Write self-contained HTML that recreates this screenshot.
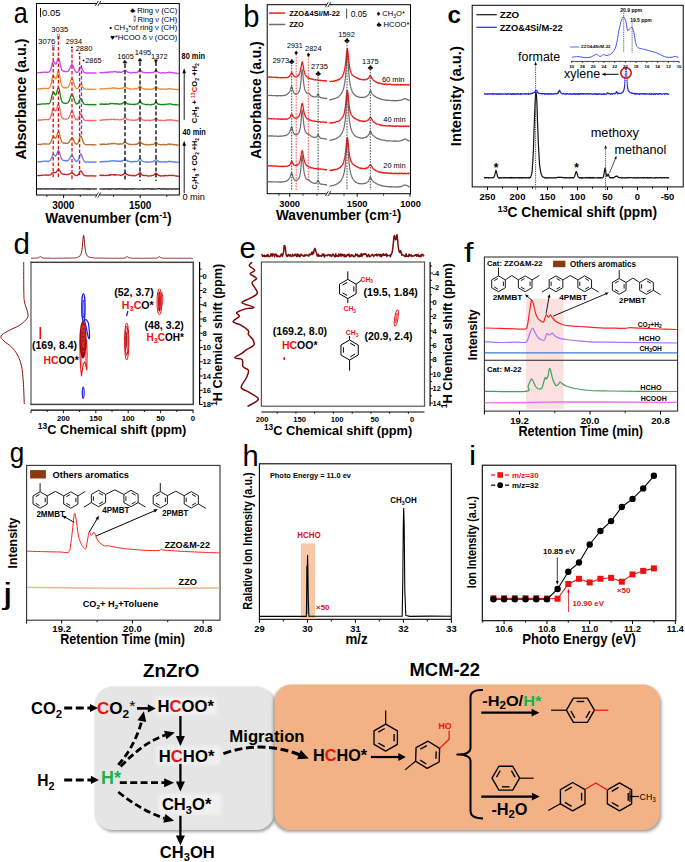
<!DOCTYPE html>
<html><head><meta charset="utf-8"><style>
html,body{margin:0;padding:0;background:#fff;width:685px;height:862px;overflow:hidden}
svg{display:block;font-family:"Liberation Sans", sans-serif}
</style></head><body>
<svg width="685" height="862" viewBox="0 0 685 862">
<text x="13.8" y="22.8" font-size="30" textLength="14.0" lengthAdjust="spacingAndGlyphs" >a</text>
<rect x="36.5" y="3.5" width="142.8" height="191.5" fill="none" stroke="#000" stroke-width="1" />
<text x="26.0" y="99.0" font-size="14.5" font-weight="bold" text-anchor="middle" textLength="121.0" lengthAdjust="spacingAndGlyphs" transform="rotate(-90 26.0 99.0)" >Absorbance (a.u.)</text>
<path d="M37.0,72.8 L37.5,72.8 L38.0,72.6 L38.5,72.6 L39.0,72.6 L39.5,72.6 L40.0,72.7 L40.5,72.5 L41.0,72.5 L41.5,72.5 L42.0,72.5 L42.5,72.3 L43.0,72.2 L43.5,72.3 L44.0,72.2 L44.5,72.0 L45.0,72.3 L45.5,72.3 L46.0,72.2 L46.5,72.3 L47.0,72.1 L47.5,72.3 L48.0,72.4 L48.5,72.2 L49.0,72.0 L49.5,71.4 L50.0,70.9 L50.5,69.9 L51.0,68.6 L51.5,66.8 L52.0,64.6 L52.5,63.0 L53.0,61.6 L53.5,61.4 L54.0,61.6 L54.5,62.3 L55.0,63.6 L55.5,64.1 L56.0,64.1 L56.5,63.0 L57.0,61.1 L57.5,59.6 L58.0,58.4 L58.5,57.9 L59.0,58.8 L59.5,60.9 L60.0,63.0 L60.5,65.6 L61.0,67.5 L61.5,69.3 L62.0,70.3 L62.5,70.8 L63.0,70.9 L63.5,71.2 L64.0,71.4 L64.5,71.6 L65.0,71.3 L65.5,71.6 L66.0,71.7 L66.5,71.6 L67.0,71.7 L67.5,71.4 L68.0,71.3 L68.5,70.7 L69.0,70.0 L69.5,69.0 L70.0,67.9 L70.5,66.6 L71.0,65.6 L71.5,64.8 L72.0,64.5 L72.5,64.9 L73.0,65.9 L73.5,67.1 L74.0,68.3 L74.5,69.4 L75.0,70.7 L75.5,71.6 L76.0,72.1 L76.5,72.4 L77.0,72.5 L77.5,72.3 L78.0,71.6 L78.5,70.8 L79.0,69.9 L79.5,68.6 L80.0,67.8 L80.5,67.1 L81.0,67.1 L81.5,67.5 L82.0,68.6 L82.5,69.6 L83.0,70.7 L83.5,71.7 L84.0,72.4 L84.5,72.7 L85.0,72.9 L85.5,72.7 L86.0,73.0 L86.5,72.9 L87.0,73.0 L87.5,73.1 L88.0,72.9 L88.5,73.0 L89.0,72.8 L89.5,72.9 L90.0,73.1 L90.5,72.9 L91.0,73.1 L91.5,72.8 L92.0,72.8 L92.5,73.1 L93.0,72.8 L93.5,73.0 L94.0,73.1 L94.5,73.0 L95.0,73.1 L95.5,72.8 L96.0,73.0 L96.5,73.0" stroke="#cc44ee" stroke-width="1.3" fill="none" stroke-linejoin="round" />
<path d="M99.5,72.8 L100.1,72.7 L100.7,72.7 L101.3,72.8 L101.9,72.4 L102.5,72.6 L103.1,72.8 L103.7,72.8 L104.3,72.5 L104.9,72.2 L105.5,72.4 L106.1,72.7 L106.7,72.1 L107.3,72.2 L107.9,72.6 L108.5,72.2 L109.1,71.9 L109.7,71.9 L110.3,72.3 L110.9,71.8 L111.5,71.8 L112.1,71.9 L112.7,72.0 L113.3,71.8 L113.9,71.5 L114.5,71.9 L115.1,71.6 L115.7,71.7 L116.3,71.8 L116.9,72.3 L117.5,72.0 L118.1,72.3 L118.7,72.0 L119.3,72.0 L119.9,71.9 L120.5,72.4 L121.1,72.4 L121.7,71.9 L122.3,71.7 L122.9,71.3 L123.5,71.3 L124.1,70.6 L124.7,70.1 L125.3,70.4 L125.9,70.9 L126.5,71.3 L127.1,71.5 L127.7,72.1 L128.3,72.3 L128.9,72.3 L129.5,72.3 L130.1,72.9 L130.7,72.9 L131.3,72.8 L131.9,73.0 L132.5,72.7 L133.1,72.6 L133.7,72.4 L134.3,72.7 L134.9,72.6 L135.5,72.5 L136.1,72.8 L136.7,72.6 L137.3,71.9 L137.9,72.1 L138.5,70.9 L139.1,70.5 L139.7,69.5 L140.3,69.8 L140.9,70.8 L141.5,71.3 L142.1,72.0 L142.7,71.9 L143.3,72.5 L143.9,72.3 L144.5,72.7 L145.1,72.6 L145.7,72.5 L146.3,73.0 L146.9,72.6 L147.5,72.7 L148.1,72.6 L148.7,73.0 L149.3,72.8 L149.9,72.6 L150.5,72.5 L151.1,72.7 L151.7,72.8 L152.3,72.4 L152.9,72.3 L153.5,72.5 L154.1,72.1 L154.7,71.3 L155.3,70.7 L155.9,70.1 L156.5,70.5 L157.1,71.2 L157.7,71.7 L158.3,72.1 L158.9,72.4 L159.5,72.6 L160.1,72.8 L160.7,73.1 L161.3,73.0 L161.9,72.9 L162.5,72.6 L163.1,72.7 L163.7,73.0 L164.3,72.8 L164.9,73.1 L165.5,73.1 L166.1,72.6 L166.7,72.6 L167.3,72.5 L167.9,72.7 L168.5,72.2 L169.1,72.2 L169.7,72.6 L170.3,72.3 L170.9,72.7 L171.5,72.4 L172.1,72.8 L172.7,72.7 L173.3,72.5 L173.9,73.0 L174.5,72.8 L175.1,73.3 L175.7,73.2 L176.3,73.2 L176.9,73.5 L177.5,73.3 L178.1,73.6 L178.7,73.4" stroke="#cc44ee" stroke-width="1.3" fill="none" stroke-linejoin="round" />
<path d="M37.0,88.8 L37.5,89.1 L38.0,89.1 L38.5,88.9 L39.0,88.9 L39.5,88.9 L40.0,88.9 L40.5,89.0 L41.0,88.6 L41.5,88.5 L42.0,88.8 L42.5,88.6 L43.0,88.7 L43.5,88.3 L44.0,88.4 L44.5,88.5 L45.0,88.3 L45.5,88.6 L46.0,88.6 L46.5,88.3 L47.0,88.3 L47.5,88.5 L48.0,88.7 L48.5,88.4 L49.0,88.1 L49.5,87.7 L50.0,86.8 L50.5,85.6 L51.0,84.0 L51.5,81.9 L52.0,79.5 L52.5,77.5 L53.0,76.1 L53.5,75.7 L54.0,76.0 L54.5,77.0 L55.0,78.4 L55.5,78.9 L56.0,78.6 L56.5,77.1 L57.0,75.3 L57.5,73.0 L58.0,71.1 L58.5,70.8 L59.0,72.1 L59.5,74.4 L60.0,77.5 L60.5,80.3 L61.0,83.1 L61.5,85.0 L62.0,86.1 L62.5,87.0 L63.0,87.5 L63.5,87.7 L64.0,87.7 L64.5,87.8 L65.0,87.6 L65.5,87.7 L66.0,88.0 L66.5,87.8 L67.0,87.7 L67.5,87.6 L68.0,87.3 L68.5,86.7 L69.0,85.6 L69.5,84.4 L70.0,83.0 L70.5,81.5 L71.0,80.0 L71.5,79.0 L72.0,78.7 L72.5,79.0 L73.0,80.0 L73.5,81.8 L74.0,83.6 L74.5,85.0 L75.0,86.3 L75.5,87.3 L76.0,88.1 L76.5,88.7 L77.0,88.7 L77.5,88.5 L78.0,88.2 L78.5,87.3 L79.0,86.5 L79.5,85.7 L80.0,84.7 L80.5,84.1 L81.0,84.0 L81.5,84.5 L82.0,85.5 L82.5,86.2 L83.0,87.4 L83.5,88.2 L84.0,88.8 L84.5,89.0 L85.0,89.2 L85.5,89.2 L86.0,89.2 L86.5,89.2 L87.0,89.1 L87.5,89.4 L88.0,89.3 L88.5,89.1 L89.0,89.3 L89.5,89.3 L90.0,89.2 L90.5,89.2 L91.0,89.3 L91.5,89.3 L92.0,89.3 L92.5,89.3 L93.0,89.1 L93.5,89.2 L94.0,89.2 L94.5,89.3 L95.0,89.4 L95.5,89.4 L96.0,89.4 L96.5,89.4" stroke="#f08a30" stroke-width="1.3" fill="none" stroke-linejoin="round" />
<path d="M99.5,88.6 L100.1,89.0 L100.7,88.9 L101.3,88.8 L101.9,88.6 L102.5,89.0 L103.1,89.0 L103.7,88.8 L104.3,88.8 L104.9,88.6 L105.5,88.4 L106.1,88.6 L106.7,88.7 L107.3,88.3 L107.9,88.8 L108.5,88.3 L109.1,88.2 L109.7,88.0 L110.3,88.6 L110.9,88.4 L111.5,88.4 L112.1,88.2 L112.7,87.7 L113.3,87.9 L113.9,88.1 L114.5,87.9 L115.1,88.5 L115.7,88.2 L116.3,88.1 L116.9,88.6 L117.5,88.2 L118.1,88.8 L118.7,88.5 L119.3,88.6 L119.9,88.4 L120.5,88.5 L121.1,88.3 L121.7,88.0 L122.3,88.5 L122.9,87.8 L123.5,87.7 L124.1,86.8 L124.7,87.0 L125.3,86.9 L125.9,87.3 L126.5,87.8 L127.1,88.1 L127.7,88.5 L128.3,88.3 L128.9,88.7 L129.5,89.0 L130.1,88.6 L130.7,89.2 L131.3,89.2 L131.9,88.9 L132.5,88.9 L133.1,88.9 L133.7,88.9 L134.3,89.3 L134.9,88.8 L135.5,88.5 L136.1,88.5 L136.7,88.8 L137.3,88.8 L137.9,88.1 L138.5,87.5 L139.1,86.7 L139.7,86.1 L140.3,85.7 L140.9,86.8 L141.5,87.6 L142.1,88.2 L142.7,88.3 L143.3,88.5 L143.9,88.8 L144.5,89.3 L145.1,89.0 L145.7,89.2 L146.3,89.0 L146.9,88.9 L147.5,88.9 L148.1,89.4 L148.7,89.4 L149.3,89.1 L149.9,89.3 L150.5,89.3 L151.1,89.4 L151.7,89.4 L152.3,88.9 L152.9,89.2 L153.5,89.0 L154.1,88.4 L154.7,88.1 L155.3,87.1 L155.9,86.6 L156.5,86.7 L157.1,87.9 L157.7,88.0 L158.3,88.3 L158.9,89.1 L159.5,89.2 L160.1,89.1 L160.7,89.4 L161.3,88.9 L161.9,89.1 L162.5,89.1 L163.1,89.2 L163.7,89.0 L164.3,88.9 L164.9,89.1 L165.5,89.4 L166.1,89.4 L166.7,89.2 L167.3,88.9 L167.9,88.7 L168.5,89.1 L169.1,88.7 L169.7,88.8 L170.3,88.3 L170.9,88.5 L171.5,89.0 L172.1,89.1 L172.7,89.3 L173.3,89.2 L173.9,89.1 L174.5,89.3 L175.1,89.6 L175.7,89.3 L176.3,89.5 L176.9,89.3 L177.5,89.7 L178.1,89.2 L178.7,89.7" stroke="#f08a30" stroke-width="1.3" fill="none" stroke-linejoin="round" />
<path d="M37.0,104.6 L37.5,104.6 L38.0,104.2 L38.5,104.2 L39.0,104.5 L39.5,104.4 L40.0,104.4 L40.5,104.2 L41.0,104.2 L41.5,104.2 L42.0,104.1 L42.5,103.9 L43.0,103.9 L43.5,103.8 L44.0,103.9 L44.5,104.0 L45.0,104.0 L45.5,103.8 L46.0,103.8 L46.5,103.8 L47.0,103.7 L47.5,103.7 L48.0,103.9 L48.5,103.8 L49.0,103.6 L49.5,103.4 L50.0,102.5 L50.5,101.4 L51.0,99.6 L51.5,97.5 L52.0,95.5 L52.5,93.5 L53.0,92.4 L53.5,92.1 L54.0,92.4 L54.5,93.2 L55.0,94.5 L55.5,95.0 L56.0,94.7 L56.5,93.4 L57.0,91.4 L57.5,89.3 L58.0,87.6 L58.5,87.5 L59.0,88.5 L59.5,90.4 L60.0,93.4 L60.5,96.3 L61.0,98.6 L61.5,100.5 L62.0,101.7 L62.5,102.5 L63.0,102.8 L63.5,103.1 L64.0,103.0 L64.5,103.3 L65.0,103.3 L65.5,103.2 L66.0,103.3 L66.5,103.4 L67.0,103.3 L67.5,103.0 L68.0,102.6 L68.5,102.0 L69.0,101.2 L69.5,99.8 L70.0,98.6 L70.5,96.8 L71.0,95.6 L71.5,94.5 L72.0,94.4 L72.5,94.7 L73.0,95.7 L73.5,97.2 L74.0,98.9 L74.5,100.5 L75.0,101.7 L75.5,102.7 L76.0,103.5 L76.5,104.0 L77.0,104.0 L77.5,103.6 L78.0,103.4 L78.5,102.6 L79.0,101.7 L79.5,100.2 L80.0,99.4 L80.5,98.5 L81.0,98.7 L81.5,99.1 L82.0,100.0 L82.5,101.5 L83.0,102.3 L83.5,103.3 L84.0,104.0 L84.5,104.2 L85.0,104.4 L85.5,104.7 L86.0,104.6 L86.5,104.7 L87.0,104.5 L87.5,104.6 L88.0,104.5 L88.5,104.7 L89.0,104.5 L89.5,104.8 L90.0,104.5 L90.5,104.8 L91.0,104.5 L91.5,104.6 L92.0,104.8 L92.5,104.5 L93.0,104.6 L93.5,104.8 L94.0,104.6 L94.5,104.5 L95.0,104.9 L95.5,104.6 L96.0,104.5 L96.5,104.6" stroke="#158a15" stroke-width="1.3" fill="none" stroke-linejoin="round" />
<path d="M99.5,104.6 L100.1,104.0 L100.7,103.9 L101.3,104.6 L101.9,104.0 L102.5,104.0 L103.1,104.3 L103.7,104.1 L104.3,104.4 L104.9,104.0 L105.5,104.4 L106.1,104.0 L106.7,104.1 L107.3,104.3 L107.9,104.1 L108.5,104.2 L109.1,104.0 L109.7,103.4 L110.3,104.0 L110.9,103.7 L111.5,103.4 L112.1,103.3 L112.7,103.7 L113.3,103.5 L113.9,103.8 L114.5,103.7 L115.1,103.9 L115.7,103.7 L116.3,103.9 L116.9,103.9 L117.5,103.7 L118.1,104.2 L118.7,103.8 L119.3,104.2 L119.9,104.3 L120.5,104.0 L121.1,103.6 L121.7,104.0 L122.3,103.7 L122.9,103.1 L123.5,102.6 L124.1,102.5 L124.7,101.7 L125.3,102.3 L125.9,102.5 L126.5,103.0 L127.1,103.4 L127.7,103.9 L128.3,104.2 L128.9,104.0 L129.5,104.1 L130.1,104.3 L130.7,104.2 L131.3,104.4 L131.9,104.4 L132.5,104.3 L133.1,104.5 L133.7,104.4 L134.3,104.1 L134.9,104.7 L135.5,104.2 L136.1,104.1 L136.7,104.0 L137.3,104.1 L137.9,103.8 L138.5,102.9 L139.1,102.0 L139.7,101.0 L140.3,101.6 L140.9,101.9 L141.5,103.0 L142.1,103.4 L142.7,103.8 L143.3,104.0 L143.9,104.1 L144.5,104.1 L145.1,104.5 L145.7,104.7 L146.3,104.7 L146.9,104.4 L147.5,104.7 L148.1,104.3 L148.7,104.6 L149.3,104.8 L149.9,104.9 L150.5,104.6 L151.1,104.8 L151.7,104.5 L152.3,104.4 L152.9,104.3 L153.5,104.4 L154.1,103.9 L154.7,103.2 L155.3,102.7 L155.9,102.2 L156.5,102.2 L157.1,103.2 L157.7,103.8 L158.3,104.1 L158.9,104.6 L159.5,104.1 L160.1,104.5 L160.7,104.7 L161.3,104.5 L161.9,104.4 L162.5,104.8 L163.1,104.6 L163.7,104.5 L164.3,104.3 L164.9,104.9 L165.5,104.4 L166.1,104.2 L166.7,104.2 L167.3,104.2 L167.9,104.5 L168.5,103.9 L169.1,103.9 L169.7,103.8 L170.3,104.0 L170.9,103.9 L171.5,104.1 L172.1,104.5 L172.7,104.7 L173.3,104.7 L173.9,104.3 L174.5,104.6 L175.1,105.0 L175.7,104.5 L176.3,104.6 L176.9,104.9 L177.5,104.9 L178.1,105.1 L178.7,105.1" stroke="#158a15" stroke-width="1.3" fill="none" stroke-linejoin="round" />
<path d="M37.0,120.1 L37.5,120.2 L38.0,120.1 L38.5,120.2 L39.0,120.2 L39.5,119.9 L40.0,119.9 L40.5,120.2 L41.0,119.9 L41.5,119.8 L42.0,120.1 L42.5,119.8 L43.0,119.9 L43.5,119.7 L44.0,119.7 L44.5,119.5 L45.0,119.7 L45.5,119.7 L46.0,119.6 L46.5,119.7 L47.0,119.7 L47.5,119.5 L48.0,119.8 L48.5,119.7 L49.0,119.4 L49.5,118.9 L50.0,118.5 L50.5,117.2 L51.0,115.8 L51.5,114.0 L52.0,111.8 L52.5,110.1 L53.0,108.6 L53.5,108.3 L54.0,108.6 L54.5,109.7 L55.0,110.7 L55.5,111.0 L56.0,110.8 L56.5,109.6 L57.0,108.1 L57.5,106.0 L58.0,104.7 L58.5,104.2 L59.0,105.3 L59.5,107.2 L60.0,109.8 L60.5,112.5 L61.0,114.8 L61.5,116.6 L62.0,117.6 L62.5,118.4 L63.0,118.7 L63.5,119.0 L64.0,118.9 L64.5,118.8 L65.0,119.1 L65.5,119.2 L66.0,119.2 L66.5,119.1 L67.0,119.1 L67.5,118.8 L68.0,118.7 L68.5,118.1 L69.0,117.2 L69.5,116.0 L70.0,115.0 L70.5,113.7 L71.0,112.1 L71.5,111.6 L72.0,111.2 L72.5,111.5 L73.0,112.5 L73.5,114.0 L74.0,115.5 L74.5,116.5 L75.0,117.9 L75.5,118.6 L76.0,119.5 L76.5,119.6 L77.0,119.9 L77.5,119.8 L78.0,119.1 L78.5,118.4 L79.0,117.1 L79.5,115.8 L80.0,114.9 L80.5,114.0 L81.0,114.0 L81.5,114.7 L82.0,115.8 L82.5,116.8 L83.0,117.9 L83.5,119.2 L84.0,119.6 L84.5,120.2 L85.0,120.4 L85.5,120.3 L86.0,120.4 L86.5,120.4 L87.0,120.5 L87.5,120.5 L88.0,120.5 L88.5,120.5 L89.0,120.6 L89.5,120.5 L90.0,120.4 L90.5,120.6 L91.0,120.4 L91.5,120.4 L92.0,120.7 L92.5,120.5 L93.0,120.5 L93.5,120.3 L94.0,120.5 L94.5,120.5 L95.0,120.3 L95.5,120.5 L96.0,120.5 L96.5,120.3" stroke="#f46a6a" stroke-width="1.3" fill="none" stroke-linejoin="round" />
<path d="M99.5,120.4 L100.1,120.4 L100.7,120.3 L101.3,119.8 L101.9,120.1 L102.5,120.0 L103.1,120.0 L103.7,119.7 L104.3,119.8 L104.9,119.9 L105.5,119.7 L106.1,119.9 L106.7,119.5 L107.3,119.5 L107.9,119.9 L108.5,119.6 L109.1,119.6 L109.7,119.7 L110.3,119.4 L110.9,119.1 L111.5,119.5 L112.1,119.4 L112.7,119.4 L113.3,119.4 L113.9,119.6 L114.5,119.2 L115.1,119.6 L115.7,119.4 L116.3,119.6 L116.9,119.7 L117.5,119.5 L118.1,119.4 L118.7,119.7 L119.3,119.9 L119.9,119.8 L120.5,119.7 L121.1,119.8 L121.7,119.3 L122.3,119.2 L122.9,119.0 L123.5,119.0 L124.1,118.0 L124.7,117.6 L125.3,117.6 L125.9,118.0 L126.5,118.7 L127.1,119.3 L127.7,119.8 L128.3,119.6 L128.9,119.8 L129.5,119.8 L130.1,119.9 L130.7,120.3 L131.3,120.2 L131.9,120.0 L132.5,119.9 L133.1,120.4 L133.7,120.3 L134.3,120.4 L134.9,119.9 L135.5,120.1 L136.1,120.3 L136.7,119.9 L137.3,119.9 L137.9,119.1 L138.5,119.1 L139.1,117.6 L139.7,117.1 L140.3,116.8 L140.9,118.2 L141.5,118.9 L142.1,119.7 L142.7,119.9 L143.3,120.2 L143.9,120.1 L144.5,120.5 L145.1,120.4 L145.7,120.2 L146.3,120.7 L146.9,120.3 L147.5,120.2 L148.1,120.1 L148.7,120.4 L149.3,120.2 L149.9,120.7 L150.5,120.7 L151.1,120.1 L151.7,120.0 L152.3,120.2 L152.9,119.9 L153.5,119.9 L154.1,119.8 L154.7,118.9 L155.3,118.3 L155.9,118.1 L156.5,118.1 L157.1,118.7 L157.7,119.7 L158.3,120.0 L158.9,120.3 L159.5,120.3 L160.1,120.2 L160.7,120.5 L161.3,120.6 L161.9,120.5 L162.5,120.3 L163.1,120.3 L163.7,120.4 L164.3,120.6 L164.9,120.4 L165.5,120.4 L166.1,120.5 L166.7,119.9 L167.3,120.2 L167.9,119.9 L168.5,120.0 L169.1,120.1 L169.7,119.7 L170.3,120.2 L170.9,119.6 L171.5,120.0 L172.1,120.1 L172.7,120.0 L173.3,120.4 L173.9,120.4 L174.5,120.4 L175.1,120.7 L175.7,120.3 L176.3,120.6 L176.9,120.9 L177.5,120.5 L178.1,121.0 L178.7,120.6" stroke="#f46a6a" stroke-width="1.3" fill="none" stroke-linejoin="round" />
<path d="M37.0,144.4 L37.5,144.3 L38.0,144.4 L38.5,144.3 L39.0,144.3 L39.5,144.4 L40.0,144.6 L40.5,144.5 L41.0,144.4 L41.5,144.1 L42.0,144.2 L42.5,144.0 L43.0,143.9 L43.5,143.8 L44.0,143.8 L44.5,144.1 L45.0,144.0 L45.5,144.0 L46.0,144.0 L46.5,143.8 L47.0,143.9 L47.5,144.1 L48.0,144.1 L48.5,144.2 L49.0,144.1 L49.5,143.5 L50.0,143.3 L50.5,142.6 L51.0,141.5 L51.5,140.2 L52.0,139.0 L52.5,137.6 L53.0,137.1 L53.5,136.8 L54.0,136.9 L54.5,137.3 L55.0,138.0 L55.5,138.1 L56.0,137.8 L56.5,136.6 L57.0,134.9 L57.5,133.3 L58.0,132.3 L58.5,131.9 L59.0,132.5 L59.5,134.1 L60.0,136.3 L60.5,138.1 L61.0,139.8 L61.5,141.3 L62.0,142.1 L62.5,142.7 L63.0,142.9 L63.5,143.0 L64.0,143.4 L64.5,143.1 L65.0,143.3 L65.5,143.2 L66.0,143.4 L66.5,143.3 L67.0,143.3 L67.5,143.4 L68.0,143.0 L68.5,142.8 L69.0,142.4 L69.5,141.3 L70.0,140.4 L70.5,139.5 L71.0,138.9 L71.5,138.3 L72.0,137.9 L72.5,138.3 L73.0,138.9 L73.5,139.9 L74.0,140.8 L74.5,142.1 L75.0,143.0 L75.5,143.7 L76.0,144.0 L76.5,144.3 L77.0,143.8 L77.5,143.6 L78.0,143.1 L78.5,141.8 L79.0,140.2 L79.5,138.7 L80.0,137.1 L80.5,136.3 L81.0,136.0 L81.5,136.7 L82.0,138.2 L82.5,139.8 L83.0,141.5 L83.5,143.0 L84.0,143.6 L84.5,144.0 L85.0,144.3 L85.5,144.5 L86.0,144.8 L86.5,144.7 L87.0,144.7 L87.5,144.6 L88.0,144.9 L88.5,144.7 L89.0,144.6 L89.5,144.6 L90.0,144.6 L90.5,144.6 L91.0,144.8 L91.5,144.6 L92.0,144.6 L92.5,144.8 L93.0,144.7 L93.5,145.0 L94.0,144.6 L94.5,144.8 L95.0,144.9 L95.5,144.8 L96.0,145.0 L96.5,144.8" stroke="#c07028" stroke-width="1.3" fill="none" stroke-linejoin="round" />
<path d="M99.5,144.5 L100.1,144.6 L100.7,144.1 L101.3,144.7 L101.9,144.1 L102.5,144.4 L103.1,144.0 L103.7,144.5 L104.3,144.0 L104.9,144.4 L105.5,144.4 L106.1,144.4 L106.7,144.1 L107.3,144.4 L107.9,144.4 L108.5,143.7 L109.1,143.9 L109.7,144.2 L110.3,144.0 L110.9,143.7 L111.5,143.5 L112.1,143.9 L112.7,143.3 L113.3,143.8 L113.9,143.8 L114.5,143.4 L115.1,143.6 L115.7,143.6 L116.3,143.9 L116.9,143.8 L117.5,144.2 L118.1,144.3 L118.7,143.9 L119.3,144.3 L119.9,143.8 L120.5,143.7 L121.1,144.1 L121.7,144.1 L122.3,143.9 L122.9,143.8 L123.5,143.3 L124.1,142.4 L124.7,142.3 L125.3,142.4 L125.9,142.3 L126.5,143.1 L127.1,143.3 L127.7,143.6 L128.3,144.0 L128.9,144.3 L129.5,144.6 L130.1,144.1 L130.7,144.4 L131.3,144.8 L131.9,144.7 L132.5,144.5 L133.1,144.3 L133.7,144.6 L134.3,144.3 L134.9,144.5 L135.5,144.5 L136.1,144.2 L136.7,144.4 L137.3,143.9 L137.9,143.6 L138.5,143.3 L139.1,142.0 L139.7,141.2 L140.3,141.5 L140.9,142.2 L141.5,143.3 L142.1,143.5 L142.7,143.9 L143.3,143.9 L143.9,144.4 L144.5,144.4 L145.1,144.5 L145.7,144.8 L146.3,144.3 L146.9,145.0 L147.5,144.8 L148.1,144.9 L148.7,144.7 L149.3,144.8 L149.9,144.6 L150.5,144.6 L151.1,144.5 L151.7,144.5 L152.3,144.4 L152.9,144.3 L153.5,144.5 L154.1,144.1 L154.7,143.4 L155.3,142.3 L155.9,142.0 L156.5,142.5 L157.1,143.3 L157.7,143.7 L158.3,144.2 L158.9,144.6 L159.5,144.3 L160.1,144.5 L160.7,144.8 L161.3,144.6 L161.9,144.9 L162.5,144.7 L163.1,144.4 L163.7,144.7 L164.3,144.4 L164.9,144.9 L165.5,144.9 L166.1,144.6 L166.7,144.8 L167.3,144.2 L167.9,144.3 L168.5,144.0 L169.1,143.9 L169.7,144.4 L170.3,143.9 L170.9,144.5 L171.5,144.3 L172.1,144.5 L172.7,144.2 L173.3,144.9 L173.9,144.9 L174.5,144.5 L175.1,144.6 L175.7,144.7 L176.3,145.0 L176.9,144.7 L177.5,145.2 L178.1,145.1 L178.7,145.2" stroke="#c07028" stroke-width="1.3" fill="none" stroke-linejoin="round" />
<path d="M37.0,161.8 L37.5,161.9 L38.0,161.9 L38.5,161.9 L39.0,161.8 L39.5,161.9 L40.0,161.5 L40.5,161.6 L41.0,161.8 L41.5,161.6 L42.0,161.6 L42.5,161.3 L43.0,161.3 L43.5,161.2 L44.0,161.3 L44.5,161.2 L45.0,161.0 L45.5,161.1 L46.0,161.1 L46.5,161.4 L47.0,161.4 L47.5,161.2 L48.0,161.5 L48.5,161.2 L49.0,161.3 L49.5,160.9 L50.0,160.4 L50.5,160.1 L51.0,158.9 L51.5,157.8 L52.0,156.9 L52.5,155.8 L53.0,154.8 L53.5,154.8 L54.0,154.8 L54.5,155.3 L55.0,155.6 L55.5,156.1 L56.0,155.6 L56.5,154.8 L57.0,153.4 L57.5,151.8 L58.0,150.8 L58.5,150.5 L59.0,151.1 L59.5,152.5 L60.0,154.3 L60.5,156.2 L61.0,157.5 L61.5,158.9 L62.0,159.5 L62.5,159.9 L63.0,160.4 L63.5,160.4 L64.0,160.4 L64.5,160.5 L65.0,160.7 L65.5,160.5 L66.0,160.9 L66.5,160.5 L67.0,160.8 L67.5,160.8 L68.0,160.2 L68.5,160.2 L69.0,159.5 L69.5,158.9 L70.0,157.8 L70.5,156.9 L71.0,156.2 L71.5,156.0 L72.0,155.5 L72.5,156.0 L73.0,156.7 L73.5,157.6 L74.0,158.4 L74.5,159.4 L75.0,160.2 L75.5,161.0 L76.0,161.1 L76.5,161.5 L77.0,161.5 L77.5,161.1 L78.0,160.1 L78.5,159.4 L79.0,157.7 L79.5,156.2 L80.0,154.9 L80.5,154.2 L81.0,153.9 L81.5,154.9 L82.0,156.0 L82.5,157.5 L83.0,159.0 L83.5,160.1 L84.0,160.9 L84.5,161.4 L85.0,161.9 L85.5,162.2 L86.0,161.9 L86.5,161.9 L87.0,162.2 L87.5,162.1 L88.0,162.0 L88.5,162.0 L89.0,162.1 L89.5,162.2 L90.0,162.0 L90.5,162.0 L91.0,161.9 L91.5,162.2 L92.0,161.9 L92.5,162.1 L93.0,162.2 L93.5,161.9 L94.0,162.2 L94.5,162.3 L95.0,162.1 L95.5,162.2 L96.0,161.9 L96.5,162.1" stroke="#5f7ef8" stroke-width="1.3" fill="none" stroke-linejoin="round" />
<path d="M99.5,161.6 L100.1,162.0 L100.7,161.9 L101.3,161.4 L101.9,161.9 L102.5,161.7 L103.1,161.3 L103.7,161.9 L104.3,161.4 L104.9,161.4 L105.5,161.5 L106.1,161.6 L106.7,161.2 L107.3,161.5 L107.9,161.6 L108.5,161.3 L109.1,161.4 L109.7,161.2 L110.3,161.3 L110.9,160.8 L111.5,160.8 L112.1,160.9 L112.7,160.6 L113.3,161.2 L113.9,161.0 L114.5,160.7 L115.1,161.1 L115.7,161.0 L116.3,160.9 L116.9,161.0 L117.5,161.2 L118.1,161.0 L118.7,161.4 L119.3,161.4 L119.9,161.1 L120.5,161.6 L121.1,161.0 L121.7,160.9 L122.3,161.2 L122.9,160.5 L123.5,160.3 L124.1,159.9 L124.7,159.4 L125.3,159.4 L125.9,159.9 L126.5,160.4 L127.1,160.5 L127.7,161.4 L128.3,161.2 L128.9,161.2 L129.5,161.5 L130.1,161.9 L130.7,161.8 L131.3,161.7 L131.9,161.8 L132.5,161.6 L133.1,161.9 L133.7,161.7 L134.3,161.5 L134.9,161.5 L135.5,161.4 L136.1,161.7 L136.7,161.7 L137.3,161.4 L137.9,160.7 L138.5,160.1 L139.1,159.8 L139.7,158.6 L140.3,158.5 L140.9,159.6 L141.5,160.4 L142.1,161.0 L142.7,161.3 L143.3,161.4 L143.9,161.7 L144.5,161.8 L145.1,162.0 L145.7,161.9 L146.3,161.9 L146.9,162.3 L147.5,161.7 L148.1,162.2 L148.7,162.0 L149.3,162.2 L149.9,162.1 L150.5,162.0 L151.1,162.0 L151.7,161.7 L152.3,161.5 L152.9,161.9 L153.5,161.3 L154.1,160.9 L154.7,160.9 L155.3,160.0 L155.9,159.1 L156.5,159.7 L157.1,160.2 L157.7,161.3 L158.3,161.2 L158.9,162.0 L159.5,161.9 L160.1,161.6 L160.7,161.9 L161.3,162.3 L161.9,162.2 L162.5,161.8 L163.1,161.9 L163.7,161.9 L164.3,161.7 L164.9,162.0 L165.5,162.1 L166.1,161.7 L166.7,161.8 L167.3,162.0 L167.9,161.9 L168.5,161.3 L169.1,161.2 L169.7,161.7 L170.3,161.3 L170.9,161.3 L171.5,161.8 L172.1,161.5 L172.7,162.0 L173.3,162.0 L173.9,161.9 L174.5,162.1 L175.1,162.0 L175.7,162.4 L176.3,162.1 L176.9,162.1 L177.5,162.6 L178.1,162.2 L178.7,162.4" stroke="#5f7ef8" stroke-width="1.3" fill="none" stroke-linejoin="round" />
<path d="M37.0,175.7 L37.5,175.7 L38.0,175.6 L38.5,175.5 L39.0,175.3 L39.5,175.6 L40.0,175.5 L40.5,175.5 L41.0,175.3 L41.5,175.4 L42.0,175.2 L42.5,175.3 L43.0,175.2 L43.5,175.1 L44.0,175.1 L44.5,175.1 L45.0,174.9 L45.5,175.0 L46.0,175.1 L46.5,175.0 L47.0,175.2 L47.5,175.2 L48.0,175.3 L48.5,175.1 L49.0,175.0 L49.5,175.2 L50.0,175.1 L50.5,174.7 L51.0,174.2 L51.5,173.7 L52.0,173.4 L52.5,172.8 L53.0,172.7 L53.5,172.4 L54.0,172.3 L54.5,172.6 L55.0,172.6 L55.5,172.7 L56.0,172.4 L56.5,171.7 L57.0,170.9 L57.5,170.2 L58.0,169.7 L58.5,169.6 L59.0,169.5 L59.5,170.3 L60.0,171.2 L60.5,172.0 L61.0,172.9 L61.5,173.3 L62.0,173.9 L62.5,174.0 L63.0,174.0 L63.5,174.3 L64.0,174.2 L64.5,174.2 L65.0,174.4 L65.5,174.3 L66.0,174.4 L66.5,174.7 L67.0,174.7 L67.5,174.4 L68.0,174.7 L68.5,174.3 L69.0,174.2 L69.5,174.2 L70.0,173.8 L70.5,173.4 L71.0,173.1 L71.5,172.9 L72.0,172.8 L72.5,173.3 L73.0,173.2 L73.5,173.7 L74.0,174.3 L74.5,174.6 L75.0,175.2 L75.5,175.1 L76.0,175.6 L76.5,175.6 L77.0,175.5 L77.5,175.3 L78.0,174.7 L78.5,174.2 L79.0,173.4 L79.5,172.3 L80.0,171.5 L80.5,171.1 L81.0,170.9 L81.5,171.2 L82.0,172.3 L82.5,173.0 L83.0,174.0 L83.5,174.9 L84.0,175.1 L84.5,175.4 L85.0,175.6 L85.5,175.8 L86.0,175.8 L86.5,175.7 L87.0,175.8 L87.5,176.0 L88.0,175.8 L88.5,175.8 L89.0,176.0 L89.5,175.9 L90.0,175.8 L90.5,175.9 L91.0,175.9 L91.5,175.7 L92.0,175.8 L92.5,175.8 L93.0,176.0 L93.5,175.8 L94.0,175.9 L94.5,176.1 L95.0,176.1 L95.5,175.8 L96.0,175.9 L96.5,175.8" stroke="#cc2020" stroke-width="1.3" fill="none" stroke-linejoin="round" />
<path d="M99.5,175.6 L100.1,175.2 L100.7,175.2 L101.3,175.5 L101.9,175.1 L102.5,175.6 L103.1,175.6 L103.7,175.1 L104.3,175.5 L104.9,175.4 L105.5,175.4 L106.1,175.6 L106.7,175.6 L107.3,175.1 L107.9,175.4 L108.5,175.3 L109.1,175.4 L109.7,174.6 L110.3,175.2 L110.9,174.6 L111.5,174.5 L112.1,174.8 L112.7,174.9 L113.3,175.0 L113.9,174.6 L114.5,175.0 L115.1,174.5 L115.7,175.2 L116.3,174.8 L116.9,175.0 L117.5,174.8 L118.1,174.8 L118.7,174.8 L119.3,175.2 L119.9,175.2 L120.5,175.4 L121.1,175.3 L121.7,174.9 L122.3,175.0 L122.9,174.3 L123.5,174.4 L124.1,173.5 L124.7,173.5 L125.3,173.2 L125.9,173.6 L126.5,174.2 L127.1,174.3 L127.7,174.6 L128.3,175.2 L128.9,175.4 L129.5,175.1 L130.1,175.4 L130.7,175.4 L131.3,175.7 L131.9,175.9 L132.5,175.3 L133.1,175.6 L133.7,175.3 L134.3,175.8 L134.9,175.8 L135.5,175.6 L136.1,175.4 L136.7,174.9 L137.3,174.7 L137.9,174.5 L138.5,173.8 L139.1,173.1 L139.7,172.9 L140.3,172.4 L140.9,173.6 L141.5,174.3 L142.1,174.9 L142.7,175.4 L143.3,175.5 L143.9,175.4 L144.5,175.6 L145.1,175.6 L145.7,175.4 L146.3,175.4 L146.9,175.8 L147.5,175.8 L148.1,176.1 L148.7,175.9 L149.3,176.0 L149.9,175.8 L150.5,175.8 L151.1,176.0 L151.7,175.4 L152.3,175.3 L152.9,175.4 L153.5,175.1 L154.1,174.9 L154.7,174.1 L155.3,173.5 L155.9,173.0 L156.5,173.6 L157.1,173.9 L157.7,174.5 L158.3,175.3 L158.9,175.4 L159.5,175.3 L160.1,176.0 L160.7,175.8 L161.3,176.1 L161.9,175.9 L162.5,175.9 L163.1,175.8 L163.7,175.5 L164.3,176.1 L164.9,175.7 L165.5,175.6 L166.1,175.4 L166.7,175.7 L167.3,175.9 L167.9,175.4 L168.5,175.6 L169.1,175.4 L169.7,175.3 L170.3,175.4 L170.9,175.5 L171.5,175.7 L172.1,175.2 L172.7,175.4 L173.3,175.5 L173.9,175.5 L174.5,175.7 L175.1,175.9 L175.7,175.8 L176.3,176.1 L176.9,175.8 L177.5,176.4 L178.1,176.3 L178.7,175.9" stroke="#cc2020" stroke-width="1.3" fill="none" stroke-linejoin="round" />
<path d="M37.0,188.9 L38.0,189.0 L39.0,188.8 L40.0,188.8 L41.0,189.0 L42.0,188.9 L43.0,188.8 L44.0,188.9 L45.0,189.0 L46.0,188.9 L47.0,188.8 L48.0,189.0 L49.0,188.8 L50.0,188.9 L51.0,188.9 L52.0,188.9 L53.0,189.0 L54.0,188.8 L55.0,188.9 L56.0,188.8 L57.0,189.0 L58.0,188.8 L59.0,188.9 L60.0,189.0 L61.0,189.0 L62.0,188.8 L63.0,189.0 L64.0,189.0 L65.0,188.8 L66.0,189.0 L67.0,188.8 L68.0,188.8 L69.0,188.8 L70.0,188.8 L71.0,189.0 L72.0,188.9 L73.0,189.0 L74.0,189.0 L75.0,188.8 L76.0,188.9 L77.0,188.8 L78.0,188.9 L79.0,188.9 L80.0,188.9 L81.0,188.8 L82.0,188.9 L83.0,188.8 L84.0,189.0 L85.0,188.9 L86.0,188.8 L87.0,189.0 L88.0,189.0 L89.0,188.8 L90.0,189.0 L91.0,188.8 L92.0,188.9 L93.0,188.9 L94.0,189.0 L95.0,188.8 L96.0,188.8 L97.0,188.8" stroke="#222" stroke-width="1.3" fill="none" stroke-linejoin="round" />
<path d="M99.5,188.9 L100.5,188.8 L101.5,188.8 L102.5,189.1 L103.5,188.9 L104.5,189.0 L105.5,188.9 L106.5,188.9 L107.5,189.0 L108.5,188.9 L109.5,189.0 L110.5,189.0 L111.5,189.0 L112.5,188.9 L113.5,188.8 L114.5,188.8 L115.5,189.0 L116.5,188.8 L117.5,189.0 L118.5,188.9 L119.5,188.7 L120.5,189.0 L121.5,188.7 L122.5,189.0 L123.5,189.0 L124.5,188.8 L125.5,189.0 L126.5,189.0 L127.5,188.8 L128.5,189.0 L129.5,188.7 L130.5,189.1 L131.5,189.0 L132.5,189.1 L133.5,188.7 L134.5,188.8 L135.5,188.9 L136.5,188.9 L137.5,188.8 L138.5,189.1 L139.5,189.0 L140.5,188.8 L141.5,188.8 L142.5,189.0 L143.5,188.9 L144.5,189.0 L145.5,188.9 L146.5,188.9 L147.5,188.7 L148.5,188.8 L149.5,188.9 L150.5,189.0 L151.5,188.9 L152.5,189.0 L153.5,188.9 L154.5,189.1 L155.5,189.0 L156.5,188.8 L157.5,188.8 L158.5,188.7 L159.5,188.7 L160.5,189.0 L161.5,189.0 L162.5,189.0 L163.5,188.7 L164.5,189.0 L165.5,188.8 L166.5,189.1 L167.5,189.0 L168.5,189.0 L169.5,188.9 L170.5,188.9 L171.5,189.0 L172.5,189.1 L173.5,188.8 L174.5,188.9 L175.5,189.0 L176.5,189.0 L177.5,188.9 L178.5,188.9 L179.5,189.1" stroke="#222" stroke-width="1.3" fill="none" stroke-linejoin="round" />
<line x1="53.2" y1="47.0" x2="53.2" y2="177.0" stroke="#dd1111" stroke-width="1.3" stroke-dasharray="3.5,2" />
<line x1="58.4" y1="36.0" x2="58.4" y2="177.0" stroke="#dd1111" stroke-width="1.3" stroke-dasharray="3.5,2" />
<line x1="72.0" y1="49.0" x2="72.0" y2="179.0" stroke="#dd1111" stroke-width="1.3" stroke-dasharray="3.5,2" />
<line x1="79.6" y1="56.0" x2="79.6" y2="176.0" stroke="#dd1111" stroke-width="1.3" stroke-dasharray="3.5,2" />
<line x1="81.5" y1="65.0" x2="81.5" y2="135.0" stroke="#3355ff" stroke-width="1.3" stroke-dasharray="3.5,2" />
<line x1="125.0" y1="64.0" x2="125.0" y2="181.0" stroke="#000" stroke-width="1.3" stroke-dasharray="4,2.2" />
<line x1="140.0" y1="62.0" x2="140.0" y2="181.0" stroke="#000" stroke-width="1.3" stroke-dasharray="4,2.2" />
<line x1="156.0" y1="62.0" x2="156.0" y2="181.0" stroke="#000" stroke-width="1.3" stroke-dasharray="4,2.2" />
<rect x="96.8" y="2.0" width="2.6" height="3.0" fill="#fff" />
<line x1="95.3" y1="6.0" x2="98.3" y2="1.0" stroke="#000" stroke-width="0.8" />
<line x1="97.8" y1="6.0" x2="100.8" y2="1.0" stroke="#000" stroke-width="0.8" />
<rect x="96.8" y="193.5" width="2.6" height="3.0" fill="#fff" />
<line x1="95.3" y1="197.5" x2="98.3" y2="192.5" stroke="#000" stroke-width="0.8" />
<line x1="97.8" y1="197.5" x2="100.8" y2="192.5" stroke="#000" stroke-width="0.8" />
<line x1="63.6" y1="195.0" x2="63.6" y2="198.0" stroke="#000" stroke-width="1" />
<line x1="140.2" y1="195.0" x2="140.2" y2="198.0" stroke="#000" stroke-width="1" />
<line x1="46.9" y1="195.0" x2="46.9" y2="197.0" stroke="#000" stroke-width="0.8" />
<line x1="80.3" y1="195.0" x2="80.3" y2="197.0" stroke="#000" stroke-width="0.8" />
<line x1="113.6" y1="195.0" x2="113.6" y2="197.0" stroke="#000" stroke-width="0.8" />
<line x1="166.8" y1="195.0" x2="166.8" y2="197.0" stroke="#000" stroke-width="0.8" />
<text x="63.3" y="209.0" font-size="10" font-weight="bold" text-anchor="middle" >3000</text>
<text x="140.2" y="209.0" font-size="10" font-weight="bold" text-anchor="middle" >1500</text>
<text x="45.2" y="222.6" font-size="14" font-weight="bold" textLength="126.5" lengthAdjust="spacingAndGlyphs" >Wavenumber (cm<tspan dy="-4.5" font-size="9">-1</tspan><tspan dy="4.5">)</tspan></text>
<line x1="40.5" y1="8.0" x2="40.5" y2="17.0" stroke="#000" stroke-width="0.9" />
<text x="42.0" y="16.3" font-size="9.5" textLength="18.4" lengthAdjust="spacingAndGlyphs" >0.05</text>
<text x="38.2" y="43.8" font-size="8" textLength="17.0" lengthAdjust="spacingAndGlyphs" >3076</text>
<text x="51.3" y="32.4" font-size="8" textLength="17.0" lengthAdjust="spacingAndGlyphs" >3035</text>
<text x="65.7" y="43.8" font-size="8" textLength="16.3" lengthAdjust="spacingAndGlyphs" >2934</text>
<text x="75.7" y="50.8" font-size="8" textLength="16.6" lengthAdjust="spacingAndGlyphs" >2880</text>
<text x="85.3" y="62.7" font-size="8" textLength="16.3" lengthAdjust="spacingAndGlyphs" >2865</text>
<rect x="52.2" y="45.3" width="2.0" height="4.8" fill="none" stroke="#555" stroke-width="0.5" />
<rect x="57.4" y="34.1" width="2.0" height="4.8" fill="none" stroke="#555" stroke-width="0.5" />
<circle cx="71.9" cy="47.3" r="0.9" fill="#000"/>
<circle cx="79.6" cy="53.3" r="0.9" fill="#000"/>
<circle cx="83.6" cy="60.5" r="0.9" fill="#000"/>
<text x="130.2" y="12.7" font-size="7.6" textLength="47.1" lengthAdjust="spacingAndGlyphs" >♣ Ring ν (CC)</text>
<text x="137.6" y="21.5" font-size="7.6" textLength="39.7" lengthAdjust="spacingAndGlyphs" >Ring ν (CH)</text>
<rect x="134.0" y="16.0" width="1.6" height="5.2" fill="none" stroke="#444" stroke-width="0.5" />
<text x="109.2" y="30.0" font-size="7.6" textLength="68.1" lengthAdjust="spacingAndGlyphs" >• CH<tspan dy="1.5" font-size="5.5">3</tspan><tspan dy="-1.5">*of ring ν (CH)</tspan></text>
<text x="110.2" y="39.9" font-size="7.6" textLength="67.1" lengthAdjust="spacingAndGlyphs" >♥*HCOO δ ν (OCO)</text>
<text x="125.5" y="58.7" font-size="8" text-anchor="middle" textLength="16.5" lengthAdjust="spacingAndGlyphs" >1605</text>
<text x="142.9" y="55.2" font-size="8" text-anchor="middle" textLength="16.5" lengthAdjust="spacingAndGlyphs" >1495</text>
<text x="159.3" y="58.7" font-size="8" text-anchor="middle" textLength="16.5" lengthAdjust="spacingAndGlyphs" >1372</text>
<text x="125.0" y="63.5" font-size="6.5" text-anchor="middle" >♣</text>
<text x="140.0" y="61.5" font-size="6.5" text-anchor="middle" >♣</text>
<text x="156.0" y="62.5" font-size="6.5" text-anchor="middle" >♥</text>
<text x="181.6" y="59.2" font-size="8.2" font-weight="bold" textLength="23.4" lengthAdjust="spacingAndGlyphs" >80 min</text>
<text x="182.4" y="135.0" font-size="8.2" font-weight="bold" textLength="23.4" lengthAdjust="spacingAndGlyphs" >40 min</text>
<text x="182.4" y="200.0" font-size="9.2" textLength="22.6" lengthAdjust="spacingAndGlyphs" >0 min</text>
<line x1="184.2" y1="119.8" x2="184.2" y2="72.3" stroke="#000" stroke-width="0.9" />
<path d="M184.20,68.30 L186.00,73.30 L182.40,73.30 Z" stroke="none" stroke-width="0" fill="#000" stroke-linejoin="round" />
<line x1="184.2" y1="193.0" x2="184.2" y2="144.7" stroke="#000" stroke-width="0.9" />
<path d="M184.20,140.70 L186.00,145.70 L182.40,145.70 Z" stroke="none" stroke-width="0" fill="#000" stroke-linejoin="round" />
<text x="197.5" y="93.2" font-size="7.6" font-weight="bold" text-anchor="middle" textLength="60.0" lengthAdjust="spacingAndGlyphs" transform="rotate(-90 197.5 93.2)" >C<tspan dy="1.5" font-size="5">7</tspan><tspan dy="-1.5">H</tspan><tspan dy="1.5" font-size="5">8</tspan><tspan dy="-1.5"> + </tspan><tspan dy="-2.5" font-size="5" fill="#ee1111">13</tspan><tspan dy="2.5" fill="#ee1111">C</tspan>O<tspan dy="1.5" font-size="5">2</tspan><tspan dy="-1.5"> +H</tspan><tspan dy="1.5" font-size="5">2</tspan></text>
<text x="197.5" y="163.8" font-size="7.6" font-weight="bold" text-anchor="middle" textLength="51.5" lengthAdjust="spacingAndGlyphs" transform="rotate(-90 197.5 163.8)" >C<tspan dy="1.5" font-size="5">7</tspan><tspan dy="-1.5">H</tspan><tspan dy="1.5" font-size="5">8</tspan><tspan dy="-1.5"> + CO</tspan><tspan dy="1.5" font-size="5">2</tspan><tspan dy="-1.5"> +H</tspan><tspan dy="1.5" font-size="5">2</tspan></text>
<text x="243.3" y="27.2" font-size="31.5" textLength="16.2" lengthAdjust="spacingAndGlyphs" >b</text>
<rect x="267.2" y="4.7" width="143.3" height="189.0" fill="none" stroke="#000" stroke-width="1" />
<text x="260.6" y="100.0" font-size="14.5" font-weight="bold" text-anchor="middle" textLength="117.5" lengthAdjust="spacingAndGlyphs" transform="rotate(-90 260.6 100.0)" >Absorbance (a.u.)</text>
<path d="M267.5,95.2 L267.9,95.4 L268.3,95.5 L268.7,95.5 L269.1,95.5 L269.5,95.4 L269.9,95.6 L270.3,95.5 L270.7,95.3 L271.1,95.5 L271.5,95.3 L271.9,95.7 L272.3,95.7 L272.7,95.5 L273.1,95.5 L273.5,95.7 L273.9,95.5 L274.3,95.5 L274.7,95.5 L275.1,95.6 L275.5,95.7 L275.9,95.9 L276.3,95.6 L276.7,95.9 L277.1,95.7 L277.5,95.9 L277.9,95.8 L278.3,95.6 L278.7,95.8 L279.1,95.6 L279.5,95.5 L279.9,95.7 L280.3,95.8 L280.7,95.7 L281.1,95.6 L281.5,95.8 L281.9,95.8 L282.3,95.5 L282.7,95.6 L283.1,95.6 L283.5,95.7 L283.9,95.3 L284.3,95.4 L284.7,95.5 L285.1,95.2 L285.5,95.2 L285.9,95.0 L286.3,94.8 L286.7,94.5 L287.1,94.4 L287.5,94.0 L287.9,93.6 L288.3,93.4 L288.7,92.8 L289.1,92.3 L289.5,91.8 L289.9,91.1 L290.3,90.2 L290.7,88.8 L291.1,87.3 L291.5,86.4 L291.9,86.7 L292.3,88.0 L292.7,89.7 L293.1,91.1 L293.5,92.1 L293.9,92.9 L294.3,93.2 L294.7,93.8 L295.1,94.1 L295.5,93.9 L295.9,94.2 L296.3,94.2 L296.7,93.9 L297.1,93.7 L297.5,93.7 L297.9,93.2 L298.3,92.8 L298.7,92.4 L299.1,91.6 L299.5,90.6 L299.9,89.1 L300.3,87.0 L300.7,83.9 L301.1,80.0 L301.5,75.0 L301.9,70.6 L302.3,69.5 L302.7,72.2 L303.1,77.1 L303.5,81.7 L303.9,84.8 L304.3,87.3 L304.7,89.0 L305.1,90.3 L305.5,91.1 L305.9,91.9 L306.3,92.5 L306.7,92.7 L307.1,93.3 L307.5,93.5 L307.9,93.3 L308.3,93.4 L308.7,93.5 L309.1,93.6 L309.5,93.9 L309.9,94.5 L310.3,94.8 L310.7,95.1 L311.1,95.8 L311.5,95.9 L311.9,96.2 L312.3,96.3 L312.7,96.4 L313.1,96.6 L313.5,96.6 L313.9,96.9 L314.3,96.8 L314.7,96.8 L315.1,96.8 L315.5,96.9 L315.9,97.0 L316.3,96.8 L316.7,96.6 L317.1,95.8 L317.5,94.8 L317.9,94.0 L318.3,93.9 L318.7,95.3 L319.1,96.1 L319.5,96.7 L319.9,97.1 L320.3,97.4 L320.7,97.8 L321.1,98.0 L321.5,97.9 L321.9,97.8 L322.3,97.8 L322.7,97.9 L323.1,98.1 L323.5,98.3 L323.9,98.3 L324.3,98.4 L324.7,98.5 L325.1,98.3 L325.5,98.5 L325.9,98.4 L326.3,98.6 L326.7,98.4 L327.1,98.7" stroke="#6e6e6e" stroke-width="1.2" fill="none" stroke-linejoin="round" />
<path d="M329.5,100.0 L329.9,99.8 L330.3,99.9 L330.7,99.6 L331.1,99.6 L331.5,99.4 L331.9,99.4 L332.3,99.2 L332.7,99.2 L333.1,99.1 L333.5,98.8 L333.9,99.0 L334.3,98.9 L334.7,98.5 L335.1,98.5 L335.5,98.3 L335.9,98.1 L336.3,98.0 L336.7,97.8 L337.1,97.5 L337.5,97.3 L337.9,97.1 L338.3,97.0 L338.7,96.7 L339.1,96.3 L339.5,95.8 L339.9,95.6 L340.3,95.2 L340.7,94.7 L341.1,93.9 L341.5,93.3 L341.9,92.6 L342.3,91.9 L342.7,91.2 L343.1,90.1 L343.5,88.8 L343.9,87.2 L344.3,85.4 L344.7,83.4 L345.1,80.4 L345.5,76.5 L345.9,70.9 L346.3,64.5 L346.7,57.5 L347.1,52.8 L347.5,52.7 L347.9,57.6 L348.3,64.5 L348.7,71.1 L349.1,76.2 L349.5,80.1 L349.9,82.9 L350.3,85.6 L350.7,87.1 L351.1,88.7 L351.5,89.7 L351.9,90.6 L352.3,91.8 L352.7,92.3 L353.1,92.9 L353.5,93.7 L353.9,94.2 L354.3,94.3 L354.7,95.1 L355.1,95.1 L355.5,95.4 L355.9,95.7 L356.3,96.3 L356.7,96.4 L357.1,96.6 L357.5,96.8 L357.9,96.8 L358.3,96.8 L358.7,97.0 L359.1,97.1 L359.5,97.4 L359.9,97.2 L360.3,97.3 L360.7,97.4 L361.1,97.3 L361.5,97.4 L361.9,97.4 L362.3,97.4 L362.7,97.4 L363.1,97.6 L363.5,97.5 L363.9,97.1 L364.3,97.1 L364.7,97.1 L365.1,97.0 L365.5,96.8 L365.9,96.7 L366.3,96.6 L366.7,96.3 L367.1,95.9 L367.5,95.6 L367.9,95.5 L368.3,94.9 L368.7,94.4 L369.1,93.7 L369.5,92.6 L369.9,91.5 L370.3,90.8 L370.7,90.8 L371.1,91.6 L371.5,92.7 L371.9,93.4 L372.3,94.0 L372.7,94.5 L373.1,94.9 L373.5,95.2 L373.9,95.5 L374.3,96.1 L374.7,96.1 L375.1,96.6 L375.5,96.8 L375.9,96.9 L376.3,97.2 L376.7,97.5 L377.1,97.8 L377.5,97.9 L377.9,97.9 L378.3,98.1 L378.7,98.3 L379.1,98.4 L379.5,98.8 L379.9,99.0 L380.3,98.8 L380.7,99.2 L381.1,99.4 L381.5,99.2 L381.9,99.4 L382.3,99.4 L382.7,99.6 L383.1,99.8 L383.5,99.6 L383.9,99.8 L384.3,99.9 L384.7,100.1 L385.1,100.2 L385.5,100.2 L385.9,100.1 L386.3,100.1 L386.7,100.4 L387.1,100.4 L387.5,100.4 L387.9,100.4 L388.3,100.5 L388.7,100.2 L389.1,100.3 L389.5,100.5 L389.9,100.4 L390.3,100.5 L390.7,100.5 L391.1,100.6 L391.5,100.5 L391.9,100.8 L392.3,100.6 L392.7,100.4 L393.1,100.5 L393.5,100.6 L393.9,100.8 L394.3,100.7 L394.7,100.8 L395.1,100.6 L395.5,100.5 L395.9,100.6 L396.3,100.8 L396.7,100.6 L397.1,100.8 L397.5,100.7 L397.9,100.7 L398.3,100.6 L398.7,100.3 L399.1,100.5 L399.5,100.3 L399.9,100.3 L400.3,100.2 L400.7,100.2 L401.1,100.1 L401.5,100.1 L401.9,100.0 L402.3,99.8 L402.7,99.6 L403.1,99.2 L403.5,99.1 L403.9,98.9 L404.3,98.7 L404.7,98.5 L405.1,98.6 L405.5,98.9 L405.9,99.0 L406.3,99.2 L406.7,99.1 L407.1,99.6 L407.5,99.7 L407.9,99.8 L408.3,100.0 L408.7,100.1 L409.1,100.2 L409.5,100.6 L409.9,100.6" stroke="#6e6e6e" stroke-width="1.2" fill="none" stroke-linejoin="round" />
<path d="M267.5,76.9 L267.9,76.8 L268.3,77.2 L268.7,77.1 L269.1,77.1 L269.5,77.3 L269.9,76.9 L270.3,77.2 L270.7,77.0 L271.1,77.0 L271.5,77.1 L271.9,77.3 L272.3,77.4 L272.7,77.3 L273.1,77.2 L273.5,77.1 L273.9,77.2 L274.3,77.2 L274.7,77.3 L275.1,77.4 L275.5,77.2 L275.9,77.3 L276.3,77.6 L276.7,77.6 L277.1,77.3 L277.5,77.7 L277.9,77.5 L278.3,77.5 L278.7,77.7 L279.1,77.7 L279.5,77.6 L279.9,77.6 L280.3,77.6 L280.7,77.8 L281.1,77.8 L281.5,77.5 L281.9,77.4 L282.3,77.6 L282.7,77.6 L283.1,77.8 L283.5,77.8 L283.9,77.5 L284.3,77.7 L284.7,77.7 L285.1,77.7 L285.5,77.5 L285.9,77.7 L286.3,77.5 L286.7,77.8 L287.1,77.4 L287.5,77.4 L287.9,77.4 L288.3,77.1 L288.7,77.2 L289.1,76.7 L289.5,76.3 L289.9,75.7 L290.3,75.0 L290.7,74.3 L291.1,73.5 L291.5,72.4 L291.9,72.8 L292.3,73.5 L292.7,73.9 L293.1,75.1 L293.5,75.5 L293.9,75.9 L294.3,76.6 L294.7,76.5 L295.1,76.7 L295.5,76.9 L295.9,76.8 L296.3,76.9 L296.7,76.8 L297.1,76.4 L297.5,76.0 L297.9,76.1 L298.3,75.4 L298.7,75.0 L299.1,74.4 L299.5,73.8 L299.9,72.4 L300.3,71.3 L300.7,69.3 L301.1,67.0 L301.5,64.5 L301.9,62.3 L302.3,61.8 L302.7,63.4 L303.1,65.7 L303.5,68.1 L303.9,70.1 L304.3,71.8 L304.7,73.2 L305.1,74.3 L305.5,74.9 L305.9,75.4 L306.3,76.2 L306.7,76.5 L307.1,77.2 L307.5,77.5 L307.9,77.6 L308.3,77.7 L308.7,78.2 L309.1,78.3 L309.5,78.6 L309.9,78.7 L310.3,78.6 L310.7,78.8 L311.1,79.0 L311.5,78.9 L311.9,79.0 L312.3,79.4 L312.7,79.1 L313.1,79.3 L313.5,79.3 L313.9,79.8 L314.3,79.8 L314.7,79.9 L315.1,79.9 L315.5,79.7 L315.9,80.1 L316.3,79.9 L316.7,79.9 L317.1,79.8 L317.5,80.0 L317.9,80.1 L318.3,80.4 L318.7,80.2 L319.1,80.2 L319.5,80.4 L319.9,80.3 L320.3,80.6 L320.7,80.4 L321.1,80.3 L321.5,80.5 L321.9,80.6 L322.3,80.7 L322.7,80.5 L323.1,80.7 L323.5,80.8 L323.9,80.6 L324.3,80.7 L324.7,80.8 L325.1,81.0 L325.5,80.7 L325.9,80.8 L326.3,81.2 L326.7,81.0 L327.1,80.8" stroke="#ee1c1c" stroke-width="1.3" fill="none" stroke-linejoin="round" />
<path d="M329.5,81.6 L329.9,81.4 L330.3,81.7 L330.7,81.7 L331.1,81.5 L331.5,81.1 L331.9,81.2 L332.3,81.2 L332.7,81.6 L333.1,81.3 L333.5,81.1 L333.9,81.2 L334.3,80.7 L334.7,81.0 L335.1,80.9 L335.5,80.5 L335.9,80.5 L336.3,80.4 L336.7,80.7 L337.1,80.1 L337.5,79.7 L337.9,80.1 L338.3,80.0 L338.7,79.4 L339.1,79.5 L339.5,79.4 L339.9,78.7 L340.3,78.6 L340.7,78.2 L341.1,77.8 L341.5,77.4 L341.9,77.1 L342.3,76.5 L342.7,75.9 L343.1,74.5 L343.5,74.0 L343.9,72.4 L344.3,70.9 L344.7,69.1 L345.1,66.8 L345.5,64.1 L345.9,60.2 L346.3,56.1 L346.7,52.2 L347.1,49.1 L347.5,48.8 L347.9,52.0 L348.3,55.9 L348.7,59.9 L349.1,63.5 L349.5,66.3 L349.9,68.7 L350.3,70.7 L350.7,71.5 L351.1,72.7 L351.5,73.4 L351.9,74.3 L352.3,75.1 L352.7,75.0 L353.1,75.4 L353.5,75.8 L353.9,76.3 L354.3,76.5 L354.7,76.8 L355.1,76.8 L355.5,77.2 L355.9,77.2 L356.3,77.7 L356.7,77.7 L357.1,78.3 L357.5,78.3 L357.9,78.2 L358.3,78.8 L358.7,78.8 L359.1,79.0 L359.5,78.9 L359.9,79.4 L360.3,79.3 L360.7,79.2 L361.1,79.6 L361.5,79.5 L361.9,79.7 L362.3,79.6 L362.7,79.6 L363.1,79.6 L363.5,79.6 L363.9,80.1 L364.3,79.6 L364.7,79.7 L365.1,79.8 L365.5,79.4 L365.9,79.3 L366.3,79.3 L366.7,79.6 L367.1,79.4 L367.5,79.0 L367.9,78.3 L368.3,78.1 L368.7,78.0 L369.1,77.2 L369.5,76.4 L369.9,76.0 L370.3,76.1 L370.7,75.8 L371.1,76.8 L371.5,77.0 L371.9,78.2 L372.3,78.9 L372.7,78.9 L373.1,79.7 L373.5,80.4 L373.9,80.8 L374.3,80.9 L374.7,81.0 L375.1,81.4 L375.5,81.5 L375.9,82.0 L376.3,82.0 L376.7,82.5 L377.1,82.7 L377.5,82.7 L377.9,82.8 L378.3,83.2 L378.7,82.9 L379.1,83.3 L379.5,83.1 L379.9,83.1 L380.3,83.5 L380.7,83.5 L381.1,83.6 L381.5,83.6 L381.9,83.6 L382.3,83.9 L382.7,83.8 L383.1,84.3 L383.5,84.3 L383.9,84.1 L384.3,83.9 L384.7,84.5 L385.1,84.1 L385.5,83.9 L385.9,84.4 L386.3,84.1 L386.7,84.7 L387.1,84.3 L387.5,84.1 L387.9,84.6 L388.3,84.3 L388.7,84.2 L389.1,84.2 L389.5,84.5 L389.9,84.2 L390.3,84.3 L390.7,84.4 L391.1,84.6 L391.5,84.5 L391.9,84.7 L392.3,84.9 L392.7,84.9 L393.1,84.5 L393.5,84.8 L393.9,84.9 L394.3,84.6 L394.7,84.7 L395.1,84.8 L395.5,84.7 L395.9,84.7 L396.3,85.0 L396.7,84.6 L397.1,84.4 L397.5,84.6 L397.9,84.5 L398.3,84.9 L398.7,84.7 L399.1,84.8 L399.5,84.9 L399.9,84.9 L400.3,84.5 L400.7,85.0 L401.1,85.1 L401.5,84.6 L401.9,84.5 L402.3,84.6 L402.7,84.9 L403.1,84.7 L403.5,85.1 L403.9,84.8 L404.3,84.6 L404.7,84.6 L405.1,84.8 L405.5,84.5 L405.9,84.9 L406.3,84.7 L406.7,85.0 L407.1,84.8 L407.5,84.8 L407.9,85.0 L408.3,84.5 L408.7,84.8 L409.1,84.7 L409.5,85.1 L409.9,84.8" stroke="#ee1c1c" stroke-width="1.3" fill="none" stroke-linejoin="round" />
<path d="M267.5,135.9 L267.9,135.8 L268.3,136.1 L268.7,136.1 L269.1,135.9 L269.5,136.0 L269.9,135.8 L270.3,135.9 L270.7,135.9 L271.1,136.1 L271.5,135.9 L271.9,136.2 L272.3,135.9 L272.7,135.9 L273.1,135.9 L273.5,136.2 L273.9,136.1 L274.3,136.1 L274.7,136.1 L275.1,136.2 L275.5,136.1 L275.9,136.1 L276.3,136.1 L276.7,136.1 L277.1,136.0 L277.5,136.3 L277.9,136.3 L278.3,136.3 L278.7,136.4 L279.1,136.2 L279.5,136.2 L279.9,136.2 L280.3,136.2 L280.7,136.3 L281.1,136.0 L281.5,136.1 L281.9,136.2 L282.3,136.0 L282.7,135.9 L283.1,136.1 L283.5,135.8 L283.9,136.0 L284.3,135.7 L284.7,135.6 L285.1,135.6 L285.5,135.4 L285.9,135.3 L286.3,135.3 L286.7,135.2 L287.1,134.8 L287.5,134.6 L287.9,134.2 L288.3,133.8 L288.7,133.5 L289.1,132.7 L289.5,132.3 L289.9,131.5 L290.3,130.6 L290.7,129.1 L291.1,127.7 L291.5,126.6 L291.9,126.9 L292.3,128.6 L292.7,130.3 L293.1,131.7 L293.5,132.5 L293.9,133.5 L294.3,134.0 L294.7,134.3 L295.1,134.6 L295.5,134.4 L295.9,134.5 L296.3,134.7 L296.7,134.6 L297.1,134.5 L297.5,134.1 L297.9,134.0 L298.3,133.3 L298.7,133.0 L299.1,132.2 L299.5,131.0 L299.9,129.4 L300.3,127.5 L300.7,124.7 L301.1,120.6 L301.5,115.5 L301.9,111.0 L302.3,110.0 L302.7,112.7 L303.1,117.8 L303.5,121.9 L303.9,125.2 L304.3,127.5 L304.7,129.6 L305.1,130.9 L305.5,131.6 L305.9,132.2 L306.3,133.0 L306.7,133.5 L307.1,133.5 L307.5,133.9 L307.9,134.1 L308.3,134.0 L308.7,134.1 L309.1,134.4 L309.5,134.5 L309.9,134.9 L310.3,135.5 L310.7,135.8 L311.1,136.1 L311.5,136.3 L311.9,136.8 L312.3,136.8 L312.7,137.1 L313.1,137.3 L313.5,137.2 L313.9,137.2 L314.3,137.3 L314.7,137.3 L315.1,137.3 L315.5,137.3 L315.9,137.3 L316.3,137.2 L316.7,136.9 L317.1,136.4 L317.5,135.5 L317.9,134.5 L318.3,134.4 L318.7,135.6 L319.1,136.6 L319.5,137.1 L319.9,137.7 L320.3,137.9 L320.7,138.2 L321.1,138.4 L321.5,138.3 L321.9,138.4 L322.3,138.5 L322.7,138.5 L323.1,138.5 L323.5,138.5 L323.9,138.9 L324.3,138.9 L324.7,138.8 L325.1,138.9 L325.5,138.8 L325.9,139.0 L326.3,139.1 L326.7,139.1 L327.1,139.0" stroke="#6e6e6e" stroke-width="1.2" fill="none" stroke-linejoin="round" />
<path d="M329.5,140.5 L329.9,140.2 L330.3,140.4 L330.7,140.2 L331.1,140.0 L331.5,140.1 L331.9,139.8 L332.3,139.7 L332.7,139.7 L333.1,139.5 L333.5,139.6 L333.9,139.4 L334.3,139.2 L334.7,139.0 L335.1,138.9 L335.5,138.9 L335.9,138.8 L336.3,138.4 L336.7,138.4 L337.1,138.0 L337.5,137.9 L337.9,137.5 L338.3,137.3 L338.7,137.0 L339.1,136.8 L339.5,136.4 L339.9,135.8 L340.3,135.3 L340.7,135.0 L341.1,134.4 L341.5,133.8 L341.9,133.4 L342.3,132.6 L342.7,131.4 L343.1,130.4 L343.5,129.4 L343.9,128.1 L344.3,126.2 L344.7,123.8 L345.1,120.9 L345.5,116.8 L345.9,111.6 L346.3,105.3 L346.7,98.0 L347.1,93.4 L347.5,93.4 L347.9,98.0 L348.3,105.2 L348.7,111.4 L349.1,116.9 L349.5,120.7 L349.9,123.6 L350.3,125.9 L350.7,127.9 L351.1,129.0 L351.5,130.2 L351.9,131.3 L352.3,132.3 L352.7,132.7 L353.1,133.6 L353.5,134.0 L353.9,134.6 L354.3,135.0 L354.7,135.6 L355.1,135.8 L355.5,136.2 L355.9,136.5 L356.3,136.5 L356.7,137.0 L357.1,137.1 L357.5,137.1 L357.9,137.4 L358.3,137.4 L358.7,137.5 L359.1,137.6 L359.5,137.8 L359.9,138.0 L360.3,137.8 L360.7,138.0 L361.1,138.2 L361.5,138.0 L361.9,138.1 L362.3,138.1 L362.7,138.1 L363.1,137.9 L363.5,138.1 L363.9,137.8 L364.3,137.6 L364.7,137.5 L365.1,137.4 L365.5,137.2 L365.9,137.4 L366.3,136.8 L366.7,136.9 L367.1,136.6 L367.5,136.2 L367.9,135.6 L368.3,135.2 L368.7,134.9 L369.1,133.9 L369.5,133.1 L369.9,131.8 L370.3,131.0 L370.7,131.3 L371.1,132.2 L371.5,133.1 L371.9,134.1 L372.3,134.7 L372.7,135.2 L373.1,135.5 L373.5,135.8 L373.9,136.1 L374.3,136.5 L374.7,136.7 L375.1,137.1 L375.5,137.5 L375.9,137.4 L376.3,137.8 L376.7,137.8 L377.1,138.3 L377.5,138.4 L377.9,138.6 L378.3,138.8 L378.7,138.7 L379.1,139.2 L379.5,139.0 L379.9,139.2 L380.3,139.5 L380.7,139.8 L381.1,139.8 L381.5,140.0 L381.9,139.8 L382.3,140.0 L382.7,140.1 L383.1,140.1 L383.5,140.1 L383.9,140.2 L384.3,140.2 L384.7,140.2 L385.1,140.4 L385.5,140.7 L385.9,140.6 L386.3,140.8 L386.7,140.7 L387.1,140.7 L387.5,140.9 L387.9,140.8 L388.3,140.8 L388.7,140.8 L389.1,140.7 L389.5,140.7 L389.9,140.9 L390.3,141.0 L390.7,140.9 L391.1,141.0 L391.5,141.0 L391.9,141.2 L392.3,141.0 L392.7,141.1 L393.1,141.2 L393.5,141.2 L393.9,141.3 L394.3,140.9 L394.7,141.1 L395.1,141.0 L395.5,141.3 L395.9,141.0 L396.3,141.3 L396.7,141.1 L397.1,141.2 L397.5,141.2 L397.9,141.2 L398.3,141.2 L398.7,141.0 L399.1,141.0 L399.5,141.1 L399.9,141.0 L400.3,140.8 L400.7,140.8 L401.1,140.7 L401.5,140.5 L401.9,140.3 L402.3,140.2 L402.7,140.2 L403.1,139.7 L403.5,139.8 L403.9,139.3 L404.3,139.1 L404.7,139.2 L405.1,139.2 L405.5,139.1 L405.9,139.3 L406.3,139.6 L406.7,139.9 L407.1,139.9 L407.5,140.2 L407.9,140.4 L408.3,140.7 L408.7,140.9 L409.1,140.9 L409.5,140.8 L409.9,141.0" stroke="#6e6e6e" stroke-width="1.2" fill="none" stroke-linejoin="round" />
<path d="M267.5,118.2 L267.9,118.5 L268.3,118.4 L268.7,118.7 L269.1,118.6 L269.5,118.5 L269.9,118.8 L270.3,118.5 L270.7,118.8 L271.1,118.6 L271.5,118.7 L271.9,118.9 L272.3,118.9 L272.7,118.8 L273.1,118.9 L273.5,118.5 L273.9,118.8 L274.3,119.0 L274.7,119.0 L275.1,118.8 L275.5,118.8 L275.9,118.8 L276.3,118.9 L276.7,118.8 L277.1,119.2 L277.5,119.1 L277.9,119.0 L278.3,118.9 L278.7,119.0 L279.1,119.0 L279.5,118.9 L279.9,119.0 L280.3,119.1 L280.7,119.3 L281.1,119.4 L281.5,118.9 L281.9,119.0 L282.3,119.4 L282.7,119.0 L283.1,119.1 L283.5,119.2 L283.9,119.2 L284.3,119.1 L284.7,119.3 L285.1,119.3 L285.5,118.9 L285.9,119.2 L286.3,119.0 L286.7,119.1 L287.1,119.0 L287.5,119.0 L287.9,118.9 L288.3,118.5 L288.7,118.3 L289.1,118.0 L289.5,117.7 L289.9,117.4 L290.3,116.8 L290.7,115.7 L291.1,114.9 L291.5,114.3 L291.9,114.3 L292.3,114.9 L292.7,115.7 L293.1,116.6 L293.5,117.0 L293.9,117.6 L294.3,117.8 L294.7,118.0 L295.1,118.2 L295.5,118.3 L295.9,118.0 L296.3,118.2 L296.7,118.1 L297.1,118.2 L297.5,117.8 L297.9,117.3 L298.3,117.0 L298.7,116.7 L299.1,115.8 L299.5,115.4 L299.9,113.9 L300.3,112.7 L300.7,110.8 L301.1,108.7 L301.5,105.8 L301.9,103.8 L302.3,103.3 L302.7,104.6 L303.1,107.0 L303.5,109.7 L303.9,111.6 L304.3,113.3 L304.7,114.9 L305.1,115.5 L305.5,116.8 L305.9,117.1 L306.3,117.8 L306.7,118.3 L307.1,118.8 L307.5,119.0 L307.9,118.9 L308.3,119.5 L308.7,119.8 L309.1,119.9 L309.5,120.0 L309.9,119.9 L310.3,120.0 L310.7,120.2 L311.1,120.6 L311.5,120.4 L311.9,120.7 L312.3,120.9 L312.7,120.9 L313.1,121.1 L313.5,121.2 L313.9,121.2 L314.3,120.9 L314.7,121.3 L315.1,121.3 L315.5,121.5 L315.9,121.3 L316.3,121.3 L316.7,121.3 L317.1,121.5 L317.5,121.4 L317.9,121.8 L318.3,121.7 L318.7,121.7 L319.1,121.7 L319.5,121.6 L319.9,121.7 L320.3,122.1 L320.7,121.8 L321.1,122.0 L321.5,122.1 L321.9,122.2 L322.3,121.9 L322.7,122.1 L323.1,122.0 L323.5,122.0 L323.9,122.2 L324.3,122.3 L324.7,122.2 L325.1,122.3 L325.5,122.4 L325.9,122.2 L326.3,122.6 L326.7,122.2 L327.1,122.5" stroke="#ee1c1c" stroke-width="1.3" fill="none" stroke-linejoin="round" />
<path d="M329.5,123.0 L329.9,123.2 L330.3,122.7 L330.7,122.8 L331.1,122.9 L331.5,123.2 L331.9,122.7 L332.3,122.9 L332.7,122.4 L333.1,122.4 L333.5,122.7 L333.9,122.6 L334.3,122.6 L334.7,122.3 L335.1,122.3 L335.5,122.0 L335.9,121.9 L336.3,121.7 L336.7,121.6 L337.1,121.7 L337.5,121.6 L337.9,121.6 L338.3,121.3 L338.7,121.2 L339.1,121.0 L339.5,120.2 L339.9,120.6 L340.3,120.0 L340.7,119.6 L341.1,119.0 L341.5,118.6 L341.9,118.0 L342.3,117.5 L342.7,117.3 L343.1,116.2 L343.5,115.5 L343.9,114.5 L344.3,112.8 L344.7,110.7 L345.1,108.3 L345.5,105.9 L345.9,101.9 L346.3,97.5 L346.7,93.7 L347.1,90.4 L347.5,90.8 L347.9,92.9 L348.3,97.4 L348.7,101.5 L349.1,105.5 L349.5,107.9 L349.9,110.2 L350.3,112.1 L350.7,113.3 L351.1,114.5 L351.5,115.3 L351.9,115.4 L352.3,116.0 L352.7,116.7 L353.1,117.0 L353.5,117.7 L353.9,117.5 L354.3,118.3 L354.7,118.4 L355.1,118.6 L355.5,118.5 L355.9,119.1 L356.3,119.3 L356.7,119.6 L357.1,119.5 L357.5,120.0 L357.9,119.8 L358.3,120.2 L358.7,120.1 L359.1,120.4 L359.5,121.0 L359.9,121.2 L360.3,120.7 L360.7,121.1 L361.1,120.8 L361.5,121.1 L361.9,121.2 L362.3,121.1 L362.7,121.0 L363.1,121.5 L363.5,121.6 L363.9,121.1 L364.3,121.2 L364.7,121.4 L365.1,121.4 L365.5,121.3 L365.9,120.9 L366.3,121.2 L366.7,121.0 L367.1,120.8 L367.5,120.5 L367.9,119.9 L368.3,120.1 L368.7,119.4 L369.1,118.8 L369.5,118.3 L369.9,117.8 L370.3,117.1 L370.7,117.3 L371.1,118.0 L371.5,118.6 L371.9,119.7 L372.3,120.0 L372.7,120.9 L373.1,121.3 L373.5,121.8 L373.9,122.2 L374.3,122.4 L374.7,122.4 L375.1,123.2 L375.5,123.3 L375.9,123.4 L376.3,123.9 L376.7,124.1 L377.1,124.1 L377.5,124.1 L377.9,124.2 L378.3,124.2 L378.7,124.3 L379.1,124.4 L379.5,125.0 L379.9,124.7 L380.3,125.2 L380.7,125.0 L381.1,125.0 L381.5,125.6 L381.9,125.3 L382.3,125.1 L382.7,125.6 L383.1,125.6 L383.5,125.9 L383.9,125.8 L384.3,125.6 L384.7,125.8 L385.1,125.5 L385.5,125.6 L385.9,125.8 L386.3,125.6 L386.7,126.1 L387.1,126.1 L387.5,125.8 L387.9,126.1 L388.3,125.9 L388.7,125.7 L389.1,125.8 L389.5,125.7 L389.9,126.2 L390.3,125.9 L390.7,125.7 L391.1,125.8 L391.5,126.0 L391.9,126.3 L392.3,125.9 L392.7,126.3 L393.1,126.3 L393.5,125.8 L393.9,126.0 L394.3,126.4 L394.7,126.3 L395.1,126.3 L395.5,125.8 L395.9,126.0 L396.3,126.3 L396.7,125.9 L397.1,126.0 L397.5,125.9 L397.9,126.2 L398.3,126.0 L398.7,126.4 L399.1,125.9 L399.5,126.4 L399.9,126.6 L400.3,126.1 L400.7,126.2 L401.1,126.5 L401.5,126.1 L401.9,126.3 L402.3,126.0 L402.7,126.2 L403.1,126.3 L403.5,126.0 L403.9,126.6 L404.3,126.2 L404.7,126.0 L405.1,126.0 L405.5,126.1 L405.9,126.0 L406.3,126.5 L406.7,126.1 L407.1,126.3 L407.5,126.3 L407.9,126.2 L408.3,126.4 L408.7,126.2 L409.1,126.5 L409.5,126.4 L409.9,126.4" stroke="#ee1c1c" stroke-width="1.3" fill="none" stroke-linejoin="round" />
<path d="M267.5,181.5 L267.9,181.7 L268.3,181.6 L268.7,181.8 L269.1,181.8 L269.5,181.7 L269.9,181.8 L270.3,181.8 L270.7,181.6 L271.1,181.8 L271.5,181.9 L271.9,181.8 L272.3,182.0 L272.7,182.0 L273.1,181.8 L273.5,181.8 L273.9,181.8 L274.3,182.0 L274.7,182.0 L275.1,182.0 L275.5,181.9 L275.9,182.0 L276.3,181.9 L276.7,182.0 L277.1,181.9 L277.5,182.0 L277.9,182.1 L278.3,182.1 L278.7,181.9 L279.1,181.8 L279.5,181.9 L279.9,182.1 L280.3,182.0 L280.7,182.1 L281.1,181.9 L281.5,181.9 L281.9,182.1 L282.3,181.8 L282.7,181.8 L283.1,181.9 L283.5,181.8 L283.9,181.7 L284.3,181.7 L284.7,181.6 L285.1,181.6 L285.5,181.5 L285.9,181.4 L286.3,181.1 L286.7,180.9 L287.1,180.8 L287.5,180.3 L287.9,180.0 L288.3,179.7 L288.7,179.2 L289.1,178.6 L289.5,178.1 L289.9,177.3 L290.3,176.5 L290.7,175.1 L291.1,173.7 L291.5,172.8 L291.9,172.8 L292.3,174.2 L292.7,176.1 L293.1,177.5 L293.5,178.3 L293.9,179.0 L294.3,179.8 L294.7,180.2 L295.1,180.2 L295.5,180.3 L295.9,180.5 L296.3,180.6 L296.7,180.2 L297.1,180.2 L297.5,180.0 L297.9,179.5 L298.3,179.2 L298.7,178.5 L299.1,177.9 L299.5,176.7 L299.9,175.2 L300.3,173.3 L300.7,170.3 L301.1,166.3 L301.5,161.3 L301.9,156.9 L302.3,155.6 L302.7,158.7 L303.1,163.4 L303.5,167.7 L303.9,171.0 L304.3,173.4 L304.7,175.3 L305.1,176.4 L305.5,177.4 L305.9,178.3 L306.3,178.9 L306.7,179.2 L307.1,179.6 L307.5,179.7 L307.9,179.6 L308.3,179.6 L308.7,179.8 L309.1,180.2 L309.5,180.3 L309.9,180.9 L310.3,181.4 L310.7,181.8 L311.1,181.9 L311.5,182.0 L311.9,182.4 L312.3,182.5 L312.7,182.9 L313.1,183.0 L313.5,183.2 L313.9,183.2 L314.3,183.4 L314.7,183.3 L315.1,183.3 L315.5,183.4 L315.9,183.1 L316.3,183.1 L316.7,182.8 L317.1,182.3 L317.5,181.0 L317.9,180.1 L318.3,180.5 L318.7,181.2 L319.1,182.4 L319.5,183.1 L319.9,183.5 L320.3,183.9 L320.7,184.1 L321.1,184.0 L321.5,184.0 L321.9,184.4 L322.3,184.3 L322.7,184.3 L323.1,184.3 L323.5,184.3 L323.9,184.6 L324.3,184.5 L324.7,184.6 L325.1,184.8 L325.5,184.7 L325.9,184.9 L326.3,184.6 L326.7,184.9 L327.1,184.9" stroke="#6e6e6e" stroke-width="1.2" fill="none" stroke-linejoin="round" />
<path d="M329.5,186.2 L329.9,186.2 L330.3,186.1 L330.7,186.0 L331.1,186.0 L331.5,185.9 L331.9,185.6 L332.3,185.5 L332.7,185.5 L333.1,185.4 L333.5,185.5 L333.9,185.3 L334.3,185.1 L334.7,184.9 L335.1,184.7 L335.5,184.7 L335.9,184.6 L336.3,184.1 L336.7,184.1 L337.1,183.8 L337.5,183.7 L337.9,183.3 L338.3,182.9 L338.7,182.9 L339.1,182.4 L339.5,182.2 L339.9,181.9 L340.3,181.3 L340.7,181.0 L341.1,180.4 L341.5,179.5 L341.9,178.9 L342.3,178.3 L342.7,177.4 L343.1,176.2 L343.5,175.3 L343.9,173.7 L344.3,171.8 L344.7,169.6 L345.1,166.4 L345.5,162.6 L345.9,157.3 L346.3,151.0 L346.7,144.2 L347.1,139.0 L347.5,139.0 L347.9,144.0 L348.3,151.0 L348.7,157.2 L349.1,162.5 L349.5,166.5 L349.9,169.3 L350.3,171.5 L350.7,173.6 L351.1,174.9 L351.5,176.1 L351.9,177.1 L352.3,177.8 L352.7,178.6 L353.1,179.3 L353.5,179.9 L353.9,180.2 L354.3,180.6 L354.7,181.2 L355.1,181.6 L355.5,181.9 L355.9,182.3 L356.3,182.3 L356.7,182.6 L357.1,182.8 L357.5,183.0 L357.9,183.2 L358.3,183.5 L358.7,183.3 L359.1,183.6 L359.5,183.7 L359.9,183.8 L360.3,183.7 L360.7,183.6 L361.1,183.8 L361.5,183.9 L361.9,183.9 L362.3,183.7 L362.7,183.7 L363.1,183.7 L363.5,183.5 L363.9,183.8 L364.3,183.5 L364.7,183.4 L365.1,183.5 L365.5,183.3 L365.9,182.9 L366.3,183.0 L366.7,182.7 L367.1,182.3 L367.5,182.0 L367.9,181.8 L368.3,181.3 L368.7,180.6 L369.1,179.7 L369.5,178.9 L369.9,177.8 L370.3,177.2 L370.7,177.3 L371.1,178.1 L371.5,179.2 L371.9,179.8 L372.3,180.5 L372.7,181.0 L373.1,181.3 L373.5,181.5 L373.9,182.1 L374.3,182.3 L374.7,182.5 L375.1,182.8 L375.5,183.0 L375.9,183.4 L376.3,183.5 L376.7,183.7 L377.1,184.0 L377.5,184.2 L377.9,184.3 L378.3,184.4 L378.7,184.7 L379.1,184.8 L379.5,185.0 L379.9,185.2 L380.3,185.2 L380.7,185.2 L381.1,185.3 L381.5,185.6 L381.9,185.9 L382.3,185.9 L382.7,186.1 L383.1,185.8 L383.5,185.9 L383.9,186.2 L384.3,186.1 L384.7,186.2 L385.1,186.4 L385.5,186.2 L385.9,186.6 L386.3,186.3 L386.7,186.5 L387.1,186.6 L387.5,186.6 L387.9,186.7 L388.3,186.6 L388.7,186.6 L389.1,186.8 L389.5,186.9 L389.9,186.6 L390.3,186.6 L390.7,187.0 L391.1,186.7 L391.5,186.7 L391.9,186.9 L392.3,186.8 L392.7,187.0 L393.1,186.9 L393.5,187.0 L393.9,186.8 L394.3,186.8 L394.7,186.8 L395.1,187.1 L395.5,187.1 L395.9,186.9 L396.3,186.8 L396.7,186.8 L397.1,186.8 L397.5,187.1 L397.9,187.1 L398.3,187.0 L398.7,186.7 L399.1,186.6 L399.5,186.9 L399.9,186.8 L400.3,186.8 L400.7,186.7 L401.1,186.6 L401.5,186.1 L401.9,186.3 L402.3,186.0 L402.7,186.0 L403.1,185.5 L403.5,185.4 L403.9,185.1 L404.3,185.1 L404.7,185.0 L405.1,185.1 L405.5,185.0 L405.9,185.3 L406.3,185.3 L406.7,185.4 L407.1,185.6 L407.5,185.8 L407.9,186.0 L408.3,186.4 L408.7,186.6 L409.1,186.8 L409.5,186.8 L409.9,186.7" stroke="#6e6e6e" stroke-width="1.2" fill="none" stroke-linejoin="round" />
<path d="M267.5,165.6 L267.9,165.7 L268.3,165.6 L268.7,165.9 L269.1,165.8 L269.5,165.9 L269.9,165.7 L270.3,166.0 L270.7,165.9 L271.1,165.9 L271.5,165.7 L271.9,165.9 L272.3,166.1 L272.7,166.0 L273.1,165.9 L273.5,166.0 L273.9,165.8 L274.3,165.9 L274.7,166.2 L275.1,166.1 L275.5,166.0 L275.9,166.4 L276.3,166.1 L276.7,166.1 L277.1,166.0 L277.5,166.2 L277.9,166.2 L278.3,166.1 L278.7,166.5 L279.1,166.3 L279.5,166.3 L279.9,166.5 L280.3,166.3 L280.7,166.6 L281.1,166.4 L281.5,166.3 L281.9,166.4 L282.3,166.6 L282.7,166.5 L283.1,166.2 L283.5,166.6 L283.9,166.4 L284.3,166.3 L284.7,166.4 L285.1,166.2 L285.5,166.4 L285.9,166.4 L286.3,166.3 L286.7,166.2 L287.1,166.1 L287.5,166.2 L287.9,166.2 L288.3,165.6 L288.7,165.7 L289.1,165.5 L289.5,165.3 L289.9,164.6 L290.3,164.0 L290.7,163.0 L291.1,162.2 L291.5,161.4 L291.9,161.2 L292.3,162.0 L292.7,162.9 L293.1,163.7 L293.5,164.2 L293.9,165.0 L294.3,165.2 L294.7,165.4 L295.1,165.3 L295.5,165.3 L295.9,165.3 L296.3,165.4 L296.7,165.2 L297.1,165.3 L297.5,164.9 L297.9,164.9 L298.3,164.1 L298.7,163.8 L299.1,163.4 L299.5,162.4 L299.9,161.4 L300.3,160.0 L300.7,158.0 L301.1,155.5 L301.5,152.9 L301.9,151.4 L302.3,150.6 L302.7,152.0 L303.1,154.1 L303.5,156.8 L303.9,158.9 L304.3,160.5 L304.7,162.0 L305.1,163.0 L305.5,163.8 L305.9,164.6 L306.3,165.2 L306.7,165.5 L307.1,165.5 L307.5,166.1 L307.9,166.4 L308.3,166.8 L308.7,166.8 L309.1,167.0 L309.5,167.0 L309.9,167.2 L310.3,167.6 L310.7,167.3 L311.1,167.8 L311.5,168.0 L311.9,167.7 L312.3,167.8 L312.7,168.0 L313.1,168.3 L313.5,168.4 L313.9,168.5 L314.3,168.4 L314.7,168.4 L315.1,168.5 L315.5,168.6 L315.9,168.7 L316.3,168.5 L316.7,168.9 L317.1,168.6 L317.5,169.0 L317.9,168.8 L318.3,168.7 L318.7,168.7 L319.1,169.1 L319.5,169.2 L319.9,168.9 L320.3,168.9 L320.7,169.1 L321.1,169.3 L321.5,169.1 L321.9,169.2 L322.3,169.2 L322.7,169.1 L323.1,169.2 L323.5,169.3 L323.9,169.5 L324.3,169.6 L324.7,169.6 L325.1,169.8 L325.5,169.6 L325.9,169.7 L326.3,169.8 L326.7,169.6 L327.1,170.0" stroke="#ee1c1c" stroke-width="1.3" fill="none" stroke-linejoin="round" />
<path d="M329.5,170.2 L329.9,170.2 L330.3,170.5 L330.7,170.5 L331.1,170.0 L331.5,170.3 L331.9,170.4 L332.3,170.2 L332.7,169.6 L333.1,170.2 L333.5,169.6 L333.9,169.9 L334.3,169.4 L334.7,169.6 L335.1,169.4 L335.5,169.5 L335.9,169.5 L336.3,169.4 L336.7,169.3 L337.1,169.2 L337.5,168.8 L337.9,168.6 L338.3,168.6 L338.7,168.3 L339.1,168.2 L339.5,167.7 L339.9,167.8 L340.3,167.5 L340.7,166.6 L341.1,166.7 L341.5,166.1 L341.9,165.6 L342.3,165.2 L342.7,164.4 L343.1,163.6 L343.5,162.8 L343.9,161.1 L344.3,159.6 L344.7,157.9 L345.1,155.7 L345.5,152.5 L345.9,148.8 L346.3,144.8 L346.7,140.9 L347.1,138.0 L347.5,137.7 L347.9,140.7 L348.3,144.7 L348.7,148.8 L349.1,152.0 L349.5,155.1 L349.9,157.3 L350.3,158.8 L350.7,160.3 L351.1,161.5 L351.5,162.0 L351.9,162.8 L352.3,163.7 L352.7,163.9 L353.1,164.4 L353.5,164.4 L353.9,164.7 L354.3,165.4 L354.7,165.6 L355.1,165.4 L355.5,166.0 L355.9,166.3 L356.3,166.5 L356.7,166.8 L357.1,167.0 L357.5,166.9 L357.9,167.3 L358.3,167.3 L358.7,167.6 L359.1,167.9 L359.5,168.1 L359.9,168.2 L360.3,168.3 L360.7,168.0 L361.1,168.6 L361.5,168.3 L361.9,168.7 L362.3,168.2 L362.7,168.6 L363.1,168.5 L363.5,168.9 L363.9,168.7 L364.3,168.5 L364.7,168.6 L365.1,168.4 L365.5,168.7 L365.9,168.0 L366.3,168.4 L366.7,168.3 L367.1,167.7 L367.5,167.8 L367.9,167.6 L368.3,167.1 L368.7,166.8 L369.1,166.0 L369.5,165.4 L369.9,165.1 L370.3,164.5 L370.7,164.8 L371.1,165.5 L371.5,165.8 L371.9,166.6 L372.3,167.5 L372.7,167.8 L373.1,168.7 L373.5,168.9 L373.9,169.5 L374.3,169.5 L374.7,169.7 L375.1,170.3 L375.5,170.1 L375.9,170.8 L376.3,170.8 L376.7,170.9 L377.1,171.0 L377.5,171.4 L377.9,171.7 L378.3,171.9 L378.7,172.1 L379.1,171.9 L379.5,172.2 L379.9,172.2 L380.3,171.9 L380.7,172.3 L381.1,172.5 L381.5,172.2 L381.9,172.3 L382.3,172.9 L382.7,172.8 L383.1,172.6 L383.5,172.6 L383.9,173.1 L384.3,173.0 L384.7,172.9 L385.1,173.0 L385.5,173.2 L385.9,172.7 L386.3,172.8 L386.7,172.8 L387.1,173.3 L387.5,172.8 L387.9,172.8 L388.3,173.4 L388.7,173.0 L389.1,172.8 L389.5,173.5 L389.9,173.4 L390.3,173.1 L390.7,173.5 L391.1,173.5 L391.5,172.9 L391.9,173.4 L392.3,173.5 L392.7,173.6 L393.1,173.5 L393.5,173.5 L393.9,173.5 L394.3,173.4 L394.7,173.7 L395.1,173.1 L395.5,173.3 L395.9,173.1 L396.3,173.6 L396.7,173.6 L397.1,173.4 L397.5,173.4 L397.9,173.7 L398.3,173.4 L398.7,173.5 L399.1,173.6 L399.5,173.1 L399.9,173.3 L400.3,173.4 L400.7,173.6 L401.1,173.4 L401.5,173.1 L401.9,173.3 L402.3,173.5 L402.7,173.5 L403.1,173.8 L403.5,173.8 L403.9,173.2 L404.3,173.7 L404.7,173.2 L405.1,173.2 L405.5,173.7 L405.9,173.7 L406.3,173.7 L406.7,173.8 L407.1,173.2 L407.5,173.6 L407.9,173.3 L408.3,173.2 L408.7,173.8 L409.1,173.3 L409.5,173.6 L409.9,173.7" stroke="#ee1c1c" stroke-width="1.3" fill="none" stroke-linejoin="round" />
<line x1="291.7" y1="62.0" x2="291.7" y2="190.0" stroke="#333" stroke-width="0.9" stroke-dasharray="1.6,1.2" />
<line x1="296.2" y1="54.0" x2="296.2" y2="190.0" stroke="#ff3333" stroke-width="0.9" stroke-dasharray="1.6,1.2" />
<line x1="308.3" y1="56.0" x2="308.3" y2="181.0" stroke="#ff3333" stroke-width="0.9" stroke-dasharray="1.6,1.2" />
<line x1="318.1" y1="74.0" x2="318.1" y2="190.0" stroke="#333" stroke-width="0.9" stroke-dasharray="1.6,1.2" />
<line x1="347.0" y1="42.0" x2="347.0" y2="190.0" stroke="#333" stroke-width="0.9" stroke-dasharray="1.6,1.2" />
<line x1="370.3" y1="69.0" x2="370.3" y2="190.0" stroke="#333" stroke-width="0.9" stroke-dasharray="1.6,1.2" />
<rect x="326.8" y="3.2" width="2.6" height="3.0" fill="#fff" />
<line x1="325.3" y1="7.2" x2="328.3" y2="2.2" stroke="#000" stroke-width="0.8" />
<line x1="327.8" y1="7.2" x2="330.8" y2="2.2" stroke="#000" stroke-width="0.8" />
<rect x="326.8" y="192.2" width="2.6" height="3.0" fill="#fff" />
<line x1="325.3" y1="196.2" x2="328.3" y2="191.2" stroke="#000" stroke-width="0.8" />
<line x1="327.8" y1="196.2" x2="330.8" y2="191.2" stroke="#000" stroke-width="0.8" />
<line x1="289.7" y1="193.7" x2="289.7" y2="196.7" stroke="#000" stroke-width="1" />
<line x1="357.2" y1="193.7" x2="357.2" y2="196.7" stroke="#000" stroke-width="1" />
<line x1="410.0" y1="193.7" x2="410.0" y2="196.7" stroke="#000" stroke-width="1" />
<line x1="278.9" y1="193.7" x2="278.9" y2="195.7" stroke="#000" stroke-width="0.8" />
<line x1="303.0" y1="193.7" x2="303.0" y2="195.7" stroke="#000" stroke-width="0.8" />
<line x1="317.0" y1="193.7" x2="317.0" y2="195.7" stroke="#000" stroke-width="0.8" />
<line x1="344.0" y1="193.7" x2="344.0" y2="195.7" stroke="#000" stroke-width="0.8" />
<line x1="383.6" y1="193.7" x2="383.6" y2="195.7" stroke="#000" stroke-width="0.8" />
<text x="289.7" y="206.7" font-size="9.3" font-weight="bold" text-anchor="middle" >3000</text>
<text x="357.2" y="206.7" font-size="9.3" font-weight="bold" text-anchor="middle" >1500</text>
<text x="410.5" y="206.7" font-size="9.3" font-weight="bold" text-anchor="middle" >1000</text>
<text x="276.0" y="220.3" font-size="14" font-weight="bold" textLength="125.4" lengthAdjust="spacingAndGlyphs" >Wavenumber (cm<tspan dy="-4.5" font-size="9">-1</tspan><tspan dy="4.5">)</tspan></text>
<line x1="268.9" y1="13.1" x2="285.2" y2="13.1" stroke="#ee1c1c" stroke-width="1.5" />
<line x1="268.9" y1="24.5" x2="285.2" y2="24.5" stroke="#6e6e6e" stroke-width="1.5" />
<text x="289.2" y="15.8" font-size="7.5" font-weight="bold" textLength="50.8" lengthAdjust="spacingAndGlyphs" >ZZO&amp;4Si/M-22</text>
<text x="289.2" y="27.2" font-size="7.5" font-weight="bold" textLength="14.5" lengthAdjust="spacingAndGlyphs" >ZZO</text>
<line x1="346.6" y1="8.8" x2="346.6" y2="18.4" stroke="#666" stroke-width="1.2" />
<text x="350.7" y="16.6" font-size="9" textLength="16.3" lengthAdjust="spacingAndGlyphs" >0.05</text>
<text x="376.4" y="16.2" font-size="7.5" textLength="28.5" lengthAdjust="spacingAndGlyphs" >♦ CH<tspan dy="1.5" font-size="5">3</tspan><tspan dy="-1.5">O*</tspan></text>
<text x="376.4" y="27.4" font-size="7.5" textLength="33.0" lengthAdjust="spacingAndGlyphs" >♣ HCOO*</text>
<text x="272.4" y="63.0" font-size="8" textLength="16.8" lengthAdjust="spacingAndGlyphs" >2973</text>
<text x="287.0" y="48.2" font-size="8" textLength="15.7" lengthAdjust="spacingAndGlyphs" >2931</text>
<text x="305.0" y="50.8" font-size="8" textLength="16.5" lengthAdjust="spacingAndGlyphs" >2824</text>
<text x="311.0" y="69.2" font-size="8" textLength="17.0" lengthAdjust="spacingAndGlyphs" >2735</text>
<text x="346.6" y="37.0" font-size="8" text-anchor="middle" textLength="16.5" lengthAdjust="spacingAndGlyphs" >1592</text>
<text x="370.3" y="64.0" font-size="8" text-anchor="middle" textLength="16.5" lengthAdjust="spacingAndGlyphs" >1375</text>
<text x="291.7" y="63.8" font-size="8" text-anchor="middle" >♣</text>
<text x="318.1" y="75.5" font-size="8" text-anchor="middle" >♣</text>
<text x="346.9" y="43.0" font-size="8" text-anchor="middle" >♣</text>
<text x="370.3" y="69.7" font-size="8" text-anchor="middle" >♣</text>
<text x="296.2" y="55.0" font-size="7.5" text-anchor="middle" >♦</text>
<text x="308.3" y="57.2" font-size="7.5" text-anchor="middle" >♦</text>
<text x="381.9" y="81.5" font-size="8" textLength="22.6" lengthAdjust="spacingAndGlyphs" >60 min</text>
<text x="383.3" y="121.5" font-size="8" textLength="22.3" lengthAdjust="spacingAndGlyphs" >40 min</text>
<text x="383.3" y="168.2" font-size="8" textLength="22.3" lengthAdjust="spacingAndGlyphs" >20 min</text>
<text x="447.5" y="23.0" font-size="23" font-weight="bold" textLength="13.5" lengthAdjust="spacingAndGlyphs" >c</text>
<rect x="472.2" y="5.3" width="211.0" height="181.6" fill="none" stroke="#000" stroke-width="1" />
<text x="461.5" y="96.2" font-size="14.5" font-weight="bold" text-anchor="middle" textLength="100.0" lengthAdjust="spacingAndGlyphs" transform="rotate(-90 461.5 96.2)" >Intensity (a.u.)</text>
<path d="M484.0,177.5 L484.4,177.6 L484.7,177.9 L485.1,177.6 L485.4,178.0 L485.8,177.7 L486.1,177.5 L486.4,177.8 L486.8,177.6 L487.1,177.5 L487.5,177.7 L487.9,177.8 L488.2,177.6 L488.6,178.0 L488.9,177.7 L489.2,177.9 L489.6,177.7 L489.9,177.6 L490.3,177.8 L490.6,177.9 L491.0,177.8 L491.4,177.9 L491.7,177.6 L492.1,177.6 L492.4,177.6 L492.8,177.8 L493.1,178.0 L493.4,177.6 L493.8,177.6 L494.1,176.6 L494.5,175.7 L494.9,174.6 L495.2,173.0 L495.6,171.6 L495.9,170.4 L496.2,170.9 L496.6,171.8 L496.9,173.7 L497.3,175.2 L497.6,176.5 L498.0,177.3 L498.4,177.8 L498.7,177.7 L499.1,178.1 L499.4,177.7 L499.8,178.0 L500.1,177.6 L500.4,177.9 L500.8,178.0 L501.1,177.8 L501.5,177.7 L501.9,178.0 L502.2,178.0 L502.6,177.9 L502.9,177.7 L503.2,177.8 L503.6,177.5 L503.9,177.8 L504.3,177.7 L504.6,177.9 L505.0,177.5 L505.4,177.8 L505.7,177.6 L506.1,177.7 L506.4,178.1 L506.8,178.0 L507.1,177.9 L507.4,177.7 L507.8,177.6 L508.1,177.5 L508.5,177.8 L508.9,178.1 L509.2,177.9 L509.6,177.6 L509.9,178.1 L510.2,177.6 L510.6,177.5 L510.9,177.8 L511.3,177.8 L511.6,177.5 L512.0,178.1 L512.4,177.7 L512.7,177.7 L513.0,177.5 L513.4,177.5 L513.8,178.1 L514.1,178.1 L514.5,177.9 L514.8,177.5 L515.1,177.6 L515.5,177.6 L515.9,177.5 L516.2,178.0 L516.5,177.8 L516.9,177.5 L517.2,177.7 L517.6,177.8 L518.0,177.8 L518.3,177.8 L518.6,177.6 L519.0,178.0 L519.4,177.6 L519.7,177.8 L520.0,177.9 L520.4,177.6 L520.8,177.5 L521.1,178.1 L521.5,177.9 L521.8,177.6 L522.1,177.9 L522.5,177.6 L522.9,178.0 L523.2,177.5 L523.5,177.6 L523.9,177.6 L524.2,177.9 L524.6,178.0 L525.0,177.6 L525.3,178.0 L525.6,177.7 L526.0,177.8 L526.4,177.9 L526.7,177.6 L527.0,177.9 L527.4,177.7 L527.8,177.6 L528.1,177.9 L528.5,177.8 L528.8,177.5 L529.1,178.0 L529.5,177.9 L529.9,177.6 L530.2,177.7 L530.5,177.4 L530.9,176.4 L531.2,175.6 L531.6,174.4 L532.0,172.1 L532.3,169.0 L532.6,164.1 L533.0,158.0 L533.4,150.5 L533.7,141.7 L534.0,130.9 L534.4,120.8 L534.8,110.5 L535.1,101.7 L535.5,95.3 L535.8,92.3 L536.1,92.5 L536.5,95.9 L536.9,102.6 L537.2,111.4 L537.5,121.1 L537.9,130.8 L538.2,139.9 L538.6,148.4 L539.0,154.8 L539.3,160.7 L539.6,164.9 L540.0,167.8 L540.4,170.3 L540.7,172.1 L541.0,173.6 L541.4,174.5 L541.8,175.1 L542.1,176.1 L542.5,176.4 L542.8,177.0 L543.1,177.0 L543.5,177.2 L543.9,177.4 L544.2,177.4 L544.5,177.8 L544.9,177.8 L545.2,177.7 L545.6,177.8 L546.0,177.9 L546.3,178.1 L546.6,177.6 L547.0,177.6 L547.4,178.0 L547.7,178.1 L548.0,177.9 L548.4,177.8 L548.8,178.1 L549.1,178.0 L549.5,177.6 L549.8,177.9 L550.1,178.0 L550.5,177.7 L550.9,178.0 L551.2,178.0 L551.5,177.8 L551.9,177.8 L552.2,177.8 L552.6,178.0 L553.0,177.9 L553.3,178.1 L553.6,177.8 L554.0,177.7 L554.4,177.6 L554.7,177.9 L555.0,177.8 L555.4,177.8 L555.8,178.0 L556.1,177.8 L556.5,177.7 L556.8,177.6 L557.1,177.3 L557.5,177.4 L557.9,177.3 L558.2,177.3 L558.5,177.5 L558.9,177.3 L559.2,177.4 L559.6,177.3 L560.0,177.2 L560.3,177.5 L560.6,177.4 L561.0,177.2 L561.4,177.3 L561.7,177.6 L562.0,177.7 L562.4,177.3 L562.8,177.4 L563.1,177.7 L563.5,177.6 L563.8,177.5 L564.1,178.0 L564.5,177.8 L564.9,177.6 L565.2,178.0 L565.5,177.8 L565.9,177.5 L566.2,177.5 L566.6,177.6 L567.0,178.0 L567.3,177.9 L567.6,178.0 L568.0,177.9 L568.4,177.9 L568.7,177.7 L569.0,177.7 L569.4,177.8 L569.8,177.9 L570.1,177.7 L570.5,177.9 L570.8,177.6 L571.1,177.8 L571.5,177.8 L571.9,177.6 L572.2,177.6 L572.5,177.9 L572.9,177.6 L573.2,177.7 L573.6,177.9 L574.0,177.5 L574.3,177.1 L574.6,176.4 L575.0,175.1 L575.4,173.8 L575.7,172.7 L576.0,171.8 L576.4,171.6 L576.8,172.4 L577.1,173.5 L577.5,174.9 L577.8,175.9 L578.1,176.5 L578.5,177.2 L578.9,177.5 L579.2,177.5 L579.5,178.1 L579.9,177.6 L580.2,177.9 L580.6,177.6 L581.0,177.8 L581.3,177.6 L581.6,178.1 L582.0,177.9 L582.4,178.0 L582.7,178.1 L583.0,177.7 L583.4,177.8 L583.8,177.8 L584.1,177.9 L584.5,178.0 L584.8,177.8 L585.1,177.7 L585.5,178.0 L585.9,177.6 L586.2,177.8 L586.5,177.6 L586.9,177.9 L587.2,177.8 L587.6,177.5 L588.0,178.0 L588.3,178.1 L588.6,177.8 L589.0,177.5 L589.4,178.1 L589.7,177.7 L590.0,177.9 L590.4,177.5 L590.8,177.9 L591.1,178.0 L591.5,177.7 L591.8,177.7 L592.1,178.1 L592.5,177.5 L592.9,177.8 L593.2,177.5 L593.5,177.7 L593.9,178.0 L594.2,177.6 L594.6,177.9 L595.0,177.9 L595.3,178.0 L595.6,178.0 L596.0,177.9 L596.4,177.9 L596.7,178.0 L597.0,177.9 L597.4,177.7 L597.8,177.5 L598.1,177.9 L598.5,177.8 L598.8,178.1 L599.1,177.6 L599.5,177.7 L599.9,177.9 L600.2,177.7 L600.5,177.7 L600.9,177.8 L601.2,177.7 L601.6,178.0 L602.0,178.1 L602.3,177.7 L602.6,177.6 L603.0,177.3 L603.4,177.0 L603.7,176.2 L604.0,173.9 L604.4,171.3 L604.8,169.0 L605.1,168.2 L605.5,169.4 L605.8,171.6 L606.1,174.1 L606.5,176.0 L606.9,176.3 L607.2,176.2 L607.5,175.2 L607.9,174.2 L608.2,174.1 L608.6,174.7 L609.0,176.0 L609.3,177.1 L609.6,177.4 L610.0,177.9 L610.4,178.0 L610.7,177.8 L611.0,177.5 L611.4,177.8 L611.8,178.0 L612.1,177.5 L612.5,177.9 L612.8,177.7 L613.1,177.5 L613.5,177.9 L613.9,177.5 L614.2,177.6 L614.5,177.0 L614.9,176.8 L615.2,176.7 L615.6,176.7 L616.0,176.1 L616.3,176.4 L616.6,176.1 L617.0,176.1 L617.4,176.3 L617.7,176.8 L618.0,177.2 L618.4,177.5 L618.8,177.2 L619.1,177.5 L619.5,177.7 L619.8,177.8 L620.1,177.7 L620.5,177.6 L620.9,177.6 L621.2,177.6 L621.5,178.1 L621.9,178.0 L622.2,178.0 L622.6,177.5 L623.0,177.7 L623.3,177.9 L623.6,178.0 L624.0,177.8 L624.4,177.9 L624.7,177.9 L625.0,177.9 L625.4,178.1 L625.8,177.9 L626.1,178.0 L626.5,177.8 L626.8,177.9 L627.1,178.0 L627.5,177.6 L627.9,177.6 L628.2,177.9 L628.5,177.7 L628.9,177.6 L629.2,177.7 L629.6,177.7 L630.0,177.7 L630.3,177.7 L630.6,177.8 L631.0,177.7 L631.4,177.6 L631.7,177.7 L632.0,177.8 L632.4,178.0 L632.8,177.8 L633.1,177.7 L633.5,177.8 L633.8,177.7 L634.1,177.8 L634.5,177.7 L634.9,177.8 L635.2,177.8 L635.5,178.0 L635.9,177.6 L636.2,178.1 L636.6,178.0 L637.0,177.9 L637.3,177.5 L637.6,177.9 L638.0,177.7 L638.4,178.0 L638.7,177.7 L639.0,177.8 L639.4,178.0 L639.8,177.7 L640.1,177.7 L640.5,177.5 L640.8,177.9 L641.1,177.7 L641.5,177.7 L641.9,177.9 L642.2,178.0 L642.5,177.7 L642.9,177.8 L643.2,177.8 L643.6,178.1 L644.0,177.5 L644.3,177.7 L644.6,177.8 L645.0,177.6 L645.4,178.0 L645.7,178.0 L646.0,177.8 L646.4,177.7 L646.8,177.7 L647.1,177.6 L647.5,178.0 L647.8,177.7 L648.1,178.1 L648.5,177.6 L648.9,177.9 L649.2,177.6 L649.5,177.8 L649.9,177.9 L650.2,178.1 L650.6,177.6 L651.0,177.7 L651.3,177.6 L651.6,177.7 L652.0,177.8 L652.4,178.0 L652.7,178.0 L653.0,178.0 L653.4,177.8 L653.8,178.0 L654.1,178.1 L654.5,178.1 L654.8,177.8 L655.1,177.6 L655.5,177.9 L655.9,177.6 L656.2,177.6 L656.5,177.6 L656.9,177.8 L657.2,178.0 L657.6,177.6 L658.0,177.8 L658.3,178.0 L658.6,177.9 L659.0,177.7 L659.4,177.7 L659.7,177.6 L660.0,177.6 L660.4,177.8 L660.8,177.7 L661.1,178.0 L661.5,178.0 L661.8,177.7 L662.1,177.7 L662.5,177.7 L662.9,178.0 L663.2,177.9 L663.5,177.6 L663.9,177.7 L664.2,177.7 L664.6,177.8 L665.0,178.0 L665.3,177.8 L665.6,177.7 L666.0,177.7 L666.4,177.7 L666.7,177.9 L667.0,177.9 L667.4,177.9 L667.8,177.6 L668.1,178.0 L668.5,178.0 L668.8,177.7 L669.1,177.5" stroke="#111" stroke-width="1.2" fill="none" stroke-linejoin="round" />
<path d="M484.0,93.6 L484.4,93.8 L484.7,93.5 L485.1,93.8 L485.4,94.2 L485.8,94.2 L486.1,94.0 L486.4,94.2 L486.8,94.0 L487.1,94.3 L487.5,94.1 L487.9,93.7 L488.2,94.1 L488.6,94.0 L488.9,94.0 L489.2,93.7 L489.6,94.2 L489.9,93.7 L490.3,93.8 L490.6,93.8 L491.0,93.8 L491.4,93.7 L491.7,94.2 L492.1,94.1 L492.4,93.6 L492.8,94.1 L493.1,93.6 L493.4,94.1 L493.8,93.9 L494.1,94.0 L494.5,94.2 L494.9,94.2 L495.2,94.2 L495.6,93.8 L495.9,93.6 L496.2,94.1 L496.6,94.0 L496.9,94.3 L497.3,94.3 L497.6,93.7 L498.0,93.9 L498.4,94.2 L498.7,93.9 L499.1,94.4 L499.4,93.6 L499.8,93.9 L500.1,94.3 L500.4,94.4 L500.8,94.0 L501.1,93.8 L501.5,94.1 L501.9,93.8 L502.2,94.2 L502.6,93.8 L502.9,93.7 L503.2,94.1 L503.6,94.2 L503.9,94.0 L504.3,94.1 L504.6,94.1 L505.0,94.0 L505.4,93.5 L505.7,93.9 L506.1,94.3 L506.4,94.0 L506.8,94.2 L507.1,94.4 L507.4,93.6 L507.8,94.2 L508.1,94.0 L508.5,93.5 L508.9,93.7 L509.2,94.0 L509.6,94.0 L509.9,94.3 L510.2,93.9 L510.6,94.2 L510.9,93.9 L511.3,94.4 L511.6,94.4 L512.0,93.7 L512.4,94.3 L512.7,93.6 L513.0,93.8 L513.4,94.3 L513.8,93.9 L514.1,93.5 L514.5,93.5 L514.8,94.4 L515.1,94.3 L515.5,94.4 L515.9,93.8 L516.2,93.8 L516.5,94.1 L516.9,93.6 L517.2,94.1 L517.6,93.7 L518.0,93.7 L518.3,94.2 L518.6,93.7 L519.0,94.4 L519.4,94.1 L519.7,94.1 L520.0,94.1 L520.4,93.7 L520.8,94.4 L521.1,93.5 L521.5,94.3 L521.8,94.0 L522.1,94.0 L522.5,94.0 L522.9,93.9 L523.2,93.6 L523.5,93.8 L523.9,94.1 L524.2,93.8 L524.6,94.2 L525.0,94.1 L525.3,93.5 L525.6,93.6 L526.0,94.2 L526.4,93.9 L526.7,93.6 L527.0,93.9 L527.4,93.9 L527.8,94.1 L528.1,93.9 L528.5,94.3 L528.8,93.4 L529.1,94.2 L529.5,94.0 L529.9,93.7 L530.2,93.4 L530.5,93.4 L530.9,93.9 L531.2,93.8 L531.6,93.7 L532.0,93.2 L532.3,93.2 L532.6,93.4 L533.0,93.0 L533.4,93.0 L533.7,92.6 L534.0,92.5 L534.4,92.5 L534.8,92.3 L535.1,91.1 L535.5,90.9 L535.8,90.5 L536.1,90.2 L536.5,90.6 L536.9,90.7 L537.2,91.4 L537.5,92.0 L537.9,92.9 L538.2,92.7 L538.6,93.2 L539.0,93.5 L539.3,93.5 L539.6,93.4 L540.0,93.4 L540.4,93.6 L540.7,93.5 L541.0,93.5 L541.4,93.6 L541.8,93.4 L542.1,93.9 L542.5,93.7 L542.8,93.4 L543.1,93.7 L543.5,93.5 L543.9,93.9 L544.2,93.9 L544.5,94.3 L544.9,93.6 L545.2,94.0 L545.6,94.2 L546.0,93.7 L546.3,93.9 L546.6,94.0 L547.0,93.6 L547.4,93.9 L547.7,94.3 L548.0,94.3 L548.4,94.3 L548.8,93.5 L549.1,94.1 L549.5,94.1 L549.8,93.8 L550.1,93.7 L550.5,94.1 L550.9,93.8 L551.2,94.3 L551.5,93.7 L551.9,94.2 L552.2,94.1 L552.6,93.8 L553.0,94.1 L553.3,94.2 L553.6,94.1 L554.0,93.7 L554.4,93.5 L554.7,93.9 L555.0,94.0 L555.4,93.9 L555.8,93.5 L556.1,93.8 L556.5,93.8 L556.8,93.5 L557.1,93.6 L557.5,93.4 L557.9,93.5 L558.2,92.2 L558.5,92.5 L558.9,91.6 L559.2,90.4 L559.6,90.2 L560.0,91.0 L560.3,92.0 L560.6,92.5 L561.0,92.8 L561.4,93.5 L561.7,93.4 L562.0,93.6 L562.4,93.8 L562.8,94.0 L563.1,93.4 L563.5,93.4 L563.8,93.8 L564.1,94.1 L564.5,94.2 L564.9,93.9 L565.2,93.6 L565.5,94.0 L565.9,94.2 L566.2,94.1 L566.6,93.6 L567.0,93.5 L567.3,93.9 L567.6,93.7 L568.0,93.8 L568.4,94.2 L568.7,94.2 L569.0,94.0 L569.4,94.3 L569.8,94.1 L570.1,93.6 L570.5,93.9 L570.8,93.8 L571.1,94.4 L571.5,93.9 L571.9,93.8 L572.2,94.3 L572.5,94.4 L572.9,93.8 L573.2,93.8 L573.6,93.8 L574.0,93.6 L574.3,94.1 L574.6,93.5 L575.0,94.4 L575.4,94.3 L575.7,93.9 L576.0,94.1 L576.4,94.3 L576.8,93.6 L577.1,94.1 L577.5,94.3 L577.8,94.0 L578.1,94.3 L578.5,93.7 L578.9,93.5 L579.2,93.7 L579.5,94.4 L579.9,93.8 L580.2,93.8 L580.6,93.6 L581.0,93.9 L581.3,93.7 L581.6,94.0 L582.0,93.6 L582.4,93.6 L582.7,93.5 L583.0,94.4 L583.4,94.2 L583.8,93.7 L584.1,93.8 L584.5,93.7 L584.8,94.0 L585.1,94.0 L585.5,94.2 L585.9,94.1 L586.2,93.6 L586.5,94.1 L586.9,93.6 L587.2,93.9 L587.6,93.6 L588.0,93.9 L588.3,93.7 L588.6,94.2 L589.0,93.9 L589.4,94.2 L589.7,93.6 L590.0,93.7 L590.4,94.0 L590.8,94.0 L591.1,93.6 L591.5,94.1 L591.8,94.0 L592.1,94.3 L592.5,94.4 L592.9,94.2 L593.2,93.8 L593.5,94.1 L593.9,93.9 L594.2,93.6 L594.6,94.1 L595.0,93.8 L595.3,93.7 L595.6,94.1 L596.0,93.7 L596.4,94.4 L596.7,94.3 L597.0,93.7 L597.4,94.4 L597.8,93.7 L598.1,94.1 L598.5,94.3 L598.8,93.8 L599.1,94.2 L599.5,93.9 L599.9,93.7 L600.2,94.2 L600.5,94.0 L600.9,94.2 L601.2,94.3 L601.6,93.9 L602.0,94.4 L602.3,94.2 L602.6,94.1 L603.0,94.0 L603.4,94.2 L603.7,93.6 L604.0,93.6 L604.4,94.2 L604.8,94.3 L605.1,94.1 L605.5,94.2 L605.8,94.2 L606.1,94.2 L606.5,94.1 L606.9,93.5 L607.2,92.8 L607.5,92.8 L607.9,93.6 L608.2,93.7 L608.6,93.4 L609.0,93.6 L609.3,93.7 L609.6,93.4 L610.0,94.0 L610.4,93.9 L610.7,94.3 L611.0,94.1 L611.4,93.8 L611.8,93.6 L612.1,93.9 L612.5,94.3 L612.8,94.1 L613.1,93.5 L613.5,93.5 L613.9,93.4 L614.2,93.7 L614.5,93.3 L614.9,94.0 L615.2,93.5 L615.6,93.2 L616.0,92.8 L616.3,91.5 L616.6,91.5 L617.0,92.1 L617.4,93.5 L617.7,93.8 L618.0,93.8 L618.4,93.4 L618.8,93.1 L619.1,93.1 L619.5,93.5 L619.8,93.3 L620.1,93.4 L620.5,93.5 L620.9,93.6 L621.2,93.2 L621.5,93.1 L621.9,92.8 L622.2,92.6 L622.6,92.1 L623.0,91.6 L623.3,91.7 L623.6,90.8 L624.0,89.6 L624.4,87.4 L624.7,85.5 L625.0,81.1 L625.4,75.2 L625.8,68.8 L626.1,67.6 L626.5,72.1 L626.8,79.0 L627.1,83.4 L627.5,87.1 L627.9,88.6 L628.2,90.4 L628.5,90.8 L628.9,91.6 L629.2,91.6 L629.6,92.2 L630.0,92.3 L630.3,92.6 L630.6,92.9 L631.0,92.7 L631.4,93.2 L631.7,93.0 L632.0,93.3 L632.4,93.1 L632.8,93.5 L633.1,93.5 L633.5,93.5 L633.8,93.7 L634.1,93.3 L634.5,94.1 L634.9,93.5 L635.2,93.3 L635.5,94.0 L635.9,94.1 L636.2,93.7 L636.6,94.2 L637.0,93.9 L637.3,93.6 L637.6,93.4 L638.0,94.0 L638.4,94.0 L638.7,94.2 L639.0,93.7 L639.4,94.3 L639.8,94.2 L640.1,93.9 L640.5,93.8 L640.8,93.6 L641.1,94.0 L641.5,93.9 L641.9,94.2 L642.2,93.6 L642.5,94.0 L642.9,93.9 L643.2,93.5 L643.6,93.5 L644.0,94.1 L644.3,94.3 L644.6,93.9 L645.0,93.6 L645.4,94.3 L645.7,93.8 L646.0,93.8 L646.4,93.7 L646.8,93.8 L647.1,94.1 L647.5,93.9 L647.8,94.1 L648.1,94.1 L648.5,94.1 L648.9,93.8 L649.2,94.2 L649.5,93.5 L649.9,93.8 L650.2,94.0 L650.6,94.3 L651.0,94.2 L651.3,94.4 L651.6,93.5 L652.0,93.8 L652.4,94.2 L652.7,94.0 L653.0,94.1 L653.4,94.4 L653.8,94.2 L654.1,93.7 L654.5,93.6 L654.8,94.0 L655.1,94.3 L655.5,93.8 L655.9,94.3 L656.2,93.7 L656.5,93.6 L656.9,93.7 L657.2,93.6 L657.6,94.2 L658.0,94.2 L658.3,93.9 L658.6,94.3 L659.0,94.2 L659.4,93.5 L659.7,93.9 L660.0,93.7 L660.4,93.7 L660.8,93.8 L661.1,93.8 L661.5,94.2 L661.8,94.4 L662.1,93.8 L662.5,94.0 L662.9,94.0 L663.2,94.0 L663.5,94.0 L663.9,93.9 L664.2,94.0 L664.6,94.3 L665.0,93.7 L665.3,93.5 L665.6,93.8 L666.0,94.1 L666.4,93.6 L666.7,94.0 L667.0,93.9 L667.4,93.7 L667.8,94.2 L668.1,94.3 L668.5,94.4 L668.8,94.0 L669.1,94.1" stroke="#2222ee" stroke-width="1.2" fill="none" stroke-linejoin="round" />
<line x1="535.6" y1="63.0" x2="535.6" y2="190.0" stroke="#333" stroke-width="0.9" stroke-dasharray="1.2,1" />
<path d="M535.60,61.50 L536.90,65.00 L534.30,65.00 Z" stroke="none" stroke-width="0" fill="#000" stroke-linejoin="round" />
<line x1="626.0" y1="70.0" x2="626.0" y2="97.0" stroke="#fff" stroke-width="1.5" stroke-dasharray="1.2,1" />
<line x1="605.6" y1="147.0" x2="605.6" y2="190.0" stroke="#333" stroke-width="0.9" stroke-dasharray="1.2,1" />
<path d="M605.60,145.00 L606.90,148.50 L604.30,148.50 Z" stroke="none" stroke-width="0" fill="#000" stroke-linejoin="round" />
<line x1="609.5" y1="173.0" x2="615.6" y2="158.2" stroke="#000" stroke-width="0.7" />
<path d="M616.50,156.00 L616.47,159.23 L614.25,158.32 Z" stroke="none" stroke-width="0" fill="#000" stroke-linejoin="round" />
<text x="518.0" y="61.3" font-size="12.5" textLength="42.2" lengthAdjust="spacingAndGlyphs" >formate</text>
<text x="564.0" y="77.5" font-size="12.5" textLength="36.1" lengthAdjust="spacingAndGlyphs" >xylene</text>
<line x1="618.5" y1="74.3" x2="604.7" y2="74.3" stroke="#000" stroke-width="1.0" />
<path d="M601.50,74.30 L605.50,72.70 L605.50,75.90 Z" stroke="none" stroke-width="0" fill="#000" stroke-linejoin="round" />
<circle cx="626.0" cy="73.0" r="5.2" fill="none" stroke="#dd1111" stroke-width="1.6"/>
<text x="590.7" y="137.0" font-size="12.5" textLength="48.3" lengthAdjust="spacingAndGlyphs" >methoxy</text>
<text x="614.4" y="154.0" font-size="12.5" textLength="51.9" lengthAdjust="spacingAndGlyphs" >methanol</text>
<text x="496.1" y="171.5" font-size="12" font-weight="bold" text-anchor="middle" >*</text>
<text x="576.6" y="171.5" font-size="12" font-weight="bold" text-anchor="middle" >*</text>
<line x1="476.4" y1="14.7" x2="496.8" y2="14.7" stroke="#111" stroke-width="1.2" />
<line x1="476.4" y1="27.3" x2="496.8" y2="27.3" stroke="#2222ee" stroke-width="1.2" />
<text x="499.7" y="18.0" font-size="9.5" font-weight="bold" textLength="19.5" lengthAdjust="spacingAndGlyphs" >ZZO</text>
<text x="499.7" y="30.7" font-size="9.5" font-weight="bold" textLength="62.9" lengthAdjust="spacingAndGlyphs" >ZZO&amp;4Si/M-22</text>
<line x1="571.1" y1="61.4" x2="678.9" y2="61.4" stroke="#000" stroke-width="0.7" />
<line x1="571.7" y1="61.4" x2="571.7" y2="63.0" stroke="#000" stroke-width="0.6" />
<text x="571.7" y="67.7" font-size="4.3" font-weight="bold" text-anchor="middle" >30</text>
<line x1="582.4" y1="61.4" x2="582.4" y2="63.0" stroke="#000" stroke-width="0.6" />
<text x="582.4" y="67.7" font-size="4.3" font-weight="bold" text-anchor="middle" >28</text>
<line x1="593.2" y1="61.4" x2="593.2" y2="63.0" stroke="#000" stroke-width="0.6" />
<text x="593.2" y="67.7" font-size="4.3" font-weight="bold" text-anchor="middle" >26</text>
<line x1="603.9" y1="61.4" x2="603.9" y2="63.0" stroke="#000" stroke-width="0.6" />
<text x="603.9" y="67.7" font-size="4.3" font-weight="bold" text-anchor="middle" >24</text>
<line x1="614.7" y1="61.4" x2="614.7" y2="63.0" stroke="#000" stroke-width="0.6" />
<text x="614.7" y="67.7" font-size="4.3" font-weight="bold" text-anchor="middle" >22</text>
<line x1="625.4" y1="61.4" x2="625.4" y2="63.0" stroke="#000" stroke-width="0.6" />
<text x="625.4" y="67.7" font-size="4.3" font-weight="bold" text-anchor="middle" >20</text>
<line x1="636.1" y1="61.4" x2="636.1" y2="63.0" stroke="#000" stroke-width="0.6" />
<text x="636.1" y="67.7" font-size="4.3" font-weight="bold" text-anchor="middle" >18</text>
<line x1="646.9" y1="61.4" x2="646.9" y2="63.0" stroke="#000" stroke-width="0.6" />
<text x="646.9" y="67.7" font-size="4.3" font-weight="bold" text-anchor="middle" >16</text>
<line x1="657.6" y1="61.4" x2="657.6" y2="63.0" stroke="#000" stroke-width="0.6" />
<text x="657.6" y="67.7" font-size="4.3" font-weight="bold" text-anchor="middle" >14</text>
<line x1="668.4" y1="61.4" x2="668.4" y2="63.0" stroke="#000" stroke-width="0.6" />
<text x="668.4" y="67.7" font-size="4.3" font-weight="bold" text-anchor="middle" >12</text>
<line x1="679.1" y1="61.4" x2="679.1" y2="63.0" stroke="#000" stroke-width="0.6" />
<text x="679.1" y="67.7" font-size="4.3" font-weight="bold" text-anchor="middle" >10</text>
<line x1="571.7" y1="61.4" x2="571.7" y2="62.5" stroke="#000" stroke-width="0.4" />
<line x1="577.1" y1="61.4" x2="577.1" y2="62.5" stroke="#000" stroke-width="0.4" />
<line x1="582.4" y1="61.4" x2="582.4" y2="62.5" stroke="#000" stroke-width="0.4" />
<line x1="587.8" y1="61.4" x2="587.8" y2="62.5" stroke="#000" stroke-width="0.4" />
<line x1="593.2" y1="61.4" x2="593.2" y2="62.5" stroke="#000" stroke-width="0.4" />
<line x1="598.6" y1="61.4" x2="598.6" y2="62.5" stroke="#000" stroke-width="0.4" />
<line x1="603.9" y1="61.4" x2="603.9" y2="62.5" stroke="#000" stroke-width="0.4" />
<line x1="609.3" y1="61.4" x2="609.3" y2="62.5" stroke="#000" stroke-width="0.4" />
<line x1="614.7" y1="61.4" x2="614.7" y2="62.5" stroke="#000" stroke-width="0.4" />
<line x1="620.0" y1="61.4" x2="620.0" y2="62.5" stroke="#000" stroke-width="0.4" />
<line x1="625.4" y1="61.4" x2="625.4" y2="62.5" stroke="#000" stroke-width="0.4" />
<line x1="630.8" y1="61.4" x2="630.8" y2="62.5" stroke="#000" stroke-width="0.4" />
<line x1="636.1" y1="61.4" x2="636.1" y2="62.5" stroke="#000" stroke-width="0.4" />
<line x1="641.5" y1="61.4" x2="641.5" y2="62.5" stroke="#000" stroke-width="0.4" />
<line x1="646.9" y1="61.4" x2="646.9" y2="62.5" stroke="#000" stroke-width="0.4" />
<line x1="652.2" y1="61.4" x2="652.2" y2="62.5" stroke="#000" stroke-width="0.4" />
<line x1="657.6" y1="61.4" x2="657.6" y2="62.5" stroke="#000" stroke-width="0.4" />
<line x1="663.0" y1="61.4" x2="663.0" y2="62.5" stroke="#000" stroke-width="0.4" />
<line x1="668.4" y1="61.4" x2="668.4" y2="62.5" stroke="#000" stroke-width="0.4" />
<line x1="673.7" y1="61.4" x2="673.7" y2="62.5" stroke="#000" stroke-width="0.4" />
<line x1="679.1" y1="61.4" x2="679.1" y2="62.5" stroke="#000" stroke-width="0.4" />
<path d="M572.00,57.20 C573.00,57.10 576.00,56.55 578.00,56.60 C580.00,56.65 582.00,57.38 584.00,57.50 C586.00,57.62 587.92,57.82 590.00,57.30 C592.08,56.78 594.83,54.53 596.50,54.40 C598.17,54.27 598.83,56.47 600.00,56.50 C601.17,56.53 602.33,54.77 603.50,54.60 C604.67,54.43 605.58,55.77 607.00,55.50 C608.42,55.23 610.50,54.58 612.00,53.00 C613.50,51.42 614.83,49.83 616.00,46.00 C617.17,42.17 618.08,34.33 619.00,30.00 C619.92,25.67 620.72,22.18 621.50,20.00 C622.28,17.82 622.95,16.57 623.70,16.90 C624.45,17.23 625.37,19.75 626.00,22.00 C626.63,24.25 626.92,29.23 627.50,30.40 C628.08,31.57 628.73,29.50 629.50,29.00 C630.27,28.50 631.35,26.73 632.10,27.40 C632.85,28.07 633.35,30.23 634.00,33.00 C634.65,35.77 635.23,41.52 636.00,44.00 C636.77,46.48 637.10,46.98 638.60,47.90 C640.10,48.82 642.77,48.90 645.00,49.50 C647.23,50.10 650.00,50.92 652.00,51.50 C654.00,52.08 655.33,52.33 657.00,53.00 C658.67,53.67 660.40,54.80 662.00,55.50 C663.60,56.20 664.93,56.90 666.60,57.20 C668.27,57.50 670.60,57.45 672.00,57.30 C673.40,57.15 673.92,56.27 675.00,56.30 C676.08,56.33 677.92,57.30 678.50,57.50" stroke="#3344ee" stroke-width="0.9" fill="none" stroke-linejoin="round" />
<line x1="623.7" y1="12.9" x2="623.7" y2="52.7" stroke="#222" stroke-width="0.7" stroke-dasharray="1.2,0.9" />
<line x1="632.1" y1="22.5" x2="632.1" y2="52.7" stroke="#222" stroke-width="0.7" stroke-dasharray="1.2,0.9" />
<text x="620.2" y="12.0" font-size="5.3" font-weight="bold" textLength="21.9" lengthAdjust="spacingAndGlyphs" >20.9 ppm</text>
<text x="630.2" y="21.6" font-size="5.3" font-weight="bold" textLength="21.5" lengthAdjust="spacingAndGlyphs" >19.5 ppm</text>
<line x1="569.9" y1="47.0" x2="579.4" y2="47.0" stroke="#3344ee" stroke-width="0.8" />
<text x="581.1" y="48.3" font-size="3.8" font-weight="bold" textLength="29.4" lengthAdjust="spacingAndGlyphs" >ZZO&amp;4Si/M-22</text>
<line x1="487.5" y1="186.9" x2="487.5" y2="190.0" stroke="#000" stroke-width="1" />
<text x="487.5" y="200.0" font-size="9.5" font-weight="bold" text-anchor="middle" >250</text>
<line x1="517.5" y1="186.9" x2="517.5" y2="190.0" stroke="#000" stroke-width="1" />
<text x="517.5" y="200.0" font-size="9.5" font-weight="bold" text-anchor="middle" >200</text>
<line x1="547.5" y1="186.9" x2="547.5" y2="190.0" stroke="#000" stroke-width="1" />
<text x="547.5" y="200.0" font-size="9.5" font-weight="bold" text-anchor="middle" >150</text>
<line x1="577.5" y1="186.9" x2="577.5" y2="190.0" stroke="#000" stroke-width="1" />
<text x="577.5" y="200.0" font-size="9.5" font-weight="bold" text-anchor="middle" >100</text>
<line x1="607.5" y1="186.9" x2="607.5" y2="190.0" stroke="#000" stroke-width="1" />
<text x="607.5" y="200.0" font-size="9.5" font-weight="bold" text-anchor="middle" >50</text>
<line x1="637.5" y1="186.9" x2="637.5" y2="190.0" stroke="#000" stroke-width="1" />
<text x="637.5" y="200.0" font-size="9.5" font-weight="bold" text-anchor="middle" >0</text>
<line x1="667.5" y1="186.9" x2="667.5" y2="190.0" stroke="#000" stroke-width="1" />
<text x="667.5" y="200.0" font-size="9.5" font-weight="bold" text-anchor="middle" >-50</text>
<line x1="502.5" y1="186.9" x2="502.5" y2="188.9" stroke="#000" stroke-width="0.8" />
<line x1="532.5" y1="186.9" x2="532.5" y2="188.9" stroke="#000" stroke-width="0.8" />
<line x1="562.5" y1="186.9" x2="562.5" y2="188.9" stroke="#000" stroke-width="0.8" />
<line x1="592.5" y1="186.9" x2="592.5" y2="188.9" stroke="#000" stroke-width="0.8" />
<line x1="622.5" y1="186.9" x2="622.5" y2="188.9" stroke="#000" stroke-width="0.8" />
<line x1="652.5" y1="186.9" x2="652.5" y2="188.9" stroke="#000" stroke-width="0.8" />
<text x="497.8" y="216.5" font-size="14" font-weight="bold" textLength="159.2" lengthAdjust="spacingAndGlyphs" ><tspan dy="-5" font-size="9">13</tspan><tspan dy="5">C Chemical shift (ppm)</tspan></text>
<text x="13.5" y="253.9" font-size="29.5" >d</text>
<path d="M31.0,258.3 L31.4,258.2 L31.8,258.1 L32.2,258.2 L32.6,258.3 L33.0,258.2 L33.4,258.2 L33.8,258.1 L34.2,258.2 L34.6,258.1 L35.0,258.1 L35.4,258.1 L35.8,258.0 L36.2,258.2 L36.6,258.1 L37.0,258.0 L37.4,258.0 L37.8,257.9 L38.2,257.7 L38.6,257.7 L39.0,257.4 L39.4,257.2 L39.8,256.8 L40.2,256.6 L40.6,256.6 L41.0,257.1 L41.4,257.3 L41.8,257.6 L42.2,257.6 L42.6,257.9 L43.0,258.0 L43.4,258.1 L43.8,257.9 L44.2,258.2 L44.6,258.2 L45.0,258.2 L45.4,258.1 L45.8,258.2 L46.2,258.1 L46.6,258.1 L47.0,258.3 L47.4,258.2 L47.8,258.3 L48.2,258.1 L48.6,258.2 L49.0,258.3 L49.4,258.1 L49.8,258.2 L50.2,258.2 L50.6,258.2 L51.0,258.3 L51.4,258.3 L51.8,258.2 L52.2,258.3 L52.6,258.4 L53.0,258.1 L53.4,258.4 L53.8,258.2 L54.2,258.2 L54.6,258.2 L55.0,258.1 L55.4,258.3 L55.8,258.1 L56.2,258.3 L56.6,258.4 L57.0,258.3 L57.4,258.1 L57.8,258.1 L58.2,258.3 L58.6,258.2 L59.0,258.4 L59.4,258.2 L59.8,258.2 L60.2,258.2 L60.6,258.1 L61.0,258.2 L61.4,258.2 L61.8,258.2 L62.2,258.4 L62.6,258.3 L63.0,258.1 L63.4,258.1 L63.8,258.1 L64.2,258.1 L64.6,258.1 L65.0,258.1 L65.4,258.3 L65.8,258.1 L66.2,258.1 L66.6,258.1 L67.0,258.1 L67.4,258.1 L67.8,258.2 L68.2,258.2 L68.6,258.1 L69.0,258.1 L69.4,258.0 L69.8,258.0 L70.2,258.0 L70.6,258.0 L71.0,258.0 L71.4,258.1 L71.8,258.1 L72.2,258.0 L72.6,257.9 L73.0,257.8 L73.4,257.9 L73.8,257.8 L74.2,258.0 L74.6,257.9 L75.0,257.7 L75.4,257.9 L75.8,257.8 L76.2,257.7 L76.6,257.6 L77.0,257.4 L77.4,257.4 L77.8,257.2 L78.2,257.1 L78.6,257.0 L79.0,256.6 L79.4,256.5 L79.8,255.9 L80.2,255.4 L80.6,254.9 L81.0,253.8 L81.4,252.5 L81.8,250.7 L82.2,247.8 L82.6,243.9 L83.0,239.2 L83.4,235.5 L83.8,235.3 L84.2,239.1 L84.6,243.9 L85.0,247.8 L85.4,250.5 L85.8,252.6 L86.2,253.9 L86.6,254.8 L87.0,255.5 L87.4,256.0 L87.8,256.3 L88.2,256.8 L88.6,256.8 L89.0,257.1 L89.4,257.2 L89.8,257.3 L90.2,257.5 L90.6,257.5 L91.0,257.7 L91.4,257.6 L91.8,257.7 L92.2,257.7 L92.6,257.7 L93.0,257.9 L93.4,257.8 L93.8,258.0 L94.2,258.0 L94.6,257.9 L95.0,258.0 L95.4,258.2 L95.8,258.1 L96.2,258.2 L96.6,258.0 L97.0,258.0 L97.4,258.0 L97.8,258.2 L98.2,258.2 L98.6,258.0 L99.0,258.0 L99.4,258.2 L99.8,258.1 L100.2,258.1 L100.6,258.1 L101.0,258.3 L101.4,258.1 L101.8,258.3 L102.2,258.1 L102.6,258.2 L103.0,258.2 L103.4,258.1 L103.8,258.3 L104.2,258.3 L104.6,258.2 L105.0,258.3 L105.4,258.3 L105.8,258.1 L106.2,258.2 L106.6,258.1 L107.0,258.4 L107.4,258.4 L107.8,258.3 L108.2,258.3 L108.6,258.2 L109.0,258.1 L109.4,258.4 L109.8,258.3 L110.2,258.4 L110.6,258.3 L111.0,258.2 L111.4,258.3 L111.8,258.1 L112.2,258.4 L112.6,258.3 L113.0,258.2 L113.4,258.3 L113.8,258.2 L114.2,258.2 L114.6,258.3 L115.0,258.2 L115.4,258.2 L115.8,258.4 L116.2,258.4 L116.6,258.3 L117.0,258.3 L117.4,258.2 L117.8,258.3 L118.2,258.3 L118.6,258.4 L119.0,258.1 L119.4,258.3 L119.8,258.3 L120.2,258.2 L120.6,258.2 L121.0,258.2 L121.4,258.3 L121.8,258.2 L122.2,258.2 L122.6,258.1 L123.0,258.3 L123.4,258.1 L123.8,258.2 L124.2,258.0 L124.6,258.1 L125.0,257.9 L125.4,257.9 L125.8,257.6 L126.2,257.1 L126.6,256.8 L127.0,256.5 L127.4,256.4 L127.8,256.8 L128.2,257.1 L128.6,257.7 L129.0,257.6 L129.4,258.0 L129.8,258.0 L130.2,258.0 L130.6,258.0 L131.0,258.2 L131.4,258.1 L131.8,258.1 L132.2,258.2 L132.6,258.2 L133.0,258.1 L133.4,258.3 L133.8,258.1 L134.2,258.2 L134.6,258.3 L135.0,258.3 L135.4,258.2 L135.8,258.3 L136.2,258.2 L136.6,258.2 L137.0,258.3 L137.4,258.2 L137.8,258.3 L138.2,258.4 L138.6,258.4 L139.0,258.2 L139.4,258.1 L139.8,258.3 L140.2,258.1 L140.6,258.3 L141.0,258.3 L141.4,258.4 L141.8,258.3 L142.2,258.4 L142.6,258.3 L143.0,258.3 L143.4,258.3 L143.8,258.4 L144.2,258.1 L144.6,258.3 L145.0,258.2 L145.4,258.3 L145.8,258.3 L146.2,258.2 L146.6,258.2 L147.0,258.3 L147.4,258.4 L147.8,258.2 L148.2,258.2 L148.6,258.3 L149.0,258.2 L149.4,258.2 L149.8,258.3 L150.2,258.3 L150.6,258.2 L151.0,258.3 L151.4,258.2 L151.8,258.2 L152.2,258.2 L152.6,258.1 L153.0,258.3 L153.4,258.1 L153.8,258.2 L154.2,258.3 L154.6,258.2 L155.0,258.1 L155.4,258.2 L155.8,258.2 L156.2,258.1 L156.6,258.1 L157.0,257.9 L157.4,257.8 L157.8,257.9 L158.2,257.5 L158.6,257.3 L159.0,257.0 L159.4,256.6 L159.8,257.1 L160.2,257.3 L160.6,257.4 L161.0,257.8 L161.4,258.0 L161.8,257.9 L162.2,257.9 L162.6,258.0 L163.0,258.0 L163.4,258.2 L163.8,258.3 L164.2,258.1 L164.6,258.3 L165.0,258.3 L165.4,258.1 L165.8,258.4 L166.2,258.3 L166.6,258.2 L167.0,258.4 L167.4,258.4 L167.8,258.2 L168.2,258.4 L168.6,258.3 L169.0,258.2 L169.4,258.2 L169.8,258.2 L170.2,258.4 L170.6,258.4 L171.0,258.4 L171.4,258.2 L171.8,258.2 L172.2,258.2 L172.6,258.3 L173.0,258.4 L173.4,258.3 L173.8,258.3 L174.2,258.2 L174.6,258.3 L175.0,258.3 L175.4,258.2 L175.8,258.4 L176.2,258.3 L176.6,258.3 L177.0,258.3 L177.4,258.4 L177.8,258.4 L178.2,258.3 L178.6,258.2 L179.0,258.4 L179.4,258.3 L179.8,258.3 L180.2,258.2 L180.6,258.2 L181.0,258.4 L181.4,258.3 L181.8,258.2 L182.2,258.2 L182.6,258.1 L183.0,258.2 L183.4,258.4 L183.8,258.4 L184.2,258.4 L184.6,258.1 L185.0,258.4 L185.4,258.2 L185.8,258.4 L186.2,258.4 L186.6,258.4 L187.0,258.3 L187.4,258.3 L187.8,258.3 L188.2,258.2 L188.6,258.3 L189.0,258.2 L189.4,258.2 L189.8,258.2 L190.2,258.4 L190.6,258.2 L191.0,258.4 L191.4,258.3 L191.8,258.4 L192.2,258.3 L192.6,258.4 L193.0,258.2" stroke="#8b1414" stroke-width="1.0" fill="none" stroke-linejoin="round" />
<path d="M23.70,262.00 C23.72,266.67 23.67,283.33 23.80,290.00 C23.93,296.67 23.88,298.33 24.50,302.00 C25.12,305.67 27.03,309.33 27.50,312.00 C27.97,314.67 28.55,315.83 27.30,318.00 C26.05,320.17 23.22,322.83 20.00,325.00 C16.78,327.17 11.17,329.17 8.00,331.00 C4.83,332.83 1.67,334.33 1.00,336.00 C0.33,337.67 2.25,339.17 4.00,341.00 C5.75,342.83 9.25,344.67 11.50,347.00 C13.75,349.33 15.83,351.83 17.50,355.00 C19.17,358.17 20.53,361.50 21.50,366.00 C22.47,370.50 22.83,375.67 23.30,382.00 C23.77,388.33 24.13,400.33 24.30,404.00" stroke="#8b1414" stroke-width="1.0" fill="none" stroke-linejoin="round" />
<rect x="30.9" y="262.3" width="162.4" height="142.1" fill="none" stroke="#444" stroke-width="1.5" />
<line x1="30.9" y1="263.0" x2="30.9" y2="403.7" stroke="#a0a0a0" stroke-width="1.6" />
<ellipse cx="83.4" cy="307.5" rx="1.7" ry="13.8" fill="none" stroke="#1a1aee" stroke-width="1.3"/>
<ellipse cx="83.4" cy="309.0" rx="0.7" ry="9.0" fill="none" stroke="#1a1aee" stroke-width="0.8"/>
<path d="M84.5,320 C86.5,319 88.5,321 88.8,326 C89.2,331 90.0,336 89.3,338.5 C88.3,339.5 87.6,334 86.8,330 C86,326 85,323 84.5,320 Z" stroke="#1a1aee" stroke-width="1.2" fill="none" stroke-linejoin="round" />
<ellipse cx="83.2" cy="392.8" rx="0.9" ry="5.6" fill="none" stroke="#1a1aee" stroke-width="1.2"/>
<path d="M80.2,340 C79.8,352 80.3,366 81.5,376 C82.3,370 82.8,364 84.5,362 C86,363 86.3,368 86.8,370 C87.2,362 87.2,350 86.6,340" stroke="#ee1111" stroke-width="1.1" fill="none" stroke-linejoin="round" />
<path d="M81.5,350 C81.3,358 81.8,364 82.6,368 M85.2,352 C85.6,358 85.6,364 85.2,367" stroke="#ee3333" stroke-width="0.7" fill="none" stroke-linejoin="round" />
<ellipse cx="83.0" cy="339.8" rx="3.6" ry="18.8" fill="#a30000"/>
<ellipse cx="83.1" cy="338.0" rx="2.0" ry="15.0" fill="none" stroke="#d04040" stroke-width="0.5"/>
<ellipse cx="83.2" cy="336.0" rx="1.0" ry="11.0" fill="none" stroke="#e06060" stroke-width="0.5"/>
<line x1="83.3" y1="326.0" x2="83.3" y2="352.0" stroke="#e87070" stroke-width="0.5" stroke-dasharray="2,2" />
<line x1="40.3" y1="327.0" x2="40.3" y2="339.0" stroke="#ee1111" stroke-width="1.6" />
<ellipse cx="159.4" cy="301.8" rx="2.4" ry="13.0" fill="none" stroke="#ee1111" stroke-width="1.0"/>
<ellipse cx="159.5" cy="301.5" rx="1.5" ry="10.0" fill="#a80000" stroke="#dd1111" stroke-width="0.6"/>
<ellipse cx="159.6" cy="301.0" rx="0.6" ry="7.0" fill="none" stroke="#ff6666" stroke-width="0.4"/>
<path d="M161.6,292 C163.2,295 163.2,302 161.8,306" stroke="#ee1111" stroke-width="0.9" fill="none" stroke-linejoin="round" />
<ellipse cx="126.7" cy="341.5" rx="2.2" ry="18.5" fill="none" stroke="#ee1111" stroke-width="1.0"/>
<ellipse cx="126.7" cy="341.0" rx="1.4" ry="14.5" fill="none" stroke="#aa0000" stroke-width="0.9"/>
<ellipse cx="126.7" cy="340.0" rx="0.6" ry="9" fill="#880000"/>
<line x1="126.5" y1="316.0" x2="127.9" y2="311.0" stroke="#1a1aee" stroke-width="1.3" />
<text x="32.0" y="348.9" font-size="10.5" font-weight="bold" textLength="45.0" lengthAdjust="spacingAndGlyphs" >(169, 8.4)</text>
<text x="43.4" y="363.8" font-size="10.5" font-weight="bold" textLength="35.4" lengthAdjust="spacingAndGlyphs" ><tspan fill="#ee1111">HC</tspan>OO*</text>
<text x="114.2" y="296.2" font-size="10.5" font-weight="bold" textLength="39.5" lengthAdjust="spacingAndGlyphs" >(52, 3.7)</text>
<text x="121.8" y="308.5" font-size="10.5" font-weight="bold" textLength="31.9" lengthAdjust="spacingAndGlyphs" ><tspan fill="#ee1111">H<tspan dy="2" font-size="7.5">3</tspan><tspan dy="-2">C</tspan></tspan>O*</text>
<text x="144.6" y="329.4" font-size="10.5" font-weight="bold" textLength="39.3" lengthAdjust="spacingAndGlyphs" >(48, 3.2)</text>
<text x="146.5" y="340.8" font-size="10.5" font-weight="bold" textLength="37.4" lengthAdjust="spacingAndGlyphs" ><tspan fill="#ee1111">H<tspan dy="2" font-size="7.5">3</tspan><tspan dy="-2">C</tspan></tspan>OH*</text>
<line x1="31.0" y1="410.2" x2="193.4" y2="410.2" stroke="#000" stroke-width="1.2" />
<line x1="193.0" y1="410.2" x2="193.0" y2="413.2" stroke="#000" stroke-width="0.9" />
<line x1="176.8" y1="410.2" x2="176.8" y2="412.0" stroke="#000" stroke-width="0.9" />
<line x1="160.6" y1="410.2" x2="160.6" y2="413.2" stroke="#000" stroke-width="0.9" />
<line x1="144.4" y1="410.2" x2="144.4" y2="412.0" stroke="#000" stroke-width="0.9" />
<line x1="128.2" y1="410.2" x2="128.2" y2="413.2" stroke="#000" stroke-width="0.9" />
<line x1="112.0" y1="410.2" x2="112.0" y2="412.0" stroke="#000" stroke-width="0.9" />
<line x1="95.8" y1="410.2" x2="95.8" y2="413.2" stroke="#000" stroke-width="0.9" />
<line x1="79.6" y1="410.2" x2="79.6" y2="412.0" stroke="#000" stroke-width="0.9" />
<line x1="63.4" y1="410.2" x2="63.4" y2="413.2" stroke="#000" stroke-width="0.9" />
<line x1="47.2" y1="410.2" x2="47.2" y2="412.0" stroke="#000" stroke-width="0.9" />
<line x1="31.0" y1="410.2" x2="31.0" y2="413.2" stroke="#000" stroke-width="0.9" />
<text x="63.4" y="420.7" font-size="7.8" font-weight="bold" text-anchor="middle" >200</text>
<text x="95.8" y="420.7" font-size="7.8" font-weight="bold" text-anchor="middle" >150</text>
<text x="128.2" y="420.7" font-size="7.8" font-weight="bold" text-anchor="middle" >100</text>
<text x="160.6" y="420.7" font-size="7.8" font-weight="bold" text-anchor="middle" >50</text>
<text x="193.0" y="420.7" font-size="7.8" font-weight="bold" text-anchor="middle" >0</text>
<text x="37.8" y="433.9" font-size="13.7" font-weight="bold" textLength="148.6" lengthAdjust="spacingAndGlyphs" ><tspan dy="-5" font-size="9">13</tspan><tspan dy="5">C Chemical shift (ppm)</tspan></text>
<line x1="199.6" y1="262.0" x2="199.6" y2="404.5" stroke="#000" stroke-width="1.2" />
<line x1="199.6" y1="269.1" x2="201.6" y2="269.1" stroke="#000" stroke-width="0.9" />
<line x1="199.6" y1="276.2" x2="202.8" y2="276.2" stroke="#000" stroke-width="0.9" />
<line x1="199.6" y1="283.3" x2="201.6" y2="283.3" stroke="#000" stroke-width="0.9" />
<line x1="199.6" y1="290.5" x2="202.8" y2="290.5" stroke="#000" stroke-width="0.9" />
<line x1="199.6" y1="297.6" x2="201.6" y2="297.6" stroke="#000" stroke-width="0.9" />
<line x1="199.6" y1="304.7" x2="202.8" y2="304.7" stroke="#000" stroke-width="0.9" />
<line x1="199.6" y1="311.8" x2="201.6" y2="311.8" stroke="#000" stroke-width="0.9" />
<line x1="199.6" y1="319.0" x2="202.8" y2="319.0" stroke="#000" stroke-width="0.9" />
<line x1="199.6" y1="326.1" x2="201.6" y2="326.1" stroke="#000" stroke-width="0.9" />
<line x1="199.6" y1="333.2" x2="202.8" y2="333.2" stroke="#000" stroke-width="0.9" />
<line x1="199.6" y1="340.4" x2="201.6" y2="340.4" stroke="#000" stroke-width="0.9" />
<line x1="199.6" y1="347.5" x2="202.8" y2="347.5" stroke="#000" stroke-width="0.9" />
<line x1="199.6" y1="354.6" x2="201.6" y2="354.6" stroke="#000" stroke-width="0.9" />
<line x1="199.6" y1="361.8" x2="202.8" y2="361.8" stroke="#000" stroke-width="0.9" />
<line x1="199.6" y1="368.9" x2="201.6" y2="368.9" stroke="#000" stroke-width="0.9" />
<line x1="199.6" y1="376.0" x2="202.8" y2="376.0" stroke="#000" stroke-width="0.9" />
<line x1="199.6" y1="383.1" x2="201.6" y2="383.1" stroke="#000" stroke-width="0.9" />
<line x1="199.6" y1="390.3" x2="202.8" y2="390.3" stroke="#000" stroke-width="0.9" />
<line x1="199.6" y1="397.4" x2="201.6" y2="397.4" stroke="#000" stroke-width="0.9" />
<line x1="199.6" y1="404.5" x2="202.8" y2="404.5" stroke="#000" stroke-width="0.9" />
<text x="202.6" y="278.8" font-size="7.6" font-weight="bold" >0</text>
<text x="202.6" y="293.1" font-size="7.6" font-weight="bold" >2</text>
<text x="202.6" y="307.3" font-size="7.6" font-weight="bold" >4</text>
<text x="202.6" y="321.6" font-size="7.6" font-weight="bold" >6</text>
<text x="202.6" y="335.8" font-size="7.6" font-weight="bold" >8</text>
<text x="202.6" y="350.1" font-size="7.6" font-weight="bold" >10</text>
<text x="202.6" y="364.4" font-size="7.6" font-weight="bold" >12</text>
<text x="202.6" y="378.6" font-size="7.6" font-weight="bold" >14</text>
<text x="202.6" y="392.9" font-size="7.6" font-weight="bold" >16</text>
<text x="202.6" y="407.1" font-size="7.6" font-weight="bold" >18</text>
<text x="221.8" y="334.8" font-size="12.8" font-weight="bold" text-anchor="middle" textLength="142.0" lengthAdjust="spacingAndGlyphs" transform="rotate(-90 221.8 334.8)" ><tspan dy="-4.5" font-size="8.5">1</tspan><tspan dy="4.5">H Chemical shift (ppm)</tspan></text>
<text x="239.5" y="258.3" font-size="29.5" >e</text>
<path d="M261.4,254.7 L262.0,254.5 L262.6,256.3 L263.2,255.5 L263.8,256.2 L264.4,255.2 L265.0,256.7 L265.6,256.4 L266.2,255.5 L266.8,256.7 L267.4,254.6 L268.0,254.4 L268.6,256.6 L269.2,256.7 L269.8,256.2 L270.4,256.0 L271.0,253.8 L271.6,254.5 L272.2,256.2 L272.8,253.7 L273.4,254.7 L274.0,254.4 L274.6,256.7 L275.2,254.4 L275.8,254.0 L276.4,254.7 L277.0,256.7 L277.6,255.6 L278.2,256.5 L278.8,256.2 L279.4,256.5 L280.0,256.9 L280.6,255.7 L281.2,253.9 L281.8,254.0 L282.4,256.4 L283.0,254.1 L283.6,251.9 L284.2,245.6 L284.8,245.8 L285.4,248.2 L286.0,254.3 L286.6,256.0 L287.2,256.5 L287.8,255.0 L288.4,254.6 L289.0,255.9 L289.6,255.9 L290.2,254.6 L290.8,256.0 L291.4,256.5 L292.0,256.4 L292.6,254.2 L293.2,255.4 L293.8,255.9 L294.4,255.7 L295.0,254.5 L295.6,254.2 L296.2,255.7 L296.8,256.6 L297.4,253.9 L298.0,256.2 L298.6,254.6 L299.2,255.0 L299.8,256.7 L300.4,256.1 L301.0,254.1 L301.6,255.0 L302.2,255.1 L302.8,255.8 L303.4,256.0 L304.0,256.3 L304.6,254.7 L305.2,255.9 L305.8,255.4 L306.4,254.8 L307.0,255.1 L307.6,255.2 L308.2,256.1 L308.8,256.0 L309.4,254.0 L310.0,254.3 L310.6,254.8 L311.2,253.6 L311.8,252.3 L312.4,254.6 L313.0,252.0 L313.6,253.4 L314.2,249.8 L314.8,248.4 L315.4,249.8 L316.0,251.8 L316.6,253.3 L317.2,255.8 L317.8,256.1 L318.4,254.3 L319.0,256.2 L319.6,255.9 L320.2,255.6 L320.8,256.0 L321.4,256.3 L322.0,255.5 L322.6,253.9 L323.2,255.6 L323.8,254.0 L324.4,256.9 L325.0,255.3 L325.6,255.6 L326.2,255.7 L326.8,255.2 L327.4,255.6 L328.0,254.8 L328.6,254.4 L329.2,254.8 L329.8,255.9 L330.4,254.9 L331.0,255.5 L331.6,256.5 L332.2,255.1 L332.8,254.2 L333.4,254.5 L334.0,255.5 L334.6,256.5 L335.2,256.8 L335.8,253.8 L336.4,256.1 L337.0,256.2 L337.6,255.8 L338.2,256.5 L338.8,254.0 L339.4,255.9 L340.0,255.5 L340.6,254.0 L341.2,256.4 L341.8,254.2 L342.4,255.5 L343.0,254.5 L343.6,255.2 L344.2,256.8 L344.8,254.6 L345.4,256.2 L346.0,256.7 L346.6,256.2 L347.2,254.6 L347.8,255.2 L348.4,254.6 L349.0,254.1 L349.6,256.8 L350.2,255.9 L350.8,256.2 L351.4,254.6 L352.0,255.9 L352.6,255.1 L353.2,255.8 L353.8,256.8 L354.4,256.5 L355.0,256.3 L355.6,253.9 L356.2,255.1 L356.8,254.6 L357.4,254.3 L358.0,256.5 L358.6,255.7 L359.2,256.1 L359.8,256.6 L360.4,254.2 L361.0,256.2 L361.6,253.8 L362.2,256.1 L362.8,254.9 L363.4,254.0 L364.0,253.8 L364.6,254.5 L365.2,253.7 L365.8,254.2 L366.4,254.7 L367.0,256.8 L367.6,256.1 L368.2,255.1 L368.8,254.4 L369.4,256.8 L370.0,256.6 L370.6,256.3 L371.2,255.2 L371.8,255.0 L372.4,254.3 L373.0,255.0 L373.6,256.6 L374.2,255.5 L374.8,255.0 L375.4,254.7 L376.0,255.1 L376.6,254.1 L377.2,256.0 L377.8,255.4 L378.4,254.5 L379.0,254.3 L379.6,255.2 L380.2,256.3 L380.8,254.2 L381.4,256.8 L382.0,254.9 L382.6,255.4 L383.2,253.7 L383.8,254.8 L384.4,255.3 L385.0,254.5 L385.6,255.3 L386.2,253.8 L386.8,256.4 L387.4,254.9 L388.0,255.3 L388.6,255.6 L389.2,255.4 L389.8,255.1 L390.4,256.7 L391.0,254.8 L391.6,254.0 L392.2,252.0 L392.8,248.3 L393.4,242.6 L394.0,236.2 L394.6,235.6 L395.2,239.1 L395.8,239.8 L396.4,237.3 L397.0,234.8 L397.6,239.9 L398.2,246.4 L398.8,250.1 L399.4,252.2 L400.0,252.5 L400.6,250.8 L401.2,252.4 L401.8,255.2 L402.4,254.5 L403.0,254.9 L403.6,255.2 L404.2,255.9 L404.8,256.4 L405.4,256.5 L406.0,253.8 L406.6,256.3 L407.2,256.0 L407.8,256.4 L408.4,256.7 L409.0,254.3 L409.6,254.6 L410.2,256.0 L410.8,256.0 L411.4,254.9 L412.0,256.4 L412.6,256.1 L413.2,256.0 L413.8,256.1 L414.4,255.3 L415.0,255.6 L415.6,254.8 L416.2,254.6 L416.8,256.1 L417.4,255.6 L418.0,254.3 L418.6,256.3 L419.2,255.9 L419.8,256.6 L420.4,255.2 L421.0,256.8 L421.6,254.5 L422.2,254.8 L422.8,254.3 L423.4,255.9 L424.0,255.0" stroke="#7d0a0a" stroke-width="1.5" fill="none" stroke-linejoin="round" />
<path d="M252.00,262.20 C251.55,262.80 248.85,264.45 249.30,265.80 C249.75,267.15 254.55,268.95 254.70,270.30 C254.85,271.65 249.90,272.55 250.20,273.90 C250.50,275.25 256.20,276.90 256.50,278.40 C256.80,279.90 251.85,280.50 252.00,282.90 C252.15,285.30 257.70,290.25 257.40,292.80 C257.10,295.35 252.75,296.55 250.20,298.20 C247.65,299.85 241.50,301.18 242.10,302.70 C242.70,304.22 253.35,306.23 253.80,307.30 C254.25,308.37 247.65,308.20 244.80,309.10 C241.95,310.00 237.60,311.50 236.70,312.70 C235.80,313.90 240.00,314.80 239.40,316.30 C238.80,317.80 232.80,320.20 233.10,321.70 C233.40,323.20 238.65,323.80 241.20,325.30 C243.75,326.80 247.20,329.20 248.40,330.70 C249.60,332.20 247.65,332.80 248.40,334.30 C249.15,335.80 252.00,337.90 252.90,339.70 C253.80,341.50 254.85,343.45 253.80,345.10 C252.75,346.75 248.55,348.25 246.60,349.60 C244.65,350.95 244.05,351.85 242.10,353.20 C240.15,354.55 234.90,356.65 234.90,357.70 C234.90,358.75 240.75,358.00 242.10,359.50 C243.45,361.00 241.95,364.90 243.00,366.70 C244.05,368.50 247.80,368.50 248.40,370.30 C249.00,372.10 247.80,374.65 246.60,377.50 C245.40,380.35 240.90,385.00 241.20,387.40 C241.50,389.80 245.55,389.95 248.40,391.90 C251.25,393.85 258.45,396.68 258.30,399.10 C258.15,401.52 249.30,405.18 247.50,406.40" stroke="#7d0a0a" stroke-width="1.5" fill="none" stroke-linejoin="round" />
<rect x="261.4" y="262.0" width="163.1" height="144.2" fill="none" stroke="#555" stroke-width="1.2" />
<line x1="261.4" y1="412.0" x2="424.5" y2="412.0" stroke="#000" stroke-width="1.1" />
<line x1="408.4" y1="412.0" x2="408.4" y2="413.8" stroke="#000" stroke-width="0.9" />
<line x1="389.7" y1="412.0" x2="389.7" y2="413.8" stroke="#000" stroke-width="0.9" />
<line x1="370.9" y1="412.0" x2="370.9" y2="413.8" stroke="#000" stroke-width="0.9" />
<line x1="352.2" y1="412.0" x2="352.2" y2="413.8" stroke="#000" stroke-width="0.9" />
<line x1="333.4" y1="412.0" x2="333.4" y2="413.8" stroke="#000" stroke-width="0.9" />
<line x1="314.7" y1="412.0" x2="314.7" y2="413.8" stroke="#000" stroke-width="0.9" />
<line x1="295.9" y1="412.0" x2="295.9" y2="413.8" stroke="#000" stroke-width="0.9" />
<line x1="277.2" y1="412.0" x2="277.2" y2="413.8" stroke="#000" stroke-width="0.9" />
<text x="262.2" y="422.0" font-size="7.6" font-weight="bold" text-anchor="middle" >200</text>
<text x="299.7" y="422.0" font-size="7.6" font-weight="bold" text-anchor="middle" >150</text>
<text x="337.2" y="422.0" font-size="7.6" font-weight="bold" text-anchor="middle" >100</text>
<text x="374.7" y="422.0" font-size="7.6" font-weight="bold" text-anchor="middle" >50</text>
<text x="412.2" y="422.0" font-size="7.6" font-weight="bold" text-anchor="middle" >0</text>
<text x="263.9" y="434.8" font-size="13.7" font-weight="bold" textLength="148.3" lengthAdjust="spacingAndGlyphs" ><tspan dy="-5" font-size="9">13</tspan><tspan dy="5">C Chemical shift (ppm)</tspan></text>
<line x1="430.1" y1="262.0" x2="430.1" y2="406.2" stroke="#000" stroke-width="1.2" />
<line x1="430.1" y1="265.9" x2="432.0" y2="265.9" stroke="#000" stroke-width="0.9" />
<line x1="430.1" y1="273.1" x2="433.0" y2="273.1" stroke="#000" stroke-width="0.9" />
<line x1="430.1" y1="280.3" x2="432.0" y2="280.3" stroke="#000" stroke-width="0.9" />
<line x1="430.1" y1="287.6" x2="433.0" y2="287.6" stroke="#000" stroke-width="0.9" />
<line x1="430.1" y1="294.8" x2="432.0" y2="294.8" stroke="#000" stroke-width="0.9" />
<line x1="430.1" y1="302.0" x2="433.0" y2="302.0" stroke="#000" stroke-width="0.9" />
<line x1="430.1" y1="309.2" x2="432.0" y2="309.2" stroke="#000" stroke-width="0.9" />
<line x1="430.1" y1="316.4" x2="433.0" y2="316.4" stroke="#000" stroke-width="0.9" />
<line x1="430.1" y1="323.7" x2="432.0" y2="323.7" stroke="#000" stroke-width="0.9" />
<line x1="430.1" y1="330.9" x2="433.0" y2="330.9" stroke="#000" stroke-width="0.9" />
<line x1="430.1" y1="338.1" x2="432.0" y2="338.1" stroke="#000" stroke-width="0.9" />
<line x1="430.1" y1="345.4" x2="433.0" y2="345.4" stroke="#000" stroke-width="0.9" />
<line x1="430.1" y1="352.6" x2="432.0" y2="352.6" stroke="#000" stroke-width="0.9" />
<line x1="430.1" y1="359.8" x2="433.0" y2="359.8" stroke="#000" stroke-width="0.9" />
<line x1="430.1" y1="367.0" x2="432.0" y2="367.0" stroke="#000" stroke-width="0.9" />
<line x1="430.1" y1="374.2" x2="433.0" y2="374.2" stroke="#000" stroke-width="0.9" />
<line x1="430.1" y1="381.5" x2="432.0" y2="381.5" stroke="#000" stroke-width="0.9" />
<line x1="430.1" y1="388.7" x2="433.0" y2="388.7" stroke="#000" stroke-width="0.9" />
<line x1="430.1" y1="395.9" x2="432.0" y2="395.9" stroke="#000" stroke-width="0.9" />
<line x1="430.1" y1="403.1" x2="433.0" y2="403.1" stroke="#000" stroke-width="0.9" />
<text x="432.6" y="275.7" font-size="7.4" font-weight="bold" >-4</text>
<text x="432.6" y="290.2" font-size="7.4" font-weight="bold" >-2</text>
<text x="432.6" y="304.6" font-size="7.4" font-weight="bold" >0</text>
<text x="432.6" y="319.1" font-size="7.4" font-weight="bold" >2</text>
<text x="432.6" y="333.5" font-size="7.4" font-weight="bold" >4</text>
<text x="432.6" y="348.0" font-size="7.4" font-weight="bold" >6</text>
<text x="432.6" y="362.4" font-size="7.4" font-weight="bold" >8</text>
<text x="432.6" y="376.9" font-size="7.4" font-weight="bold" >10</text>
<text x="432.6" y="391.3" font-size="7.4" font-weight="bold" >12</text>
<text x="432.6" y="405.8" font-size="7.4" font-weight="bold" >14</text>
<text x="451.8" y="335.8" font-size="12.8" font-weight="bold" text-anchor="middle" textLength="145.0" lengthAdjust="spacingAndGlyphs" transform="rotate(-90 451.8 335.8)" ><tspan dy="-4.5" font-size="8.5">1</tspan><tspan dy="4.5">H Chemical shift (ppm)</tspan></text>
<path d="M347.80,279.40 L356.11,284.20 L356.11,293.80 L347.80,298.60 L339.49,293.80 L339.49,284.20 Z" stroke="#000" stroke-width="1.0" fill="none" stroke-linejoin="round" />
<line x1="353.8" y1="286.4" x2="353.8" y2="291.6" stroke="#000" stroke-width="1.0" />
<line x1="347.1" y1="295.5" x2="342.5" y2="292.9" stroke="#000" stroke-width="1.0" />
<line x1="342.5" y1="285.1" x2="347.1" y2="282.5" stroke="#000" stroke-width="1.0" />
<line x1="347.8" y1="279.4" x2="347.8" y2="271.4" stroke="#000" stroke-width="1.0" />
<line x1="356.1" y1="284.2" x2="361.6" y2="280.2" stroke="#000" stroke-width="1.0" />
<text x="360.5" y="281.5" font-size="6.8" font-weight="bold" fill="#ee1111" >CH<tspan dy="1.5" font-size="4.8">3</tspan></text>
<line x1="347.8" y1="298.6" x2="347.8" y2="303.1" stroke="#000" stroke-width="1.0" />
<text x="343.5" y="311.0" font-size="6.8" font-weight="bold" fill="#ee1111" >CH<tspan dy="1.5" font-size="4.8">3</tspan></text>
<text x="363.5" y="296.0" font-size="10.5" font-weight="bold" textLength="54.4" lengthAdjust="spacingAndGlyphs" >(19.5, 1.84)</text>
<text x="364.4" y="339.8" font-size="10.5" font-weight="bold" textLength="48.2" lengthAdjust="spacingAndGlyphs" >(20.9, 2.4)</text>
<path d="M349.60,340.00 L358.26,345.00 L358.26,355.00 L349.60,360.00 L340.94,355.00 L340.94,345.00 Z" stroke="#000" stroke-width="1.0" fill="none" stroke-linejoin="round" />
<line x1="350.3" y1="343.2" x2="355.1" y2="346.0" stroke="#000" stroke-width="1.0" />
<line x1="355.1" y1="354.0" x2="350.3" y2="356.8" stroke="#000" stroke-width="1.0" />
<line x1="343.4" y1="352.7" x2="343.4" y2="347.3" stroke="#000" stroke-width="1.0" />
<line x1="349.6" y1="340.0" x2="349.6" y2="336.0" stroke="#000" stroke-width="1.0" />
<line x1="349.6" y1="360.0" x2="349.6" y2="370.7" stroke="#000" stroke-width="1.0" />
<text x="345.8" y="335.0" font-size="6.8" font-weight="bold" fill="#ee1111" >CH<tspan dy="1.5" font-size="4.8">3</tspan></text>
<text x="272.7" y="334.5" font-size="10.5" font-weight="bold" textLength="54.4" lengthAdjust="spacingAndGlyphs" >(169.2, 8.0)</text>
<text x="281.9" y="349.4" font-size="10.5" font-weight="bold" textLength="35.6" lengthAdjust="spacingAndGlyphs" ><tspan fill="#ee1111">HC</tspan>OO*</text>
<ellipse cx="284.2" cy="358.6" rx="0.9" ry="1.6" fill="#ee1111"/>
<ellipse cx="396.3" cy="318" rx="1.6" ry="8.2" fill="none" stroke="#ee1111" stroke-width="1.0" transform="rotate(9 396.3 318)"/>
<ellipse cx="396.3" cy="318" rx="0.5" ry="5" fill="none" stroke="#ee1111" stroke-width="0.6" transform="rotate(9 396.3 318)"/>
<text x="464.0" y="261.9" font-size="28" textLength="9.5" lengthAdjust="spacingAndGlyphs" >f</text>
<rect x="484.4" y="257.0" width="193.2" height="154.1" fill="none" stroke="#333" stroke-width="1.1" />
<rect x="526.0" y="298.7" width="37.6" height="110.3" fill="#fbe0e0" />
<line x1="484.4" y1="360.3" x2="677.6" y2="360.3" stroke="#222" stroke-width="1.1" />
<path d="M485.00,328.00 C487.50,328.07 495.00,328.27 500.00,328.40 C505.00,328.53 510.75,328.70 515.00,328.80 C519.25,328.90 523.42,329.63 525.50,329.00 C527.58,328.37 526.83,327.83 527.50,325.00 C528.17,322.17 528.92,315.75 529.50,312.00 C530.08,308.25 530.58,304.43 531.00,302.50 C531.42,300.57 531.58,300.15 532.00,300.40 C532.42,300.65 532.92,301.90 533.50,304.00 C534.08,306.10 534.75,310.58 535.50,313.00 C536.25,315.42 537.08,317.17 538.00,318.50 C538.92,319.83 540.08,320.42 541.00,321.00 C541.92,321.58 542.83,322.50 543.50,322.00 C544.17,321.50 544.52,319.25 545.00,318.00 C545.48,316.75 545.93,314.67 546.40,314.50 C546.87,314.33 547.32,316.67 547.80,317.00 C548.28,317.33 548.85,316.83 549.30,316.50 C549.75,316.17 549.97,314.75 550.50,315.00 C551.03,315.25 551.58,316.92 552.50,318.00 C553.42,319.08 554.75,320.58 556.00,321.50 C557.25,322.42 558.67,322.92 560.00,323.50 C561.33,324.08 562.33,324.62 564.00,325.00 C565.67,325.38 567.33,325.55 570.00,325.80 C572.67,326.05 576.67,326.27 580.00,326.50 C583.33,326.73 586.67,326.98 590.00,327.20 C593.33,327.42 595.83,327.63 600.00,327.80 C604.17,327.97 610.83,328.10 615.00,328.20 C619.17,328.30 622.50,328.50 625.00,328.40 C627.50,328.30 627.50,327.63 630.00,327.60 C632.50,327.57 635.00,327.97 640.00,328.20 C645.00,328.43 653.83,328.78 660.00,329.00 C666.17,329.22 674.17,329.42 677.00,329.50" stroke="#ff2222" stroke-width="1.2" fill="none" stroke-linejoin="round" />
<path d="M485.00,341.80 C487.50,341.92 495.00,342.43 500.00,342.50 C505.00,342.57 510.75,342.23 515.00,342.20 C519.25,342.17 523.33,342.83 525.50,342.30 C527.67,341.77 527.17,340.80 528.00,339.00 C528.83,337.20 529.73,333.33 530.50,331.50 C531.27,329.67 531.85,327.83 532.60,328.00 C533.35,328.17 534.10,330.92 535.00,332.50 C535.90,334.08 537.00,336.33 538.00,337.50 C539.00,338.67 539.95,339.07 541.00,339.50 C542.05,339.93 543.47,340.77 544.30,340.10 C545.13,339.43 545.55,336.57 546.00,335.50 C546.45,334.43 546.42,333.78 547.00,333.70 C547.58,333.62 548.63,335.10 549.50,335.00 C550.37,334.90 551.28,332.93 552.20,333.10 C553.12,333.27 553.70,335.12 555.00,336.00 C556.30,336.88 558.17,337.82 560.00,338.40 C561.83,338.98 563.50,339.15 566.00,339.50 C568.50,339.85 571.00,340.12 575.00,340.50 C579.00,340.88 582.50,341.50 590.00,341.80 C597.50,342.10 605.50,342.10 620.00,342.30 C634.50,342.50 667.50,342.88 677.00,343.00" stroke="#b06ef5" stroke-width="1.2" fill="none" stroke-linejoin="round" />
<line x1="484.5" y1="352.9" x2="677.5" y2="352.9" stroke="#3a7bd5" stroke-width="1.3" />
<path d="M485.00,391.30 C491.75,391.30 518.33,392.10 525.50,391.30 C532.67,390.50 527.22,388.22 528.00,386.50 C528.78,384.78 529.58,382.28 530.20,381.00 C530.82,379.72 531.15,378.63 531.70,378.80 C532.25,378.97 532.78,380.63 533.50,382.00 C534.22,383.37 535.08,385.83 536.00,387.00 C536.92,388.17 538.00,388.83 539.00,389.00 C540.00,389.17 541.17,389.33 542.00,388.00 C542.83,386.67 543.45,382.75 544.00,381.00 C544.55,379.25 544.88,377.83 545.30,377.50 C545.72,377.17 546.05,379.25 546.50,379.00 C546.95,378.75 547.50,377.75 548.00,376.00 C548.50,374.25 549.00,369.17 549.50,368.50 C550.00,367.83 550.42,370.08 551.00,372.00 C551.58,373.92 552.17,377.75 553.00,380.00 C553.83,382.25 555.08,384.83 556.00,385.50 C556.92,386.17 557.82,384.58 558.50,384.00 C559.18,383.42 559.52,382.08 560.10,382.00 C560.68,381.92 561.02,382.83 562.00,383.50 C562.98,384.17 563.83,385.17 566.00,386.00 C568.17,386.83 571.00,387.75 575.00,388.50 C579.00,389.25 584.17,390.08 590.00,390.50 C595.83,390.92 601.67,390.85 610.00,391.00 C618.33,391.15 628.83,391.32 640.00,391.40 C651.17,391.48 670.83,391.48 677.00,391.50" stroke="#3fa060" stroke-width="1.2" fill="none" stroke-linejoin="round" />
<path d="M484.5,402.8 L530,402.5 L560,401.8 L600,402 L677.5,402.4" stroke="#f06cf0" stroke-width="1.3" fill="none" stroke-linejoin="round" />
<text x="487.0" y="266.3" font-size="7.6" font-weight="bold" textLength="55.6" lengthAdjust="spacingAndGlyphs" >Cat: ZZO&amp;M-22</text>
<rect x="553.1" y="260.7" width="12.3" height="6.5" fill="#8b3a0e" />
<text x="569.9" y="266.6" font-size="8.2" font-weight="bold" textLength="66.1" lengthAdjust="spacingAndGlyphs" >Others aromatics</text>
<text x="487.0" y="371.7" font-size="7.6" font-weight="bold" textLength="34.6" lengthAdjust="spacingAndGlyphs" >Cat: M-22</text>
<text x="637.7" y="326.7" font-size="6.8" font-weight="bold" textLength="24.0" lengthAdjust="spacingAndGlyphs" >CO<tspan dy="1.5" font-size="5">2</tspan><tspan dy="-1.5">+H</tspan><tspan dy="1.5" font-size="5">2</tspan></text>
<text x="638.9" y="340.7" font-size="6.8" font-weight="bold" textLength="21.4" lengthAdjust="spacingAndGlyphs" >HCHO</text>
<text x="639.5" y="350.7" font-size="6.8" font-weight="bold" textLength="22.4" lengthAdjust="spacingAndGlyphs" >CH<tspan dy="1.5" font-size="5">3</tspan><tspan dy="-1.5">OH</tspan></text>
<text x="640.3" y="390.4" font-size="6.8" font-weight="bold" textLength="21.4" lengthAdjust="spacingAndGlyphs" >HCHO</text>
<text x="640.7" y="401.0" font-size="6.8" font-weight="bold" textLength="26.0" lengthAdjust="spacingAndGlyphs" >HCOOH</text>
<path d="M498.50,275.90 L505.34,279.85 L505.34,287.75 L498.50,291.70 L491.66,287.75 L491.66,279.85 Z" stroke="#000" stroke-width="0.9" fill="none" stroke-linejoin="round" />
<line x1="494.2" y1="280.6" x2="497.9" y2="278.5" stroke="#000" stroke-width="0.9" />
<line x1="503.4" y1="281.6" x2="503.4" y2="286.0" stroke="#000" stroke-width="0.9" />
<line x1="497.9" y1="289.1" x2="494.2" y2="287.0" stroke="#000" stroke-width="0.9" />
<path d="M525.20,275.90 L532.04,279.85 L532.04,287.75 L525.20,291.70 L518.36,287.75 L518.36,279.85 Z" stroke="#000" stroke-width="0.9" fill="none" stroke-linejoin="round" />
<line x1="520.9" y1="280.6" x2="524.6" y2="278.5" stroke="#000" stroke-width="0.9" />
<line x1="530.1" y1="281.6" x2="530.1" y2="286.0" stroke="#000" stroke-width="0.9" />
<line x1="524.6" y1="289.1" x2="520.9" y2="287.0" stroke="#000" stroke-width="0.9" />
<path d="M505.34,279.85 L511.85,275.50 L518.36,279.85" stroke="#000" stroke-width="0.9" fill="none" stroke-linejoin="round" />
<line x1="498.5" y1="275.9" x2="498.5" y2="267.6" stroke="#000" stroke-width="0.9" />
<line x1="532.0" y1="279.9" x2="539.2" y2="275.5" stroke="#000" stroke-width="0.9" />
<text x="492.7" y="299.9" font-size="7.8" font-weight="bold" textLength="29.7" lengthAdjust="spacingAndGlyphs" >2MMBT</text>
<path d="M556.00,275.90 L562.84,279.85 L562.84,287.75 L556.00,291.70 L549.16,287.75 L549.16,279.85 Z" stroke="#000" stroke-width="0.9" fill="none" stroke-linejoin="round" />
<line x1="556.6" y1="278.5" x2="560.3" y2="280.6" stroke="#000" stroke-width="0.9" />
<line x1="560.3" y1="287.0" x2="556.6" y2="289.1" stroke="#000" stroke-width="0.9" />
<line x1="551.1" y1="286.0" x2="551.1" y2="281.6" stroke="#000" stroke-width="0.9" />
<path d="M584.70,275.90 L591.54,279.85 L591.54,287.75 L584.70,291.70 L577.86,287.75 L577.86,279.85 Z" stroke="#000" stroke-width="0.9" fill="none" stroke-linejoin="round" />
<line x1="585.3" y1="278.5" x2="589.0" y2="280.6" stroke="#000" stroke-width="0.9" />
<line x1="589.0" y1="287.0" x2="585.3" y2="289.1" stroke="#000" stroke-width="0.9" />
<line x1="579.8" y1="286.0" x2="579.8" y2="281.6" stroke="#000" stroke-width="0.9" />
<path d="M562.84,279.85 L570.35,275.50 L577.86,279.85" stroke="#000" stroke-width="0.9" fill="none" stroke-linejoin="round" />
<line x1="549.2" y1="287.8" x2="542.0" y2="292.1" stroke="#000" stroke-width="0.9" />
<line x1="591.5" y1="287.8" x2="598.7" y2="292.1" stroke="#000" stroke-width="0.9" />
<text x="559.2" y="299.9" font-size="7.8" font-weight="bold" textLength="27.7" lengthAdjust="spacingAndGlyphs" >4PMBT</text>
<path d="M619.20,278.50 L626.04,282.45 L626.04,290.35 L619.20,294.30 L612.36,290.35 L612.36,282.45 Z" stroke="#000" stroke-width="0.9" fill="none" stroke-linejoin="round" />
<line x1="614.9" y1="283.2" x2="618.6" y2="281.1" stroke="#000" stroke-width="0.9" />
<line x1="624.1" y1="284.2" x2="624.1" y2="288.6" stroke="#000" stroke-width="0.9" />
<line x1="618.6" y1="291.7" x2="614.9" y2="289.6" stroke="#000" stroke-width="0.9" />
<path d="M646.50,278.50 L653.34,282.45 L653.34,290.35 L646.50,294.30 L639.66,290.35 L639.66,282.45 Z" stroke="#000" stroke-width="0.9" fill="none" stroke-linejoin="round" />
<line x1="647.1" y1="281.1" x2="650.8" y2="283.2" stroke="#000" stroke-width="0.9" />
<line x1="650.8" y1="289.6" x2="647.1" y2="291.7" stroke="#000" stroke-width="0.9" />
<line x1="641.6" y1="288.6" x2="641.6" y2="284.2" stroke="#000" stroke-width="0.9" />
<path d="M626.04,282.45 L632.85,278.10 L639.66,282.45" stroke="#000" stroke-width="0.9" fill="none" stroke-linejoin="round" />
<line x1="619.2" y1="278.5" x2="619.2" y2="270.2" stroke="#000" stroke-width="0.9" />
<line x1="653.3" y1="290.3" x2="660.5" y2="294.7" stroke="#000" stroke-width="0.9" />
<text x="619.0" y="302.7" font-size="7.8" font-weight="bold" textLength="27.0" lengthAdjust="spacingAndGlyphs" >2PMBT</text>
<line x1="532.0" y1="300.4" x2="527.1" y2="296.1" stroke="#000" stroke-width="0.9" />
<path d="M525.00,294.30 L528.62,295.47 L526.65,297.73 Z" stroke="none" stroke-width="0" fill="#000" stroke-linejoin="round" />
<line x1="546.1" y1="313.6" x2="549.1" y2="296.8" stroke="#000" stroke-width="0.9" />
<path d="M549.60,294.00 L550.46,297.71 L547.51,297.18 Z" stroke="none" stroke-width="0" fill="#000" stroke-linejoin="round" />
<line x1="553.1" y1="316.2" x2="606.2" y2="293.7" stroke="#000" stroke-width="0.9" />
<path d="M608.80,292.60 L606.16,295.35 L604.99,292.58 Z" stroke="none" stroke-width="0" fill="#000" stroke-linejoin="round" />
<line x1="519.5" y1="411.1" x2="519.5" y2="414.5" stroke="#000" stroke-width="1" />
<line x1="590.0" y1="411.1" x2="590.0" y2="414.5" stroke="#000" stroke-width="1" />
<line x1="660.5" y1="411.1" x2="660.5" y2="414.5" stroke="#000" stroke-width="1" />
<line x1="554.8" y1="411.1" x2="554.8" y2="413.2" stroke="#000" stroke-width="0.9" />
<line x1="625.2" y1="411.1" x2="625.2" y2="413.2" stroke="#000" stroke-width="0.9" />
<line x1="484.4" y1="411.1" x2="484.4" y2="414.5" stroke="#000" stroke-width="1" />
<text x="519.5" y="423.6" font-size="9.6" font-weight="bold" text-anchor="middle" >19.2</text>
<text x="590.0" y="423.6" font-size="9.6" font-weight="bold" text-anchor="middle" >20.0</text>
<text x="660.5" y="423.6" font-size="9.6" font-weight="bold" text-anchor="middle" >20.8</text>
<text x="518.4" y="435.6" font-size="13.8" font-weight="bold" textLength="124.6" lengthAdjust="spacingAndGlyphs" >Retention Time (min)</text>
<text x="477.5" y="334.8" font-size="13.5" font-weight="bold" text-anchor="middle" textLength="51.0" lengthAdjust="spacingAndGlyphs" transform="rotate(-90 477.5 334.8)" >Intensity</text>
<text x="9.8" y="461.5" font-size="28.5" textLength="14.5" lengthAdjust="spacingAndGlyphs" >g</text>
<text x="3.0" y="603.5" font-size="29" textLength="9.5" lengthAdjust="spacingAndGlyphs" >j</text>
<rect x="26.6" y="465.4" width="193.4" height="154.8" fill="none" stroke="#333" stroke-width="1.1" />
<rect x="30.1" y="470.1" width="15.8" height="8.4" fill="#8b3a0e" />
<text x="52.6" y="477.7" font-size="9.8" font-weight="bold" textLength="76.4" lengthAdjust="spacingAndGlyphs" >Others aromatics</text>
<path d="M27.00,551.20 C30.00,551.28 39.50,551.57 45.00,551.70 C50.50,551.83 56.08,551.92 60.00,552.00 C63.92,552.08 66.75,553.20 68.50,552.20 C70.25,551.20 69.83,549.70 70.50,546.00 C71.17,542.30 71.83,535.42 72.50,530.00 C73.17,524.58 73.83,514.83 74.50,513.50 C75.17,512.17 75.83,518.25 76.50,522.00 C77.17,525.75 77.75,532.42 78.50,536.00 C79.25,539.58 80.17,541.58 81.00,543.50 C81.83,545.42 82.70,546.65 83.50,547.50 C84.30,548.35 85.13,549.85 85.80,548.60 C86.47,547.35 87.00,542.60 87.50,540.00 C88.00,537.40 88.45,534.37 88.80,533.00 C89.15,531.63 89.27,531.47 89.60,531.80 C89.93,532.13 90.40,534.47 90.80,535.00 C91.20,535.53 91.55,535.42 92.00,535.00 C92.45,534.58 93.03,532.78 93.50,532.50 C93.97,532.22 94.30,532.38 94.80,533.30 C95.30,534.22 95.80,536.55 96.50,538.00 C97.20,539.45 97.92,540.80 99.00,542.00 C100.08,543.20 101.83,544.53 103.00,545.20 C104.17,545.87 105.17,545.92 106.00,546.00 C106.83,546.08 107.00,545.62 108.00,545.70 C109.00,545.78 110.00,546.12 112.00,546.50 C114.00,546.88 117.00,547.55 120.00,548.00 C123.00,548.45 125.83,548.82 130.00,549.20 C134.17,549.58 140.33,550.08 145.00,550.30 C149.67,550.52 155.33,550.62 158.00,550.50 C160.67,550.38 159.83,549.65 161.00,549.60 C162.17,549.55 161.83,549.93 165.00,550.20 C168.17,550.47 174.17,550.87 180.00,551.20 C185.83,551.53 193.33,551.92 200.00,552.20 C206.67,552.48 216.67,552.78 220.00,552.90" stroke="#ff2222" stroke-width="1.0" fill="none" stroke-linejoin="round" />
<path d="M27,587.4 L80,588.0 L140,588.3 L220,588.0" stroke="#f4b183" stroke-width="1.3" fill="none" stroke-linejoin="round" />
<text x="164.5" y="548.2" font-size="9.3" font-weight="bold" textLength="45.5" lengthAdjust="spacingAndGlyphs" >ZZO&amp;M-22</text>
<text x="178.5" y="585.0" font-size="9.3" font-weight="bold" textLength="18.5" lengthAdjust="spacingAndGlyphs" >ZZO</text>
<text x="82.7" y="607.1" font-size="8.7" font-weight="bold" textLength="75.6" lengthAdjust="spacingAndGlyphs" >CO<tspan dy="2" font-size="6">2</tspan><tspan dy="-2">+ H</tspan><tspan dy="2" font-size="6">2</tspan><tspan dy="-2">+Toluene</tspan></text>
<path d="M40.10,491.80 L47.20,495.90 L47.20,504.10 L40.10,508.20 L33.00,504.10 L33.00,495.90 Z" stroke="#000" stroke-width="0.9" fill="none" stroke-linejoin="round" />
<line x1="35.6" y1="496.7" x2="39.5" y2="494.5" stroke="#000" stroke-width="0.9" />
<line x1="45.2" y1="497.8" x2="45.2" y2="502.2" stroke="#000" stroke-width="0.9" />
<line x1="39.5" y1="505.5" x2="35.6" y2="503.3" stroke="#000" stroke-width="0.9" />
<path d="M70.80,491.80 L77.90,495.90 L77.90,504.10 L70.80,508.20 L63.70,504.10 L63.70,495.90 Z" stroke="#000" stroke-width="0.9" fill="none" stroke-linejoin="round" />
<line x1="66.3" y1="496.7" x2="70.2" y2="494.5" stroke="#000" stroke-width="0.9" />
<line x1="75.9" y1="497.8" x2="75.9" y2="502.2" stroke="#000" stroke-width="0.9" />
<line x1="70.2" y1="505.5" x2="66.3" y2="503.3" stroke="#000" stroke-width="0.9" />
<path d="M47.20,495.90 L55.45,491.39 L63.70,495.90" stroke="#000" stroke-width="0.9" fill="none" stroke-linejoin="round" />
<line x1="40.1" y1="491.8" x2="40.1" y2="483.2" stroke="#000" stroke-width="0.9" />
<line x1="77.9" y1="495.9" x2="85.3" y2="491.4" stroke="#000" stroke-width="0.9" />
<path d="M98.50,490.30 L105.60,494.40 L105.60,502.60 L98.50,506.70 L91.40,502.60 L91.40,494.40 Z" stroke="#000" stroke-width="0.9" fill="none" stroke-linejoin="round" />
<line x1="99.1" y1="493.0" x2="103.0" y2="495.2" stroke="#000" stroke-width="0.9" />
<line x1="103.0" y1="501.8" x2="99.1" y2="504.0" stroke="#000" stroke-width="0.9" />
<line x1="93.4" y1="500.7" x2="93.4" y2="496.3" stroke="#000" stroke-width="0.9" />
<path d="M131.00,490.30 L138.10,494.40 L138.10,502.60 L131.00,506.70 L123.90,502.60 L123.90,494.40 Z" stroke="#000" stroke-width="0.9" fill="none" stroke-linejoin="round" />
<line x1="131.6" y1="493.0" x2="135.5" y2="495.2" stroke="#000" stroke-width="0.9" />
<line x1="135.5" y1="501.8" x2="131.6" y2="504.0" stroke="#000" stroke-width="0.9" />
<line x1="125.9" y1="500.7" x2="125.9" y2="496.3" stroke="#000" stroke-width="0.9" />
<path d="M105.60,494.40 L114.75,489.89 L123.90,494.40" stroke="#000" stroke-width="0.9" fill="none" stroke-linejoin="round" />
<line x1="91.4" y1="502.6" x2="84.0" y2="507.1" stroke="#000" stroke-width="0.9" />
<line x1="138.1" y1="502.6" x2="145.5" y2="507.1" stroke="#000" stroke-width="0.9" />
<path d="M160.30,491.60 L167.40,495.70 L167.40,503.90 L160.30,508.00 L153.20,503.90 L153.20,495.70 Z" stroke="#000" stroke-width="0.9" fill="none" stroke-linejoin="round" />
<line x1="155.8" y1="496.5" x2="159.7" y2="494.3" stroke="#000" stroke-width="0.9" />
<line x1="165.4" y1="497.6" x2="165.4" y2="502.0" stroke="#000" stroke-width="0.9" />
<line x1="159.7" y1="505.3" x2="155.8" y2="503.1" stroke="#000" stroke-width="0.9" />
<path d="M191.30,491.60 L198.40,495.70 L198.40,503.90 L191.30,508.00 L184.20,503.90 L184.20,495.70 Z" stroke="#000" stroke-width="0.9" fill="none" stroke-linejoin="round" />
<line x1="191.9" y1="494.3" x2="195.8" y2="496.5" stroke="#000" stroke-width="0.9" />
<line x1="195.8" y1="503.1" x2="191.9" y2="505.3" stroke="#000" stroke-width="0.9" />
<line x1="186.2" y1="502.0" x2="186.2" y2="497.6" stroke="#000" stroke-width="0.9" />
<path d="M167.40,495.70 L175.80,491.19 L184.20,495.70" stroke="#000" stroke-width="0.9" fill="none" stroke-linejoin="round" />
<line x1="160.3" y1="491.6" x2="160.3" y2="483.0" stroke="#000" stroke-width="0.9" />
<line x1="198.4" y1="503.9" x2="205.8" y2="508.4" stroke="#000" stroke-width="0.9" />
<text x="36.4" y="516.6" font-size="8.6" font-weight="bold" textLength="28.4" lengthAdjust="spacingAndGlyphs" >2MMBT</text>
<text x="102.3" y="513.1" font-size="8.6" font-weight="bold" textLength="27.1" lengthAdjust="spacingAndGlyphs" >4PMBT</text>
<text x="162.2" y="515.5" font-size="8.6" font-weight="bold" textLength="26.1" lengthAdjust="spacingAndGlyphs" >2PMBT</text>
<line x1="74.2" y1="522.3" x2="65.0" y2="517.2" stroke="#000" stroke-width="1.0" />
<path d="M62.20,515.70 L66.52,516.14 L64.89,519.12 Z" stroke="none" stroke-width="0" fill="#000" stroke-linejoin="round" />
<line x1="89.3" y1="532.0" x2="97.4" y2="518.4" stroke="#000" stroke-width="1.0" />
<path d="M99.00,515.70 L98.42,520.01 L95.49,518.27 Z" stroke="none" stroke-width="0" fill="#000" stroke-linejoin="round" />
<line x1="96.0" y1="536.0" x2="155.0" y2="510.6" stroke="#000" stroke-width="1.0" />
<path d="M157.90,509.30 L154.90,512.45 L153.55,509.32 Z" stroke="none" stroke-width="0" fill="#000" stroke-linejoin="round" />
<line x1="61.7" y1="620.2" x2="61.7" y2="623.5" stroke="#000" stroke-width="1" />
<line x1="132.4" y1="620.2" x2="132.4" y2="623.5" stroke="#000" stroke-width="1" />
<line x1="203.1" y1="620.2" x2="203.1" y2="623.5" stroke="#000" stroke-width="1" />
<line x1="97.1" y1="620.2" x2="97.1" y2="622.2" stroke="#000" stroke-width="0.9" />
<line x1="167.7" y1="620.2" x2="167.7" y2="622.2" stroke="#000" stroke-width="0.9" />
<line x1="26.6" y1="620.2" x2="26.6" y2="623.5" stroke="#000" stroke-width="1" />
<text x="61.7" y="632.0" font-size="9.6" font-weight="bold" text-anchor="middle" >19.2</text>
<text x="132.4" y="632.0" font-size="9.6" font-weight="bold" text-anchor="middle" >20.0</text>
<text x="203.1" y="632.0" font-size="9.6" font-weight="bold" text-anchor="middle" >20.8</text>
<text x="60.3" y="644.3" font-size="13.8" font-weight="bold" textLength="124.7" lengthAdjust="spacingAndGlyphs" >Retention Time (min)</text>
<text x="16.6" y="543.0" font-size="13.5" font-weight="bold" text-anchor="middle" textLength="51.0" lengthAdjust="spacingAndGlyphs" transform="rotate(-90 16.6 543.0)" >Intensity</text>
<text x="242.6" y="466.3" font-size="29.5" textLength="16.2" lengthAdjust="spacingAndGlyphs" >h</text>
<rect x="259.4" y="463.8" width="191.9" height="155.5" fill="none" stroke="#000" stroke-width="1.1" />
<rect x="300.9" y="543.4" width="14.1" height="75.6" fill="#f8c7a6" />
<path d="M259.6,616.4 L306.3,616.4 L306.9,590.0 L307.3,565.0 L307.6,555.4 L307.9,570.0 L308.3,600.0 L308.9,616.2 L402.2,616.2 L402.8,580.0 L403.3,525.0 L403.7,508.3 L404.2,525.0 L404.8,590.0 L405.8,615.5 L410.0,616.4 L430.0,616.1 L451.0,616.3" stroke="#000" stroke-width="1.1" fill="none" stroke-linejoin="round" />
<line x1="306.9" y1="566.0" x2="306.9" y2="614.0" stroke="#000" stroke-width="0.9" />
<text x="309.0" y="538.1" font-size="8.4" font-weight="bold" text-anchor="middle" fill="#dd1122" textLength="23.5" lengthAdjust="spacingAndGlyphs" >HCHO</text>
<text x="316.0" y="610.2" font-size="7.8" font-weight="bold" fill="#dd1122" textLength="13.5" lengthAdjust="spacingAndGlyphs" >×50</text>
<text x="403.5" y="503.0" font-size="8.4" font-weight="bold" text-anchor="middle" textLength="26.3" lengthAdjust="spacingAndGlyphs" >CH<tspan dy="1.8" font-size="5.5">3</tspan><tspan dy="-1.8">OH</tspan></text>
<text x="269.9" y="477.7" font-size="7.5" font-weight="bold" textLength="81.0" lengthAdjust="spacingAndGlyphs" >Photo Energy = 11.0 ev</text>
<line x1="259.4" y1="619.3" x2="259.4" y2="622.8" stroke="#000" stroke-width="1" />
<text x="259.4" y="632.0" font-size="9.3" font-weight="bold" text-anchor="middle" >29</text>
<line x1="307.4" y1="619.3" x2="307.4" y2="622.8" stroke="#000" stroke-width="1" />
<text x="307.4" y="632.0" font-size="9.3" font-weight="bold" text-anchor="middle" >30</text>
<line x1="355.4" y1="619.3" x2="355.4" y2="622.8" stroke="#000" stroke-width="1" />
<text x="355.4" y="632.0" font-size="9.3" font-weight="bold" text-anchor="middle" >31</text>
<line x1="403.4" y1="619.3" x2="403.4" y2="622.8" stroke="#000" stroke-width="1" />
<text x="403.4" y="632.0" font-size="9.3" font-weight="bold" text-anchor="middle" >32</text>
<line x1="451.4" y1="619.3" x2="451.4" y2="622.8" stroke="#000" stroke-width="1" />
<text x="451.4" y="632.0" font-size="9.3" font-weight="bold" text-anchor="middle" >33</text>
<line x1="283.4" y1="619.3" x2="283.4" y2="621.5" stroke="#000" stroke-width="0.9" />
<line x1="331.4" y1="619.3" x2="331.4" y2="621.5" stroke="#000" stroke-width="0.9" />
<line x1="379.4" y1="619.3" x2="379.4" y2="621.5" stroke="#000" stroke-width="0.9" />
<line x1="427.4" y1="619.3" x2="427.4" y2="621.5" stroke="#000" stroke-width="0.9" />
<text x="345.5" y="644.0" font-size="13.8" font-weight="bold" textLength="22.2" lengthAdjust="spacingAndGlyphs" >m/z</text>
<text x="252.0" y="541.0" font-size="12.4" font-weight="bold" text-anchor="middle" textLength="137.3" lengthAdjust="spacingAndGlyphs" transform="rotate(-90 252.0 541.0)" >Ralative Ion Intensity (a.u.)</text>
<text x="469.0" y="465.4" font-size="28" textLength="7.2" lengthAdjust="spacingAndGlyphs" >i</text>
<rect x="482.3" y="465.2" width="193.5" height="155.5" fill="none" stroke="#000" stroke-width="1.1" />
<path d="M493.4,598.2 L504.1,598.2 L514.8,598.2 L525.5,598.2 L536.2,598.2 L546.9,598.5 L557.6,598.7 L568.3,584.0 L579.0,578.8 L589.7,582.5 L600.4,578.8 L611.1,577.8 L621.8,581.7 L632.5,574.4 L643.2,570.9 L653.9,568.4" stroke="#ee1111" stroke-width="1.1" fill="none" stroke-linejoin="round" />
<rect x="490.4" y="595.2" width="6.0" height="6.0" fill="#ee1111" />
<rect x="501.1" y="595.2" width="6.0" height="6.0" fill="#ee1111" />
<rect x="511.8" y="595.2" width="6.0" height="6.0" fill="#ee1111" />
<rect x="522.5" y="595.2" width="6.0" height="6.0" fill="#ee1111" />
<rect x="533.2" y="595.2" width="6.0" height="6.0" fill="#ee1111" />
<rect x="543.9" y="595.5" width="6.0" height="6.0" fill="#ee1111" />
<rect x="554.6" y="595.7" width="6.0" height="6.0" fill="#ee1111" />
<rect x="565.3" y="581.0" width="6.0" height="6.0" fill="#ee1111" />
<rect x="576.0" y="575.8" width="6.0" height="6.0" fill="#ee1111" />
<rect x="586.7" y="579.5" width="6.0" height="6.0" fill="#ee1111" />
<rect x="597.4" y="575.8" width="6.0" height="6.0" fill="#ee1111" />
<rect x="608.1" y="574.8" width="6.0" height="6.0" fill="#ee1111" />
<rect x="618.8" y="578.7" width="6.0" height="6.0" fill="#ee1111" />
<rect x="629.5" y="571.4" width="6.0" height="6.0" fill="#ee1111" />
<rect x="640.2" y="567.9" width="6.0" height="6.0" fill="#ee1111" />
<rect x="650.9" y="565.4" width="6.0" height="6.0" fill="#ee1111" />
<path d="M493.4,599.3 L504.1,599.3 L514.8,599.3 L525.5,599.3 L536.2,599.3 L546.9,599.3 L557.6,589.0 L568.3,571.7 L579.0,562.5 L589.7,544.5 L600.4,531.0 L611.1,521.1 L621.8,507.0 L632.5,498.9 L643.2,488.4 L653.9,475.8" stroke="#000" stroke-width="1.1" fill="none" stroke-linejoin="round" />
<circle cx="493.4" cy="599.3" r="3.2" fill="#000"/>
<circle cx="504.1" cy="599.3" r="3.2" fill="#000"/>
<circle cx="514.8" cy="599.3" r="3.2" fill="#000"/>
<circle cx="525.5" cy="599.3" r="3.2" fill="#000"/>
<circle cx="536.2" cy="599.3" r="3.2" fill="#000"/>
<circle cx="546.9" cy="599.3" r="3.2" fill="#000"/>
<circle cx="557.6" cy="589.0" r="3.2" fill="#000"/>
<circle cx="568.3" cy="571.7" r="3.2" fill="#000"/>
<circle cx="579.0" cy="562.5" r="3.2" fill="#000"/>
<circle cx="589.7" cy="544.5" r="3.2" fill="#000"/>
<circle cx="600.4" cy="531.0" r="3.2" fill="#000"/>
<circle cx="611.1" cy="521.1" r="3.2" fill="#000"/>
<circle cx="621.8" cy="507.0" r="3.2" fill="#000"/>
<circle cx="632.5" cy="498.9" r="3.2" fill="#000"/>
<circle cx="643.2" cy="488.4" r="3.2" fill="#000"/>
<circle cx="653.9" cy="475.8" r="3.2" fill="#000"/>
<line x1="490.9" y1="475.0" x2="495.3" y2="475.0" stroke="#ee1111" stroke-width="1.2" />
<line x1="505.0" y1="475.0" x2="509.2" y2="475.0" stroke="#ee1111" stroke-width="1.2" />
<rect x="497.4" y="472.2" width="5.6" height="5.6" fill="#ee1111" />
<text x="511.9" y="477.7" font-size="7.6" font-weight="bold" fill="#ee1111" textLength="26.8" lengthAdjust="spacingAndGlyphs" >m/z=30</text>
<line x1="490.9" y1="485.2" x2="495.3" y2="485.2" stroke="#000" stroke-width="1.2" />
<line x1="505.0" y1="485.2" x2="509.2" y2="485.2" stroke="#000" stroke-width="1.2" />
<circle cx="500.2" cy="485.2" r="2.9" fill="#000"/>
<text x="511.9" y="487.7" font-size="7.6" font-weight="bold" textLength="26.8" lengthAdjust="spacingAndGlyphs" >m/z=32</text>
<text x="543.0" y="554.3" font-size="7.8" font-weight="bold" textLength="32.0" lengthAdjust="spacingAndGlyphs" >10.85 eV</text>
<line x1="557.3" y1="557.5" x2="557.3" y2="581.8" stroke="#000" stroke-width="0.8" />
<path d="M557.30,585.00 L555.90,581.00 L558.70,581.00 Z" stroke="none" stroke-width="0" fill="#000" stroke-linejoin="round" />
<text x="572.4" y="606.4" font-size="7.8" font-weight="bold" fill="#dd1122" textLength="31.6" lengthAdjust="spacingAndGlyphs" >10.90 eV</text>
<line x1="568.5" y1="612.0" x2="568.5" y2="591.7" stroke="#dd1122" stroke-width="0.8" />
<path d="M568.50,588.50 L569.90,592.50 L567.10,592.50 Z" stroke="none" stroke-width="0" fill="#dd1122" stroke-linejoin="round" />
<text x="616.7" y="593.0" font-size="7.8" font-weight="bold" fill="#dd1122" textLength="14.0" lengthAdjust="spacingAndGlyphs" >×50</text>
<line x1="504.1" y1="620.7" x2="504.1" y2="624.0" stroke="#000" stroke-width="1" />
<text x="504.1" y="632.4" font-size="9.0" font-weight="bold" text-anchor="middle" >10.6</text>
<line x1="546.9" y1="620.7" x2="546.9" y2="624.0" stroke="#000" stroke-width="1" />
<text x="546.9" y="632.4" font-size="9.0" font-weight="bold" text-anchor="middle" >10.8</text>
<line x1="589.7" y1="620.7" x2="589.7" y2="624.0" stroke="#000" stroke-width="1" />
<text x="589.7" y="632.4" font-size="9.0" font-weight="bold" text-anchor="middle" >11.0</text>
<line x1="632.5" y1="620.7" x2="632.5" y2="624.0" stroke="#000" stroke-width="1" />
<text x="632.5" y="632.4" font-size="9.0" font-weight="bold" text-anchor="middle" >11.2</text>
<line x1="675.3" y1="620.7" x2="675.3" y2="624.0" stroke="#000" stroke-width="1" />
<text x="675.3" y="632.4" font-size="9.0" font-weight="bold" text-anchor="middle" >11.4</text>
<line x1="482.7" y1="620.7" x2="482.7" y2="622.7" stroke="#000" stroke-width="0.9" />
<line x1="525.5" y1="620.7" x2="525.5" y2="622.7" stroke="#000" stroke-width="0.9" />
<line x1="568.3" y1="620.7" x2="568.3" y2="622.7" stroke="#000" stroke-width="0.9" />
<line x1="611.1" y1="620.7" x2="611.1" y2="622.7" stroke="#000" stroke-width="0.9" />
<line x1="653.9" y1="620.7" x2="653.9" y2="622.7" stroke="#000" stroke-width="0.9" />
<text x="522.3" y="644.2" font-size="13.8" font-weight="bold" textLength="113.7" lengthAdjust="spacingAndGlyphs" >Photo Energy (eV)</text>
<text x="476.0" y="542.2" font-size="12.4" font-weight="bold" text-anchor="middle" textLength="92.2" lengthAdjust="spacingAndGlyphs" transform="rotate(-90 476.0 542.2)" >Ion Intensity (a.u.)</text>
<defs><filter id="sh" x="-5%" y="-5%" width="110%" height="115%"><feGaussianBlur stdDeviation="1.4"/></filter><filter id="bl" x="-10%" y="-30%" width="120%" height="160%"><feGaussianBlur stdDeviation="1.5"/></filter></defs>
<rect x="96.2" y="688.6" width="179.6" height="143.4" fill="#8a8a8a" rx="18" filter="url(#sh)" opacity="0.8"/>
<rect x="94.6" y="686.6" width="179.6" height="143.4" fill="#e5e5e5" rx="18" />
<rect x="155.4" y="696.5" width="61.0" height="18.7" fill="#f0f0f0" filter="url(#bl)"/>
<rect x="156.2" y="746.0" width="64.2" height="18.7" fill="#f0f0f0" filter="url(#bl)"/>
<rect x="158.7" y="793.9" width="63.3" height="21.1" fill="#f0f0f0" filter="url(#bl)"/>
<rect x="273.0" y="686.4" width="388.5" height="145.6" fill="#8a8a8a" rx="17" filter="url(#sh)" opacity="0.8"/>
<rect x="274.5" y="684.4" width="385.4" height="145.6" fill="#f3b285" rx="17" />
<text x="143.1" y="676.9" font-size="18.7" font-weight="bold" textLength="56.4" lengthAdjust="spacingAndGlyphs" >ZnZrO</text>
<text x="409.5" y="675.7" font-size="18.5" font-weight="bold" textLength="70.6" lengthAdjust="spacingAndGlyphs" >MCM-22</text>
<text x="31.1" y="714.1" font-size="16.6" font-weight="bold" textLength="31.1" lengthAdjust="spacingAndGlyphs" >CO<tspan dy="3.5" font-size="11.5">2</tspan></text>
<text x="96.9" y="714.1" font-size="16.6" font-weight="bold" textLength="38.5" lengthAdjust="spacingAndGlyphs" ><tspan fill="#ee1111">C</tspan>O<tspan dy="3.5" font-size="11.5">2</tspan><tspan dy="-6.2" font-size="15.5" font-weight="normal">*</tspan></text>
<text x="157.5" y="711.9" font-size="17.2" font-weight="bold" textLength="56.4" lengthAdjust="spacingAndGlyphs" >H<tspan fill="#ee1111">C</tspan>OO*</text>
<text x="158.7" y="761.8" font-size="17.2" font-weight="bold" textLength="55.7" lengthAdjust="spacingAndGlyphs" >H<tspan fill="#ee1111">C</tspan>HO*</text>
<text x="161.9" y="810.1" font-size="17.2" font-weight="bold" textLength="49.5" lengthAdjust="spacingAndGlyphs" >CH<tspan dy="3.5" font-size="11.5">3</tspan><tspan dy="-3.5">O*</tspan></text>
<text x="159.8" y="857.9" font-size="17.2" font-weight="bold" textLength="54.9" lengthAdjust="spacingAndGlyphs" >CH<tspan dy="3.5" font-size="11.5">3</tspan><tspan dy="-3.5">OH</tspan></text>
<text x="37.3" y="786.1" font-size="16.6" font-weight="bold" textLength="17.3" lengthAdjust="spacingAndGlyphs" >H<tspan dy="3.5" font-size="11.5">2</tspan></text>
<text x="101.0" y="784.4" font-size="18.5" font-weight="bold" fill="#1db04d" textLength="20.0" lengthAdjust="spacingAndGlyphs" >H*</text>
<text x="229.3" y="742.0" font-size="16.7" font-weight="bold" textLength="75.3" lengthAdjust="spacingAndGlyphs" >Migration</text>
<text x="313.1" y="761.0" font-size="17.0" font-weight="bold" textLength="54.1" lengthAdjust="spacingAndGlyphs" >H<tspan fill="#ee1111">C</tspan>HO*</text>
<path d="M64.2,708 L91,708" stroke="#000" stroke-width="3.0" fill="none" stroke-dasharray="8,3.6" stroke-linejoin="round" />
<path d="M98.00,708.00 L90.00,712.10 L90.00,703.90 Z" stroke="none" stroke-width="0" fill="#000" stroke-linejoin="round" />
<path d="M64.2,779.9 L91,779.9" stroke="#000" stroke-width="3.0" fill="none" stroke-dasharray="8,3.6" stroke-linejoin="round" />
<path d="M98.90,779.90 L90.90,784.00 L90.90,775.80 Z" stroke="none" stroke-width="0" fill="#000" stroke-linejoin="round" />
<line x1="137.0" y1="708.4" x2="148.8" y2="708.4" stroke="#000" stroke-width="2.6" />
<path d="M155.8,708.4 L147.8,704.2 L147.8,712.6 Z" stroke="none" stroke-width="0" fill="#000" stroke-linejoin="round" />
<line x1="180.4" y1="716.0" x2="180.4" y2="737.0" stroke="#000" stroke-width="2.3" />
<path d="M180.4,746.0 L175.9,736.0 L184.9,736.0 Z" stroke="none" stroke-width="0" fill="#000" stroke-linejoin="round" />
<line x1="180.4" y1="763.9" x2="180.4" y2="782.5" stroke="#000" stroke-width="2.3" />
<path d="M180.4,791.5 L175.9,781.5 L184.9,781.5 Z" stroke="none" stroke-width="0" fill="#000" stroke-linejoin="round" />
<line x1="180.4" y1="815.8" x2="180.4" y2="836.5" stroke="#000" stroke-width="2.3" />
<path d="M180.4,845.5 L175.9,835.5 L184.9,835.5 Z" stroke="none" stroke-width="0" fill="#000" stroke-linejoin="round" />
<path d="M118.3,764.9 C126,756 135,744 141.5,722" stroke="#000" stroke-width="2.8" fill="none" stroke-dasharray="7,3.4" stroke-linejoin="round" />
<path d="M143.90,711.30 L146.22,722.02 L137.42,720.15 Z" stroke="none" stroke-width="0" fill="#000" stroke-linejoin="round" />
<path d="M120.6,766.4 C135,752 148,741 165.5,735" stroke="#000" stroke-width="2.8" fill="none" stroke-dasharray="7,3.4" stroke-linejoin="round" />
<path d="M174.90,732.40 L166.41,739.33 L164.08,730.64 Z" stroke="none" stroke-width="0" fill="#000" stroke-linejoin="round" />
<path d="M119.8,782.7 L165,782.7" stroke="#000" stroke-width="2.8" fill="none" stroke-dasharray="7,3.4" stroke-linejoin="round" />
<path d="M174.10,782.70 L164.10,787.20 L164.10,778.20 Z" stroke="none" stroke-width="0" fill="#000" stroke-linejoin="round" />
<path d="M118.3,792.0 C132,803 146,812 164.5,818.3" stroke="#000" stroke-width="2.8" fill="none" stroke-dasharray="7,3.4" stroke-linejoin="round" />
<path d="M174.10,820.70 L163.31,822.65 L165.49,813.91 Z" stroke="none" stroke-width="0" fill="#000" stroke-linejoin="round" />
<path d="M223.4,753.6 Q262,740 299.5,754.8" stroke="#000" stroke-width="3.0" fill="none" stroke-dasharray="8,3.6" stroke-linejoin="round" />
<path d="M308.70,758.50 L297.09,759.20 L300.84,749.93 Z" stroke="none" stroke-width="0" fill="#000" stroke-linejoin="round" />
<path d="M385.70,724.10 L397.39,730.85 L397.39,744.35 L385.70,751.10 L374.01,744.35 L374.01,730.85 Z" stroke="#000" stroke-width="1.35" fill="none" stroke-linejoin="round" />
<line x1="378.3" y1="732.2" x2="384.7" y2="728.5" stroke="#000" stroke-width="1.35" />
<line x1="394.1" y1="733.9" x2="394.1" y2="741.3" stroke="#000" stroke-width="1.35" />
<line x1="384.7" y1="746.7" x2="378.3" y2="743.0" stroke="#000" stroke-width="1.35" />
<line x1="385.7" y1="724.1" x2="385.7" y2="710.4" stroke="#000" stroke-width="1.2" />
<line x1="370.9" y1="757.0" x2="399.3" y2="757.0" stroke="#000" stroke-width="2.2" />
<path d="M405.8,757.0 L398.3,753.0 L398.3,761.0 Z" stroke="none" stroke-width="0" fill="#000" stroke-linejoin="round" />
<path d="M428.07,741.21 L439.61,748.42 L439.13,762.01 L427.13,768.39 L415.59,761.18 L416.07,747.59 Z" stroke="#000" stroke-width="1.35" fill="none" stroke-linejoin="round" />
<line x1="420.3" y1="749.1" x2="426.9" y2="745.6" stroke="#000" stroke-width="1.35" />
<line x1="436.2" y1="751.4" x2="435.9" y2="758.8" stroke="#000" stroke-width="1.35" />
<line x1="426.3" y1="764.0" x2="420.0" y2="760.0" stroke="#000" stroke-width="1.35" />
<line x1="415.6" y1="761.2" x2="405.0" y2="769.9" stroke="#000" stroke-width="1.2" />
<path d="M439.6,748.4 L449.1,739.3 L449.1,730.5" stroke="#ee1111" stroke-width="1.2" fill="none" stroke-linejoin="round" />
<text x="438.4" y="729.2" font-size="9.5" font-weight="bold" fill="#ee1111" textLength="13.1" lengthAdjust="spacingAndGlyphs" >HO</text>
<path d="M483,690.1 Q470.5,689.5 470.5,697 L470.5,748 Q470.5,754.5 457.3,754.5 Q470.5,754.5 470.5,761 L470.5,811 Q470.5,818.4 483,818.4" stroke="#000" stroke-width="2.0" fill="none" stroke-linejoin="round" />
<text x="482.2" y="706.1" font-size="14.2" font-weight="bold" textLength="59.2" lengthAdjust="spacingAndGlyphs" >-H<tspan dy="3" font-size="10">2</tspan><tspan dy="-3">O/</tspan><tspan fill="#1db04d">H*</tspan></text>
<line x1="481.3" y1="712.7" x2="532.6" y2="712.7" stroke="#000" stroke-width="2.3" />
<path d="M539.4,712.7 L531.6,708.8 L531.6,716.6 Z" stroke="none" stroke-width="0" fill="#000" stroke-linejoin="round" />
<line x1="481.3" y1="796.6" x2="532.9" y2="796.6" stroke="#000" stroke-width="2.3" />
<path d="M539.7,796.6 L531.9,792.7 L531.9,800.5 Z" stroke="none" stroke-width="0" fill="#000" stroke-linejoin="round" />
<text x="491.4" y="814.9" font-size="16.0" font-weight="bold" textLength="36.1" lengthAdjust="spacingAndGlyphs" >-H<tspan dy="3.5" font-size="11">2</tspan><tspan dy="-3.5">O</tspan></text>
<path d="M594.40,710.20 L587.40,722.32 L573.40,722.32 L566.40,710.20 L573.40,698.08 L587.40,698.08 Z" stroke="#000" stroke-width="1.35" fill="none" stroke-linejoin="round" />
<line x1="589.9" y1="711.2" x2="586.0" y2="717.9" stroke="#000" stroke-width="1.35" />
<line x1="574.8" y1="717.9" x2="570.9" y2="711.2" stroke="#000" stroke-width="1.35" />
<line x1="576.6" y1="701.5" x2="584.2" y2="701.5" stroke="#000" stroke-width="1.35" />
<line x1="551.1" y1="710.2" x2="566.4" y2="710.2" stroke="#000" stroke-width="1.2" />
<line x1="594.4" y1="710.2" x2="608.4" y2="710.2" stroke="#ee1111" stroke-width="1.2" />
<path d="M519.60,778.20 L512.70,790.15 L498.90,790.15 L492.00,778.20 L498.90,766.25 L512.70,766.25 Z" stroke="#000" stroke-width="1.35" fill="none" stroke-linejoin="round" />
<line x1="509.6" y1="786.8" x2="502.0" y2="786.8" stroke="#000" stroke-width="1.35" />
<line x1="496.5" y1="777.2" x2="500.2" y2="770.6" stroke="#000" stroke-width="1.35" />
<line x1="511.4" y1="770.6" x2="515.1" y2="777.2" stroke="#000" stroke-width="1.35" />
<line x1="519.6" y1="778.2" x2="533.6" y2="778.2" stroke="#000" stroke-width="1.2" />
<path d="M572.70,782.50 L585.00,789.60 L585.00,803.80 L572.70,810.90 L560.40,803.80 L560.40,789.60 Z" stroke="#000" stroke-width="1.35" fill="none" stroke-linejoin="round" />
<line x1="564.9" y1="791.0" x2="571.6" y2="787.1" stroke="#000" stroke-width="1.35" />
<line x1="581.6" y1="792.8" x2="581.6" y2="800.6" stroke="#000" stroke-width="1.35" />
<line x1="571.6" y1="806.3" x2="564.9" y2="802.4" stroke="#000" stroke-width="1.35" />
<path d="M619.50,782.90 L631.62,789.90 L631.62,803.90 L619.50,810.90 L607.38,803.90 L607.38,789.90 Z" stroke="#000" stroke-width="1.35" fill="none" stroke-linejoin="round" />
<line x1="611.8" y1="791.3" x2="618.5" y2="787.4" stroke="#000" stroke-width="1.35" />
<line x1="628.2" y1="793.1" x2="628.2" y2="800.7" stroke="#000" stroke-width="1.35" />
<line x1="618.5" y1="806.4" x2="611.8" y2="802.5" stroke="#000" stroke-width="1.35" />
<line x1="560.4" y1="803.8" x2="548.2" y2="810.5" stroke="#000" stroke-width="1.2" />
<path d="M585.0,789.6 L595.8,782.9 L607.4,789.9" stroke="#ee1111" stroke-width="1.2" fill="none" stroke-linejoin="round" />
<line x1="630.0" y1="790.7" x2="630.0" y2="802.1" stroke="#000" stroke-width="1.2" />
<line x1="630.0" y1="796.5" x2="639.0" y2="796.5" stroke="#000" stroke-width="1.2" />
<text x="639.6" y="800.4" font-size="9.0" textLength="16.1" lengthAdjust="spacingAndGlyphs" >CH<tspan dy="1.5" font-size="6.5">3</tspan></text>
</svg></body></html>
